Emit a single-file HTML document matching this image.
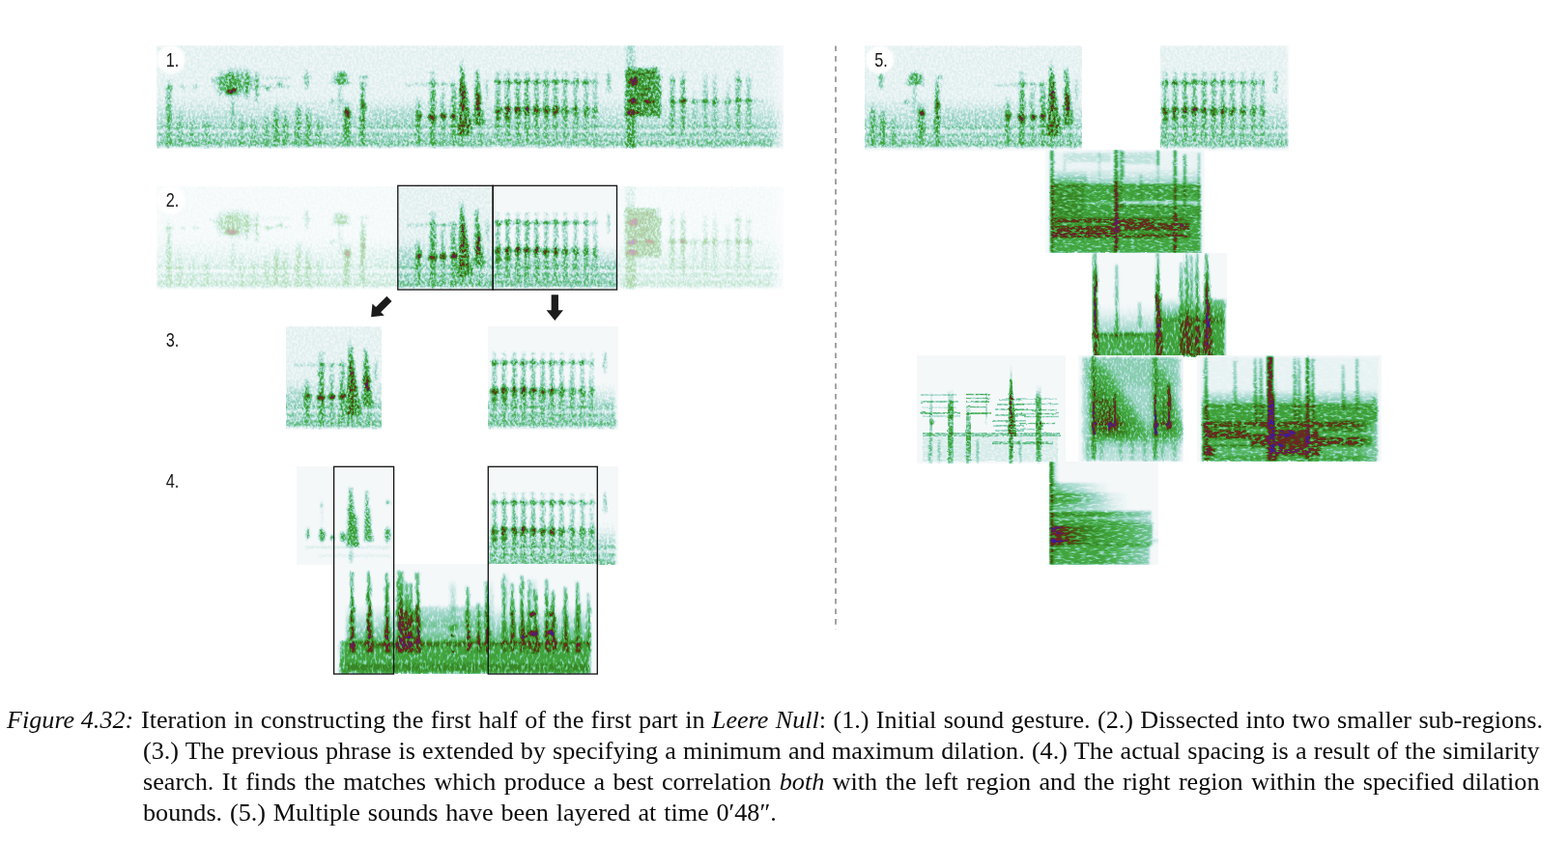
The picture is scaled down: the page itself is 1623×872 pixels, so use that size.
<!DOCTYPE html>
<html lang="en"><head><meta charset="utf-8"><title>Figure 4.32</title>
<style>
html,body{margin:0;padding:0;background:#fff}
body{width:1623px;height:872px;position:relative;overflow:hidden;font-family:"Liberation Serif",serif;color:#0a0a0a}
svg{position:absolute;left:0;top:0}
.x{mix-blend-mode:screen}
.c{position:absolute;font-size:25.3px;line-height:32px;height:32px;white-space:nowrap;transform:scaleX(1.034);transform-origin:0 0}
.j{left:148px;width:1398px;text-align:justify;text-align-last:justify;white-space:normal}
</style></head><body>
<svg width="1623" height="872" viewBox="0 0 1623 872">
<defs><filter id="soft" x="-20%" y="-20%" width="140%" height="140%"><feGaussianBlur stdDeviation="0.9"/></filter>
<linearGradient id="gv" x1="0" y1="0" x2="0" y2="1"><stop offset="0" stop-color="#ff0" stop-opacity="0"/><stop offset="0.25" stop-color="#ff0" stop-opacity="0.8"/><stop offset="0.6" stop-color="#ff0" stop-opacity="1"/><stop offset="1" stop-color="#ff0" stop-opacity="0.5"/></linearGradient>
<linearGradient id="gt" x1="0" y1="0" x2="0" y2="1"><stop offset="0" stop-color="#ff0" stop-opacity="0.7"/><stop offset="0.3" stop-color="#ff0" stop-opacity="0.9"/><stop offset="0.75" stop-color="#ff0" stop-opacity="1"/><stop offset="1" stop-color="#ff0" stop-opacity="0.9"/></linearGradient>
<linearGradient id="gd" x1="0" y1="0" x2="0" y2="1"><stop offset="0" stop-color="#ff0" stop-opacity="0"/><stop offset="1" stop-color="#ff0" stop-opacity="1"/></linearGradient>
<linearGradient id="gu" x1="0" y1="0" x2="0" y2="1"><stop offset="0" stop-color="#ff0" stop-opacity="1"/><stop offset="1" stop-color="#ff0" stop-opacity="0"/></linearGradient>
<linearGradient id="gl" x1="0" y1="0" x2="1" y2="0"><stop offset="0" stop-color="#ff0" stop-opacity="1"/><stop offset="1" stop-color="#ff0" stop-opacity="0"/></linearGradient>
<linearGradient id="gri" x1="0" y1="0" x2="1" y2="0"><stop offset="0" stop-color="#ff0" stop-opacity="0"/><stop offset="1" stop-color="#ff0" stop-opacity="1"/></linearGradient>
<linearGradient id="kd" x1="0" y1="0" x2="0" y2="1"><stop offset="0" stop-color="#000" stop-opacity="0"/><stop offset="1" stop-color="#000" stop-opacity="1"/></linearGradient>
<linearGradient id="ku" x1="0" y1="0" x2="0" y2="1"><stop offset="0" stop-color="#000" stop-opacity="1"/><stop offset="1" stop-color="#000" stop-opacity="0"/></linearGradient>
<linearGradient id="kl" x1="0" y1="0" x2="1" y2="0"><stop offset="0" stop-color="#000" stop-opacity="1"/><stop offset="1" stop-color="#000" stop-opacity="0"/></linearGradient>
<linearGradient id="kri" x1="0" y1="0" x2="1" y2="0"><stop offset="0" stop-color="#000" stop-opacity="0"/><stop offset="1" stop-color="#000" stop-opacity="1"/></linearGradient>
<filter id="sb" x="-30%" y="-30%" width="160%" height="160%"><feGaussianBlur stdDeviation="5"/></filter>
<filter id="sb3" x="-30%" y="-30%" width="160%" height="160%"><feGaussianBlur stdDeviation="2.5"/></filter>
<radialGradient id="hr"><stop offset="0" stop-color="#00f" stop-opacity="1"/><stop offset="0.6" stop-color="#00f" stop-opacity="0.95"/><stop offset="1" stop-color="#00f" stop-opacity="0"/></radialGradient>
<linearGradient id="hv" x1="0" y1="0" x2="0" y2="1"><stop offset="0" stop-color="#00f" stop-opacity="0"/><stop offset="0.2" stop-color="#00f" stop-opacity="0.9"/><stop offset="0.8" stop-color="#00f" stop-opacity="1"/><stop offset="1" stop-color="#00f" stop-opacity="0.3"/></linearGradient>
<linearGradient id="hl" x1="0" y1="0" x2="1" y2="0"><stop offset="0" stop-color="#00f" stop-opacity="1"/><stop offset="1" stop-color="#00f" stop-opacity="0"/></linearGradient>
<radialGradient id="gr"><stop offset="0" stop-color="#ff0" stop-opacity="1"/><stop offset="0.55" stop-color="#ff0" stop-opacity="0.92"/><stop offset="1" stop-color="#ff0" stop-opacity="0"/></radialGradient>
<filter id="f1" filterUnits="userSpaceOnUse" x="162.5" y="47.8" width="648.1" height="106.2" color-interpolation-filters="sRGB"><feGaussianBlur in="SourceGraphic" stdDeviation="0.85" result="b"/><feTurbulence type="fractalNoise" baseFrequency="0.2 0.12" numOctaves="2" seed="20" result="tc"/><feDisplacementMap in="b" in2="tc" scale="3.5" xChannelSelector="R" yChannelSelector="G" result="b"/><feColorMatrix in="b" type="matrix" values="1 0 0 0 0 1 0 0 0 0 1 0 0 0 0 0 0 0 0 1" result="e"/><feColorMatrix in="b" type="matrix" values="0 0 1.12 0 0 0 0 1.12 0 0 0 0 1.12 0 0 0 0 0 0 1" result="h"/><feTurbulence type="fractalNoise" baseFrequency="0.42 0.34" numOctaves="2" seed="3" result="t"/><feColorMatrix in="t" type="matrix" values="3.2 0 0 0 -1 3.2 0 0 0 -1 3.2 0 0 0 -1 0 0 0 0 1" result="n"/><feComposite in="e" in2="n" operator="arithmetic" k1="0.6" k2="0.42" k3="0" k4="-0.04" result="i"/><feComposite in="h" in2="n" operator="arithmetic" k1="0.2" k2="0.8" k3="0" k4="0" result="hh"/><feBlend in="i" in2="hh" mode="lighten" result="ii"/><feComponentTransfer in="ii" result="c"><feFuncR type="table" tableValues="0.961 0.939 0.917 0.895 0.862 0.827 0.791 0.756 0.720 0.684 0.648 0.612 0.576 0.540 0.503 0.466 0.429 0.395 0.371 0.346 0.322 0.297 0.279 0.270 0.261 0.252 0.243 0.237 0.235 0.232 0.229 0.248 0.283 0.318 0.353 0.380 0.407 0.434 0.418 0.392 0.235"/><feFuncG type="table" tableValues="0.973 0.964 0.955 0.947 0.934 0.920 0.907 0.893 0.879 0.865 0.851 0.837 0.824 0.809 0.794 0.779 0.765 0.750 0.734 0.719 0.703 0.688 0.673 0.659 0.645 0.631 0.617 0.594 0.565 0.535 0.506 0.451 0.379 0.307 0.235 0.201 0.167 0.132 0.119 0.110 0.110"/><feFuncB type="table" tableValues="0.980 0.968 0.956 0.944 0.927 0.909 0.892 0.874 0.850 0.825 0.800 0.774 0.749 0.698 0.646 0.595 0.543 0.493 0.447 0.401 0.356 0.310 0.276 0.262 0.247 0.232 0.218 0.200 0.180 0.161 0.141 0.125 0.112 0.099 0.086 0.111 0.135 0.160 0.252 0.361 0.596"/></feComponentTransfer><feGaussianBlur in="c" stdDeviation="0.55"/></filter>
<filter id="f2" filterUnits="userSpaceOnUse" x="162.5" y="193" width="648" height="107" color-interpolation-filters="sRGB"><feGaussianBlur in="SourceGraphic" stdDeviation="0.85" result="b"/><feTurbulence type="fractalNoise" baseFrequency="0.2 0.12" numOctaves="2" seed="20" result="tc"/><feDisplacementMap in="b" in2="tc" scale="3.5" xChannelSelector="R" yChannelSelector="G" result="b"/><feColorMatrix in="b" type="matrix" values="1 0 0 0 0 1 0 0 0 0 1 0 0 0 0 0 0 0 0 1" result="e"/><feColorMatrix in="b" type="matrix" values="0 0 1.12 0 0 0 0 1.12 0 0 0 0 1.12 0 0 0 0 0 0 1" result="h"/><feTurbulence type="fractalNoise" baseFrequency="0.42 0.34" numOctaves="2" seed="3" result="t"/><feColorMatrix in="t" type="matrix" values="3.2 0 0 0 -1 3.2 0 0 0 -1 3.2 0 0 0 -1 0 0 0 0 1" result="n"/><feComposite in="e" in2="n" operator="arithmetic" k1="0.6" k2="0.42" k3="0" k4="-0.04" result="i"/><feComposite in="h" in2="n" operator="arithmetic" k1="0.2" k2="0.8" k3="0" k4="0" result="hh"/><feBlend in="i" in2="hh" mode="lighten" result="ii"/><feComponentTransfer in="ii" result="c"><feFuncR type="table" tableValues="0.961 0.939 0.917 0.895 0.862 0.827 0.791 0.756 0.720 0.684 0.648 0.612 0.576 0.540 0.503 0.466 0.429 0.395 0.371 0.346 0.322 0.297 0.279 0.270 0.261 0.252 0.243 0.237 0.235 0.232 0.229 0.248 0.283 0.318 0.353 0.380 0.407 0.434 0.418 0.392 0.235"/><feFuncG type="table" tableValues="0.973 0.964 0.955 0.947 0.934 0.920 0.907 0.893 0.879 0.865 0.851 0.837 0.824 0.809 0.794 0.779 0.765 0.750 0.734 0.719 0.703 0.688 0.673 0.659 0.645 0.631 0.617 0.594 0.565 0.535 0.506 0.451 0.379 0.307 0.235 0.201 0.167 0.132 0.119 0.110 0.110"/><feFuncB type="table" tableValues="0.980 0.968 0.956 0.944 0.927 0.909 0.892 0.874 0.850 0.825 0.800 0.774 0.749 0.698 0.646 0.595 0.543 0.493 0.447 0.401 0.356 0.310 0.276 0.262 0.247 0.232 0.218 0.200 0.180 0.161 0.141 0.125 0.112 0.099 0.086 0.111 0.135 0.160 0.252 0.361 0.596"/></feComponentTransfer><feGaussianBlur in="c" stdDeviation="0.55"/></filter>
<filter id="f3a" filterUnits="userSpaceOnUse" x="296.5" y="338" width="98.5" height="107" color-interpolation-filters="sRGB"><feGaussianBlur in="SourceGraphic" stdDeviation="0.85" result="b"/><feTurbulence type="fractalNoise" baseFrequency="0.2 0.12" numOctaves="2" seed="20" result="tc"/><feDisplacementMap in="b" in2="tc" scale="3.5" xChannelSelector="R" yChannelSelector="G" result="b"/><feColorMatrix in="b" type="matrix" values="1 0 0 0 0 1 0 0 0 0 1 0 0 0 0 0 0 0 0 1" result="e"/><feColorMatrix in="b" type="matrix" values="0 0 1.12 0 0 0 0 1.12 0 0 0 0 1.12 0 0 0 0 0 0 1" result="h"/><feTurbulence type="fractalNoise" baseFrequency="0.42 0.34" numOctaves="2" seed="3" result="t"/><feColorMatrix in="t" type="matrix" values="3.2 0 0 0 -1 3.2 0 0 0 -1 3.2 0 0 0 -1 0 0 0 0 1" result="n"/><feComposite in="e" in2="n" operator="arithmetic" k1="0.6" k2="0.42" k3="0" k4="-0.04" result="i"/><feComposite in="h" in2="n" operator="arithmetic" k1="0.2" k2="0.8" k3="0" k4="0" result="hh"/><feBlend in="i" in2="hh" mode="lighten" result="ii"/><feComponentTransfer in="ii" result="c"><feFuncR type="table" tableValues="0.961 0.939 0.917 0.895 0.862 0.827 0.791 0.756 0.720 0.684 0.648 0.612 0.576 0.540 0.503 0.466 0.429 0.395 0.371 0.346 0.322 0.297 0.279 0.270 0.261 0.252 0.243 0.237 0.235 0.232 0.229 0.248 0.283 0.318 0.353 0.380 0.407 0.434 0.418 0.392 0.235"/><feFuncG type="table" tableValues="0.973 0.964 0.955 0.947 0.934 0.920 0.907 0.893 0.879 0.865 0.851 0.837 0.824 0.809 0.794 0.779 0.765 0.750 0.734 0.719 0.703 0.688 0.673 0.659 0.645 0.631 0.617 0.594 0.565 0.535 0.506 0.451 0.379 0.307 0.235 0.201 0.167 0.132 0.119 0.110 0.110"/><feFuncB type="table" tableValues="0.980 0.968 0.956 0.944 0.927 0.909 0.892 0.874 0.850 0.825 0.800 0.774 0.749 0.698 0.646 0.595 0.543 0.493 0.447 0.401 0.356 0.310 0.276 0.262 0.247 0.232 0.218 0.200 0.180 0.161 0.141 0.125 0.112 0.099 0.086 0.111 0.135 0.160 0.252 0.361 0.596"/></feComponentTransfer><feGaussianBlur in="c" stdDeviation="0.55"/></filter>
<filter id="f3b" filterUnits="userSpaceOnUse" x="505.5" y="338" width="134" height="107" color-interpolation-filters="sRGB"><feGaussianBlur in="SourceGraphic" stdDeviation="0.85" result="b"/><feTurbulence type="fractalNoise" baseFrequency="0.2 0.12" numOctaves="2" seed="20" result="tc"/><feDisplacementMap in="b" in2="tc" scale="3.5" xChannelSelector="R" yChannelSelector="G" result="b"/><feColorMatrix in="b" type="matrix" values="1 0 0 0 0 1 0 0 0 0 1 0 0 0 0 0 0 0 0 1" result="e"/><feColorMatrix in="b" type="matrix" values="0 0 1.12 0 0 0 0 1.12 0 0 0 0 1.12 0 0 0 0 0 0 1" result="h"/><feTurbulence type="fractalNoise" baseFrequency="0.42 0.34" numOctaves="2" seed="3" result="t"/><feColorMatrix in="t" type="matrix" values="3.2 0 0 0 -1 3.2 0 0 0 -1 3.2 0 0 0 -1 0 0 0 0 1" result="n"/><feComposite in="e" in2="n" operator="arithmetic" k1="0.6" k2="0.42" k3="0" k4="-0.04" result="i"/><feComposite in="h" in2="n" operator="arithmetic" k1="0.2" k2="0.8" k3="0" k4="0" result="hh"/><feBlend in="i" in2="hh" mode="lighten" result="ii"/><feComponentTransfer in="ii" result="c"><feFuncR type="table" tableValues="0.961 0.939 0.917 0.895 0.862 0.827 0.791 0.756 0.720 0.684 0.648 0.612 0.576 0.540 0.503 0.466 0.429 0.395 0.371 0.346 0.322 0.297 0.279 0.270 0.261 0.252 0.243 0.237 0.235 0.232 0.229 0.248 0.283 0.318 0.353 0.380 0.407 0.434 0.418 0.392 0.235"/><feFuncG type="table" tableValues="0.973 0.964 0.955 0.947 0.934 0.920 0.907 0.893 0.879 0.865 0.851 0.837 0.824 0.809 0.794 0.779 0.765 0.750 0.734 0.719 0.703 0.688 0.673 0.659 0.645 0.631 0.617 0.594 0.565 0.535 0.506 0.451 0.379 0.307 0.235 0.201 0.167 0.132 0.119 0.110 0.110"/><feFuncB type="table" tableValues="0.980 0.968 0.956 0.944 0.927 0.909 0.892 0.874 0.850 0.825 0.800 0.774 0.749 0.698 0.646 0.595 0.543 0.493 0.447 0.401 0.356 0.310 0.276 0.262 0.247 0.232 0.218 0.200 0.180 0.161 0.141 0.125 0.112 0.099 0.086 0.111 0.135 0.160 0.252 0.361 0.596"/></feComponentTransfer><feGaussianBlur in="c" stdDeviation="0.55"/></filter>
<filter id="f4b" filterUnits="userSpaceOnUse" x="505.5" y="483" width="134" height="101.6" color-interpolation-filters="sRGB"><feGaussianBlur in="SourceGraphic" stdDeviation="0.85" result="b"/><feTurbulence type="fractalNoise" baseFrequency="0.2 0.12" numOctaves="2" seed="20" result="tc"/><feDisplacementMap in="b" in2="tc" scale="3.5" xChannelSelector="R" yChannelSelector="G" result="b"/><feColorMatrix in="b" type="matrix" values="1 0 0 0 0 1 0 0 0 0 1 0 0 0 0 0 0 0 0 1" result="e"/><feColorMatrix in="b" type="matrix" values="0 0 1.12 0 0 0 0 1.12 0 0 0 0 1.12 0 0 0 0 0 0 1" result="h"/><feTurbulence type="fractalNoise" baseFrequency="0.42 0.34" numOctaves="2" seed="3" result="t"/><feColorMatrix in="t" type="matrix" values="3.2 0 0 0 -1 3.2 0 0 0 -1 3.2 0 0 0 -1 0 0 0 0 1" result="n"/><feComposite in="e" in2="n" operator="arithmetic" k1="0.6" k2="0.42" k3="0" k4="-0.04" result="i"/><feComposite in="h" in2="n" operator="arithmetic" k1="0.2" k2="0.8" k3="0" k4="0" result="hh"/><feBlend in="i" in2="hh" mode="lighten" result="ii"/><feComponentTransfer in="ii" result="c"><feFuncR type="table" tableValues="0.961 0.939 0.917 0.895 0.862 0.827 0.791 0.756 0.720 0.684 0.648 0.612 0.576 0.540 0.503 0.466 0.429 0.395 0.371 0.346 0.322 0.297 0.279 0.270 0.261 0.252 0.243 0.237 0.235 0.232 0.229 0.248 0.283 0.318 0.353 0.380 0.407 0.434 0.418 0.392 0.235"/><feFuncG type="table" tableValues="0.973 0.964 0.955 0.947 0.934 0.920 0.907 0.893 0.879 0.865 0.851 0.837 0.824 0.809 0.794 0.779 0.765 0.750 0.734 0.719 0.703 0.688 0.673 0.659 0.645 0.631 0.617 0.594 0.565 0.535 0.506 0.451 0.379 0.307 0.235 0.201 0.167 0.132 0.119 0.110 0.110"/><feFuncB type="table" tableValues="0.980 0.968 0.956 0.944 0.927 0.909 0.892 0.874 0.850 0.825 0.800 0.774 0.749 0.698 0.646 0.595 0.543 0.493 0.447 0.401 0.356 0.310 0.276 0.262 0.247 0.232 0.218 0.200 0.180 0.161 0.141 0.125 0.112 0.099 0.086 0.111 0.135 0.160 0.252 0.361 0.596"/></feComponentTransfer><feGaussianBlur in="c" stdDeviation="0.55"/></filter>
<filter id="f5a" filterUnits="userSpaceOnUse" x="895.5" y="47.8" width="120.5" height="108.2" color-interpolation-filters="sRGB"><feGaussianBlur in="SourceGraphic" stdDeviation="0.85" result="b"/><feTurbulence type="fractalNoise" baseFrequency="0.2 0.12" numOctaves="2" seed="20" result="tc"/><feDisplacementMap in="b" in2="tc" scale="3.5" xChannelSelector="R" yChannelSelector="G" result="b"/><feColorMatrix in="b" type="matrix" values="1 0 0 0 0 1 0 0 0 0 1 0 0 0 0 0 0 0 0 1" result="e"/><feColorMatrix in="b" type="matrix" values="0 0 1.12 0 0 0 0 1.12 0 0 0 0 1.12 0 0 0 0 0 0 1" result="h"/><feTurbulence type="fractalNoise" baseFrequency="0.42 0.34" numOctaves="2" seed="3" result="t"/><feColorMatrix in="t" type="matrix" values="3.2 0 0 0 -1 3.2 0 0 0 -1 3.2 0 0 0 -1 0 0 0 0 1" result="n"/><feComposite in="e" in2="n" operator="arithmetic" k1="0.6" k2="0.42" k3="0" k4="-0.04" result="i"/><feComposite in="h" in2="n" operator="arithmetic" k1="0.2" k2="0.8" k3="0" k4="0" result="hh"/><feBlend in="i" in2="hh" mode="lighten" result="ii"/><feComponentTransfer in="ii" result="c"><feFuncR type="table" tableValues="0.961 0.939 0.917 0.895 0.862 0.827 0.791 0.756 0.720 0.684 0.648 0.612 0.576 0.540 0.503 0.466 0.429 0.395 0.371 0.346 0.322 0.297 0.279 0.270 0.261 0.252 0.243 0.237 0.235 0.232 0.229 0.248 0.283 0.318 0.353 0.380 0.407 0.434 0.418 0.392 0.235"/><feFuncG type="table" tableValues="0.973 0.964 0.955 0.947 0.934 0.920 0.907 0.893 0.879 0.865 0.851 0.837 0.824 0.809 0.794 0.779 0.765 0.750 0.734 0.719 0.703 0.688 0.673 0.659 0.645 0.631 0.617 0.594 0.565 0.535 0.506 0.451 0.379 0.307 0.235 0.201 0.167 0.132 0.119 0.110 0.110"/><feFuncB type="table" tableValues="0.980 0.968 0.956 0.944 0.927 0.909 0.892 0.874 0.850 0.825 0.800 0.774 0.749 0.698 0.646 0.595 0.543 0.493 0.447 0.401 0.356 0.310 0.276 0.262 0.247 0.232 0.218 0.200 0.180 0.161 0.141 0.125 0.112 0.099 0.086 0.111 0.135 0.160 0.252 0.361 0.596"/></feComponentTransfer><feGaussianBlur in="c" stdDeviation="0.55"/></filter>
<filter id="f5b" filterUnits="userSpaceOnUse" x="1016" y="47.8" width="104" height="108.2" color-interpolation-filters="sRGB"><feGaussianBlur in="SourceGraphic" stdDeviation="0.85" result="b"/><feTurbulence type="fractalNoise" baseFrequency="0.2 0.12" numOctaves="2" seed="20" result="tc"/><feDisplacementMap in="b" in2="tc" scale="3.5" xChannelSelector="R" yChannelSelector="G" result="b"/><feColorMatrix in="b" type="matrix" values="1 0 0 0 0 1 0 0 0 0 1 0 0 0 0 0 0 0 0 1" result="e"/><feColorMatrix in="b" type="matrix" values="0 0 1.12 0 0 0 0 1.12 0 0 0 0 1.12 0 0 0 0 0 0 1" result="h"/><feTurbulence type="fractalNoise" baseFrequency="0.42 0.34" numOctaves="2" seed="3" result="t"/><feColorMatrix in="t" type="matrix" values="3.2 0 0 0 -1 3.2 0 0 0 -1 3.2 0 0 0 -1 0 0 0 0 1" result="n"/><feComposite in="e" in2="n" operator="arithmetic" k1="0.6" k2="0.42" k3="0" k4="-0.04" result="i"/><feComposite in="h" in2="n" operator="arithmetic" k1="0.2" k2="0.8" k3="0" k4="0" result="hh"/><feBlend in="i" in2="hh" mode="lighten" result="ii"/><feComponentTransfer in="ii" result="c"><feFuncR type="table" tableValues="0.961 0.939 0.917 0.895 0.862 0.827 0.791 0.756 0.720 0.684 0.648 0.612 0.576 0.540 0.503 0.466 0.429 0.395 0.371 0.346 0.322 0.297 0.279 0.270 0.261 0.252 0.243 0.237 0.235 0.232 0.229 0.248 0.283 0.318 0.353 0.380 0.407 0.434 0.418 0.392 0.235"/><feFuncG type="table" tableValues="0.973 0.964 0.955 0.947 0.934 0.920 0.907 0.893 0.879 0.865 0.851 0.837 0.824 0.809 0.794 0.779 0.765 0.750 0.734 0.719 0.703 0.688 0.673 0.659 0.645 0.631 0.617 0.594 0.565 0.535 0.506 0.451 0.379 0.307 0.235 0.201 0.167 0.132 0.119 0.110 0.110"/><feFuncB type="table" tableValues="0.980 0.968 0.956 0.944 0.927 0.909 0.892 0.874 0.850 0.825 0.800 0.774 0.749 0.698 0.646 0.595 0.543 0.493 0.447 0.401 0.356 0.310 0.276 0.262 0.247 0.232 0.218 0.200 0.180 0.161 0.141 0.125 0.112 0.099 0.086 0.111 0.135 0.160 0.252 0.361 0.596"/></feComponentTransfer><feGaussianBlur in="c" stdDeviation="0.55"/></filter>
<filter id="f5c" filterUnits="userSpaceOnUse" x="1201" y="47.8" width="133" height="108.2" color-interpolation-filters="sRGB"><feGaussianBlur in="SourceGraphic" stdDeviation="0.85" result="b"/><feTurbulence type="fractalNoise" baseFrequency="0.2 0.12" numOctaves="2" seed="20" result="tc"/><feDisplacementMap in="b" in2="tc" scale="3.5" xChannelSelector="R" yChannelSelector="G" result="b"/><feColorMatrix in="b" type="matrix" values="1 0 0 0 0 1 0 0 0 0 1 0 0 0 0 0 0 0 0 1" result="e"/><feColorMatrix in="b" type="matrix" values="0 0 1.12 0 0 0 0 1.12 0 0 0 0 1.12 0 0 0 0 0 0 1" result="h"/><feTurbulence type="fractalNoise" baseFrequency="0.42 0.34" numOctaves="2" seed="3" result="t"/><feColorMatrix in="t" type="matrix" values="3.2 0 0 0 -1 3.2 0 0 0 -1 3.2 0 0 0 -1 0 0 0 0 1" result="n"/><feComposite in="e" in2="n" operator="arithmetic" k1="0.6" k2="0.42" k3="0" k4="-0.04" result="i"/><feComposite in="h" in2="n" operator="arithmetic" k1="0.2" k2="0.8" k3="0" k4="0" result="hh"/><feBlend in="i" in2="hh" mode="lighten" result="ii"/><feComponentTransfer in="ii" result="c"><feFuncR type="table" tableValues="0.961 0.939 0.917 0.895 0.862 0.827 0.791 0.756 0.720 0.684 0.648 0.612 0.576 0.540 0.503 0.466 0.429 0.395 0.371 0.346 0.322 0.297 0.279 0.270 0.261 0.252 0.243 0.237 0.235 0.232 0.229 0.248 0.283 0.318 0.353 0.380 0.407 0.434 0.418 0.392 0.235"/><feFuncG type="table" tableValues="0.973 0.964 0.955 0.947 0.934 0.920 0.907 0.893 0.879 0.865 0.851 0.837 0.824 0.809 0.794 0.779 0.765 0.750 0.734 0.719 0.703 0.688 0.673 0.659 0.645 0.631 0.617 0.594 0.565 0.535 0.506 0.451 0.379 0.307 0.235 0.201 0.167 0.132 0.119 0.110 0.110"/><feFuncB type="table" tableValues="0.980 0.968 0.956 0.944 0.927 0.909 0.892 0.874 0.850 0.825 0.800 0.774 0.749 0.698 0.646 0.595 0.543 0.493 0.447 0.401 0.356 0.310 0.276 0.262 0.247 0.232 0.218 0.200 0.180 0.161 0.141 0.125 0.112 0.099 0.086 0.111 0.135 0.160 0.252 0.361 0.596"/></feComponentTransfer><feGaussianBlur in="c" stdDeviation="0.55"/></filter>
<filter id="f4a" filterUnits="userSpaceOnUse" x="307" y="483.3" width="100.6" height="101.7" color-interpolation-filters="sRGB"><feGaussianBlur in="SourceGraphic" stdDeviation="0.85" result="b"/><feTurbulence type="fractalNoise" baseFrequency="0.2 0.12" numOctaves="2" seed="24" result="tc"/><feDisplacementMap in="b" in2="tc" scale="3.5" xChannelSelector="R" yChannelSelector="G" result="b"/><feColorMatrix in="b" type="matrix" values="1 0 0 0 0 1 0 0 0 0 1 0 0 0 0 0 0 0 0 1" result="e"/><feColorMatrix in="b" type="matrix" values="0 0 1.12 0 0 0 0 1.12 0 0 0 0 1.12 0 0 0 0 0 0 1" result="h"/><feTurbulence type="fractalNoise" baseFrequency="0.5 0.45" numOctaves="2" seed="7" result="t"/><feColorMatrix in="t" type="matrix" values="3.2 0 0 0 -0.9 3.2 0 0 0 -0.9 3.2 0 0 0 -0.9 0 0 0 0 1" result="n"/><feComposite in="e" in2="n" operator="arithmetic" k1="0.6" k2="0.4" k3="0" k4="0" result="i"/><feComposite in="h" in2="n" operator="arithmetic" k1="0.2" k2="0.8" k3="0" k4="0" result="hh"/><feBlend in="i" in2="hh" mode="lighten" result="ii"/><feComponentTransfer in="ii" result="c"><feFuncR type="table" tableValues="0.961 0.939 0.917 0.895 0.862 0.827 0.791 0.756 0.720 0.684 0.648 0.612 0.576 0.540 0.503 0.466 0.429 0.395 0.371 0.346 0.322 0.297 0.279 0.270 0.261 0.252 0.243 0.237 0.235 0.232 0.229 0.248 0.283 0.318 0.353 0.380 0.407 0.434 0.418 0.392 0.235"/><feFuncG type="table" tableValues="0.973 0.964 0.955 0.947 0.934 0.920 0.907 0.893 0.879 0.865 0.851 0.837 0.824 0.809 0.794 0.779 0.765 0.750 0.734 0.719 0.703 0.688 0.673 0.659 0.645 0.631 0.617 0.594 0.565 0.535 0.506 0.451 0.379 0.307 0.235 0.201 0.167 0.132 0.119 0.110 0.110"/><feFuncB type="table" tableValues="0.980 0.968 0.956 0.944 0.927 0.909 0.892 0.874 0.850 0.825 0.800 0.774 0.749 0.698 0.646 0.595 0.543 0.493 0.447 0.401 0.356 0.310 0.276 0.262 0.247 0.232 0.218 0.200 0.180 0.161 0.141 0.125 0.112 0.099 0.086 0.111 0.135 0.160 0.252 0.361 0.596"/></feComponentTransfer><feGaussianBlur in="c" stdDeviation="0.55"/></filter>
<filter id="f4c" filterUnits="userSpaceOnUse" x="345.5" y="584.3" width="272.8" height="113.7" color-interpolation-filters="sRGB"><feGaussianBlur in="SourceGraphic" stdDeviation="0.8" result="b"/><feTurbulence type="fractalNoise" baseFrequency="0.25 0.08" numOctaves="2" seed="28" result="tc"/><feDisplacementMap in="b" in2="tc" scale="3.5" xChannelSelector="R" yChannelSelector="G" result="b"/><feColorMatrix in="b" type="matrix" values="1 0 0 0 0 1 0 0 0 0 1 0 0 0 0 0 0 0 0 1" result="e"/><feColorMatrix in="b" type="matrix" values="0 0 1.12 0 0 0 0 1.12 0 0 0 0 1.12 0 0 0 0 0 0 1" result="h"/><feTurbulence type="fractalNoise" baseFrequency="0.4 0.18" numOctaves="2" seed="11" result="t"/><feColorMatrix in="t" type="matrix" values="3.4 0 0 0 -0.8 3.4 0 0 0 -0.8 3.4 0 0 0 -0.8 0 0 0 0 1" result="n"/><feComposite in="e" in2="n" operator="arithmetic" k1="0.55" k2="0.45" k3="0" k4="0" result="i"/><feComposite in="h" in2="n" operator="arithmetic" k1="0.2" k2="0.8" k3="0" k4="0" result="hh"/><feBlend in="i" in2="hh" mode="lighten" result="ii"/><feComponentTransfer in="ii" result="c"><feFuncR type="table" tableValues="0.961 0.939 0.917 0.895 0.862 0.827 0.791 0.756 0.720 0.684 0.648 0.612 0.576 0.540 0.503 0.466 0.429 0.395 0.371 0.346 0.322 0.297 0.279 0.270 0.261 0.252 0.243 0.237 0.235 0.232 0.229 0.248 0.283 0.318 0.353 0.380 0.407 0.434 0.418 0.392 0.235"/><feFuncG type="table" tableValues="0.973 0.964 0.955 0.947 0.934 0.920 0.907 0.893 0.879 0.865 0.851 0.837 0.824 0.809 0.794 0.779 0.765 0.750 0.734 0.719 0.703 0.688 0.673 0.659 0.645 0.631 0.617 0.594 0.565 0.535 0.506 0.451 0.379 0.307 0.235 0.201 0.167 0.132 0.119 0.110 0.110"/><feFuncB type="table" tableValues="0.980 0.968 0.956 0.944 0.927 0.909 0.892 0.874 0.850 0.825 0.800 0.774 0.749 0.698 0.646 0.595 0.543 0.493 0.447 0.401 0.356 0.310 0.276 0.262 0.247 0.232 0.218 0.200 0.180 0.161 0.141 0.125 0.112 0.099 0.086 0.111 0.135 0.160 0.252 0.361 0.596"/></feComponentTransfer><feGaussianBlur in="c" stdDeviation="0.55"/></filter>
<filter id="fD" filterUnits="userSpaceOnUse" x="1082.5" y="155" width="163.8" height="107" color-interpolation-filters="sRGB"><feGaussianBlur in="SourceGraphic" stdDeviation="0.8" result="b"/><feTurbulence type="fractalNoise" baseFrequency="0.1 0.3" numOctaves="2" seed="38" result="tc"/><feDisplacementMap in="b" in2="tc" scale="2" xChannelSelector="R" yChannelSelector="G" result="b"/><feColorMatrix in="b" type="matrix" values="1 0 0 0 0 1 0 0 0 0 1 0 0 0 0 0 0 0 0 1" result="e"/><feColorMatrix in="b" type="matrix" values="0 0 1.12 0 0 0 0 1.12 0 0 0 0 1.12 0 0 0 0 0 0 1" result="h"/><feTurbulence type="fractalNoise" baseFrequency="0.2 0.42" numOctaves="2" seed="21" result="t"/><feColorMatrix in="t" type="matrix" values="3.4 0 0 0 -0.8 3.4 0 0 0 -0.8 3.4 0 0 0 -0.8 0 0 0 0 1" result="n"/><feComposite in="e" in2="n" operator="arithmetic" k1="0.55" k2="0.45" k3="0" k4="0" result="i"/><feComposite in="h" in2="n" operator="arithmetic" k1="0.2" k2="0.8" k3="0" k4="0" result="hh"/><feBlend in="i" in2="hh" mode="lighten" result="ii"/><feComponentTransfer in="ii" result="c"><feFuncR type="table" tableValues="0.961 0.939 0.917 0.895 0.862 0.827 0.791 0.756 0.720 0.684 0.648 0.612 0.576 0.540 0.503 0.466 0.429 0.395 0.371 0.346 0.322 0.297 0.279 0.270 0.261 0.252 0.243 0.237 0.235 0.232 0.229 0.248 0.283 0.318 0.353 0.380 0.407 0.434 0.418 0.392 0.235"/><feFuncG type="table" tableValues="0.973 0.964 0.955 0.947 0.934 0.920 0.907 0.893 0.879 0.865 0.851 0.837 0.824 0.809 0.794 0.779 0.765 0.750 0.734 0.719 0.703 0.688 0.673 0.659 0.645 0.631 0.617 0.594 0.565 0.535 0.506 0.451 0.379 0.307 0.235 0.201 0.167 0.132 0.119 0.110 0.110"/><feFuncB type="table" tableValues="0.980 0.968 0.956 0.944 0.927 0.909 0.892 0.874 0.850 0.825 0.800 0.774 0.749 0.698 0.646 0.595 0.543 0.493 0.447 0.401 0.356 0.310 0.276 0.262 0.247 0.232 0.218 0.200 0.180 0.161 0.141 0.125 0.112 0.099 0.086 0.111 0.135 0.160 0.252 0.361 0.596"/></feComponentTransfer><feGaussianBlur in="c" stdDeviation="0.55"/></filter>
<filter id="fE" filterUnits="userSpaceOnUse" x="1130" y="262" width="140" height="107.7" color-interpolation-filters="sRGB"><feGaussianBlur in="SourceGraphic" stdDeviation="0.8" result="b"/><feTurbulence type="fractalNoise" baseFrequency="0.25 0.08" numOctaves="2" seed="48" result="tc"/><feDisplacementMap in="b" in2="tc" scale="3.5" xChannelSelector="R" yChannelSelector="G" result="b"/><feColorMatrix in="b" type="matrix" values="1 0 0 0 0 1 0 0 0 0 1 0 0 0 0 0 0 0 0 1" result="e"/><feColorMatrix in="b" type="matrix" values="0 0 1.12 0 0 0 0 1.12 0 0 0 0 1.12 0 0 0 0 0 0 1" result="h"/><feTurbulence type="fractalNoise" baseFrequency="0.45 0.18" numOctaves="2" seed="31" result="t"/><feColorMatrix in="t" type="matrix" values="3.4 0 0 0 -0.8 3.4 0 0 0 -0.8 3.4 0 0 0 -0.8 0 0 0 0 1" result="n"/><feComposite in="e" in2="n" operator="arithmetic" k1="0.55" k2="0.45" k3="0" k4="0" result="i"/><feComposite in="h" in2="n" operator="arithmetic" k1="0.2" k2="0.8" k3="0" k4="0" result="hh"/><feBlend in="i" in2="hh" mode="lighten" result="ii"/><feComponentTransfer in="ii" result="c"><feFuncR type="table" tableValues="0.961 0.939 0.917 0.895 0.862 0.827 0.791 0.756 0.720 0.684 0.648 0.612 0.576 0.540 0.503 0.466 0.429 0.395 0.371 0.346 0.322 0.297 0.279 0.270 0.261 0.252 0.243 0.237 0.235 0.232 0.229 0.248 0.283 0.318 0.353 0.380 0.407 0.434 0.418 0.392 0.235"/><feFuncG type="table" tableValues="0.973 0.964 0.955 0.947 0.934 0.920 0.907 0.893 0.879 0.865 0.851 0.837 0.824 0.809 0.794 0.779 0.765 0.750 0.734 0.719 0.703 0.688 0.673 0.659 0.645 0.631 0.617 0.594 0.565 0.535 0.506 0.451 0.379 0.307 0.235 0.201 0.167 0.132 0.119 0.110 0.110"/><feFuncB type="table" tableValues="0.980 0.968 0.956 0.944 0.927 0.909 0.892 0.874 0.850 0.825 0.800 0.774 0.749 0.698 0.646 0.595 0.543 0.493 0.447 0.401 0.356 0.310 0.276 0.262 0.247 0.232 0.218 0.200 0.180 0.161 0.141 0.125 0.112 0.099 0.086 0.111 0.135 0.160 0.252 0.361 0.596"/></feComponentTransfer><feGaussianBlur in="c" stdDeviation="0.55"/></filter>
<filter id="fF" filterUnits="userSpaceOnUse" x="949.3" y="368.3" width="153.2" height="111.7" color-interpolation-filters="sRGB"><feGaussianBlur in="SourceGraphic" stdDeviation="0.6" result="b"/><feTurbulence type="fractalNoise" baseFrequency="0.15 0.2" numOctaves="2" seed="58" result="tc"/><feDisplacementMap in="b" in2="tc" scale="2.5" xChannelSelector="R" yChannelSelector="G" result="b"/><feColorMatrix in="b" type="matrix" values="1 0 0 0 0 1 0 0 0 0 1 0 0 0 0 0 0 0 0 1" result="e"/><feColorMatrix in="b" type="matrix" values="0 0 1.12 0 0 0 0 1.12 0 0 0 0 1.12 0 0 0 0 0 0 1" result="h"/><feTurbulence type="fractalNoise" baseFrequency="0.3 0.5" numOctaves="2" seed="41" result="t"/><feColorMatrix in="t" type="matrix" values="3.2 0 0 0 -0.9 3.2 0 0 0 -0.9 3.2 0 0 0 -0.9 0 0 0 0 1" result="n"/><feComposite in="e" in2="n" operator="arithmetic" k1="0.6" k2="0.4" k3="0" k4="0" result="i"/><feComposite in="h" in2="n" operator="arithmetic" k1="0.2" k2="0.8" k3="0" k4="0" result="hh"/><feBlend in="i" in2="hh" mode="lighten" result="ii"/><feComponentTransfer in="ii" result="c"><feFuncR type="table" tableValues="0.961 0.939 0.917 0.895 0.862 0.827 0.791 0.756 0.720 0.684 0.648 0.612 0.576 0.540 0.503 0.466 0.429 0.395 0.371 0.346 0.322 0.297 0.279 0.270 0.261 0.252 0.243 0.237 0.235 0.232 0.229 0.248 0.283 0.318 0.353 0.380 0.407 0.434 0.418 0.392 0.235"/><feFuncG type="table" tableValues="0.973 0.964 0.955 0.947 0.934 0.920 0.907 0.893 0.879 0.865 0.851 0.837 0.824 0.809 0.794 0.779 0.765 0.750 0.734 0.719 0.703 0.688 0.673 0.659 0.645 0.631 0.617 0.594 0.565 0.535 0.506 0.451 0.379 0.307 0.235 0.201 0.167 0.132 0.119 0.110 0.110"/><feFuncB type="table" tableValues="0.980 0.968 0.956 0.944 0.927 0.909 0.892 0.874 0.850 0.825 0.800 0.774 0.749 0.698 0.646 0.595 0.543 0.493 0.447 0.401 0.356 0.310 0.276 0.262 0.247 0.232 0.218 0.200 0.180 0.161 0.141 0.125 0.112 0.099 0.086 0.111 0.135 0.160 0.252 0.361 0.596"/></feComponentTransfer><feGaussianBlur in="c" stdDeviation="0.45"/></filter>
<filter id="fG" filterUnits="userSpaceOnUse" x="1116" y="368.3" width="109" height="109.7" color-interpolation-filters="sRGB"><feGaussianBlur in="SourceGraphic" stdDeviation="0.8" result="b"/><feTurbulence type="fractalNoise" baseFrequency="0.2 0.1" numOctaves="2" seed="68" result="tc"/><feDisplacementMap in="b" in2="tc" scale="3.5" xChannelSelector="R" yChannelSelector="G" result="b"/><feColorMatrix in="b" type="matrix" values="1 0 0 0 0 1 0 0 0 0 1 0 0 0 0 0 0 0 0 1" result="e"/><feColorMatrix in="b" type="matrix" values="0 0 1.12 0 0 0 0 1.12 0 0 0 0 1.12 0 0 0 0 0 0 1" result="h"/><feTurbulence type="fractalNoise" baseFrequency="0.5 0.3" numOctaves="2" seed="51" result="t"/><feColorMatrix in="t" type="matrix" values="3.4 0 0 0 -0.8 3.4 0 0 0 -0.8 3.4 0 0 0 -0.8 0 0 0 0 1" result="n"/><feComposite in="e" in2="n" operator="arithmetic" k1="0.55" k2="0.45" k3="0" k4="0" result="i"/><feComposite in="h" in2="n" operator="arithmetic" k1="0.2" k2="0.8" k3="0" k4="0" result="hh"/><feBlend in="i" in2="hh" mode="lighten" result="ii"/><feComponentTransfer in="ii" result="c"><feFuncR type="table" tableValues="0.961 0.939 0.917 0.895 0.862 0.827 0.791 0.756 0.720 0.684 0.648 0.612 0.576 0.540 0.503 0.466 0.429 0.395 0.371 0.346 0.322 0.297 0.279 0.270 0.261 0.252 0.243 0.237 0.235 0.232 0.229 0.248 0.283 0.318 0.353 0.380 0.407 0.434 0.418 0.392 0.235"/><feFuncG type="table" tableValues="0.973 0.964 0.955 0.947 0.934 0.920 0.907 0.893 0.879 0.865 0.851 0.837 0.824 0.809 0.794 0.779 0.765 0.750 0.734 0.719 0.703 0.688 0.673 0.659 0.645 0.631 0.617 0.594 0.565 0.535 0.506 0.451 0.379 0.307 0.235 0.201 0.167 0.132 0.119 0.110 0.110"/><feFuncB type="table" tableValues="0.980 0.968 0.956 0.944 0.927 0.909 0.892 0.874 0.850 0.825 0.800 0.774 0.749 0.698 0.646 0.595 0.543 0.493 0.447 0.401 0.356 0.310 0.276 0.262 0.247 0.232 0.218 0.200 0.180 0.161 0.141 0.125 0.112 0.099 0.086 0.111 0.135 0.160 0.252 0.361 0.596"/></feComponentTransfer><feGaussianBlur in="c" stdDeviation="0.55"/></filter>
<filter id="fH" filterUnits="userSpaceOnUse" x="1239" y="368.3" width="190.5" height="109.2" color-interpolation-filters="sRGB"><feGaussianBlur in="SourceGraphic" stdDeviation="0.8" result="b"/><feTurbulence type="fractalNoise" baseFrequency="0.1 0.25" numOctaves="2" seed="78" result="tc"/><feDisplacementMap in="b" in2="tc" scale="2.5" xChannelSelector="R" yChannelSelector="G" result="b"/><feColorMatrix in="b" type="matrix" values="1 0 0 0 0 1 0 0 0 0 1 0 0 0 0 0 0 0 0 1" result="e"/><feColorMatrix in="b" type="matrix" values="0 0 1.12 0 0 0 0 1.12 0 0 0 0 1.12 0 0 0 0 0 0 1" result="h"/><feTurbulence type="fractalNoise" baseFrequency="0.2 0.4" numOctaves="2" seed="61" result="t"/><feColorMatrix in="t" type="matrix" values="3.4 0 0 0 -0.8 3.4 0 0 0 -0.8 3.4 0 0 0 -0.8 0 0 0 0 1" result="n"/><feComposite in="e" in2="n" operator="arithmetic" k1="0.55" k2="0.45" k3="0" k4="0" result="i"/><feComposite in="h" in2="n" operator="arithmetic" k1="0.2" k2="0.8" k3="0" k4="0" result="hh"/><feBlend in="i" in2="hh" mode="lighten" result="ii"/><feComponentTransfer in="ii" result="c"><feFuncR type="table" tableValues="0.961 0.939 0.917 0.895 0.862 0.827 0.791 0.756 0.720 0.684 0.648 0.612 0.576 0.540 0.503 0.466 0.429 0.395 0.371 0.346 0.322 0.297 0.279 0.270 0.261 0.252 0.243 0.237 0.235 0.232 0.229 0.248 0.283 0.318 0.353 0.380 0.407 0.434 0.418 0.392 0.235"/><feFuncG type="table" tableValues="0.973 0.964 0.955 0.947 0.934 0.920 0.907 0.893 0.879 0.865 0.851 0.837 0.824 0.809 0.794 0.779 0.765 0.750 0.734 0.719 0.703 0.688 0.673 0.659 0.645 0.631 0.617 0.594 0.565 0.535 0.506 0.451 0.379 0.307 0.235 0.201 0.167 0.132 0.119 0.110 0.110"/><feFuncB type="table" tableValues="0.980 0.968 0.956 0.944 0.927 0.909 0.892 0.874 0.850 0.825 0.800 0.774 0.749 0.698 0.646 0.595 0.543 0.493 0.447 0.401 0.356 0.310 0.276 0.262 0.247 0.232 0.218 0.200 0.180 0.161 0.141 0.125 0.112 0.099 0.086 0.111 0.135 0.160 0.252 0.361 0.596"/></feComponentTransfer><feGaussianBlur in="c" stdDeviation="0.55"/></filter>
<filter id="fI" filterUnits="userSpaceOnUse" x="1086" y="478" width="113" height="106.6" color-interpolation-filters="sRGB"><feGaussianBlur in="SourceGraphic" stdDeviation="0.8" result="b"/><feTurbulence type="fractalNoise" baseFrequency="0.08 0.3" numOctaves="2" seed="88" result="tc"/><feDisplacementMap in="b" in2="tc" scale="2" xChannelSelector="R" yChannelSelector="G" result="b"/><feColorMatrix in="b" type="matrix" values="1 0 0 0 0 1 0 0 0 0 1 0 0 0 0 0 0 0 0 1" result="e"/><feColorMatrix in="b" type="matrix" values="0 0 1.12 0 0 0 0 1.12 0 0 0 0 1.12 0 0 0 0 0 0 1" result="h"/><feTurbulence type="fractalNoise" baseFrequency="0.16 0.45" numOctaves="2" seed="71" result="t"/><feColorMatrix in="t" type="matrix" values="3.4 0 0 0 -0.8 3.4 0 0 0 -0.8 3.4 0 0 0 -0.8 0 0 0 0 1" result="n"/><feComposite in="e" in2="n" operator="arithmetic" k1="0.55" k2="0.45" k3="0" k4="0" result="i"/><feComposite in="h" in2="n" operator="arithmetic" k1="0.2" k2="0.8" k3="0" k4="0" result="hh"/><feBlend in="i" in2="hh" mode="lighten" result="ii"/><feComponentTransfer in="ii" result="c"><feFuncR type="table" tableValues="0.961 0.939 0.917 0.895 0.862 0.827 0.791 0.756 0.720 0.684 0.648 0.612 0.576 0.540 0.503 0.466 0.429 0.395 0.371 0.346 0.322 0.297 0.279 0.270 0.261 0.252 0.243 0.237 0.235 0.232 0.229 0.248 0.283 0.318 0.353 0.380 0.407 0.434 0.418 0.392 0.235"/><feFuncG type="table" tableValues="0.973 0.964 0.955 0.947 0.934 0.920 0.907 0.893 0.879 0.865 0.851 0.837 0.824 0.809 0.794 0.779 0.765 0.750 0.734 0.719 0.703 0.688 0.673 0.659 0.645 0.631 0.617 0.594 0.565 0.535 0.506 0.451 0.379 0.307 0.235 0.201 0.167 0.132 0.119 0.110 0.110"/><feFuncB type="table" tableValues="0.980 0.968 0.956 0.944 0.927 0.909 0.892 0.874 0.850 0.825 0.800 0.774 0.749 0.698 0.646 0.595 0.543 0.493 0.447 0.401 0.356 0.310 0.276 0.262 0.247 0.232 0.218 0.200 0.180 0.161 0.141 0.125 0.112 0.099 0.086 0.111 0.135 0.160 0.252 0.361 0.596"/></feComponentTransfer><feGaussianBlur in="c" stdDeviation="0.55"/></filter></defs>
<g filter="url(#f1)"><rect x="159.5" y="44.8" width="654.1" height="112.2" fill="#000"/><rect x="162" y="47" width="649" height="107" fill="#ff0" opacity="0.13"/><rect x="162" y="100" width="649" height="28" fill="url(#gd)" opacity="0.2"/><rect x="162" y="128" width="649" height="25" fill="#ff0" opacity="0.21"/><rect x="162" y="130.6" width="643" height="1.8" fill="#ff0" opacity="0.27"/><rect x="162" y="138.2" width="643" height="2.6" fill="#ff0" opacity="0.21"/><rect x="162" y="144.75" width="638" height="6.5" fill="#ff0" opacity="0.22"/><rect x="162" y="134" width="649" height="2.5" fill="#000" opacity="0.5"/><rect x="162" y="152.3" width="649" height="1.7" fill="#000" opacity="0.6"/><rect x="797" y="47" width="14" height="107" fill="url(#kri)" opacity="0.6"/><rect x="172.7" y="80" width="4.6" height="72" fill="url(#gv)" opacity="0.56"/><ellipse cx="175" cy="91" rx="4.5" ry="3.5" fill="url(#gr)" opacity="0.45"/><ellipse cx="189" cy="91" rx="3.5" ry="2.5" fill="url(#gr)" opacity="0.3"/><ellipse cx="202.5" cy="90" rx="3" ry="3.5" fill="url(#gr)" opacity="0.27"/><rect x="183.2" y="110" width="5.6" height="42" fill="url(#gv)" opacity="0.26"/><rect x="196.7" y="118" width="4.6" height="34" fill="url(#gv)" opacity="0.22"/><ellipse cx="244" cy="86" rx="24.5" ry="17.5" fill="url(#gr)" opacity="0.39"/><ellipse cx="240" cy="87" rx="12.5" ry="13.5" fill="url(#gr)" opacity="0.45"/><ellipse cx="240" cy="94.5" rx="8" ry="3.5" fill="url(#gr)" opacity="0.98"/><ellipse cx="238" cy="80" rx="3.5" ry="3.5" fill="url(#gr)" opacity="0.38"/><rect x="218" y="82.25" width="8" height="1.5" fill="#ff0" opacity="0.56"/><rect x="226.45" y="72" width="3.1" height="28" fill="url(#gv)" opacity="0.46"/><rect x="254.45" y="70" width="3.1" height="33" fill="url(#gv)" opacity="0.65"/><rect x="264.2" y="72" width="3.6" height="33" fill="url(#gv)" opacity="0.56"/><rect x="238.7" y="98" width="4.6" height="37" fill="url(#gv)" opacity="0.28"/><rect x="270" y="80.25" width="30" height="1.5" fill="#ff0" opacity="0.24"/><rect x="270" y="88.5" width="30" height="2" fill="#ff0" opacity="0.32"/><ellipse cx="277" cy="91" rx="3.5" ry="3" fill="url(#gr)" opacity="0.45"/><ellipse cx="290" cy="87" rx="3.5" ry="3.5" fill="url(#gr)" opacity="0.45"/><rect x="315.95" y="71" width="3.1" height="21" fill="url(#gv)" opacity="0.56"/><rect x="313" y="79.25" width="10" height="1.5" fill="#ff0" opacity="0.4"/><rect x="273.45" y="118" width="5.1" height="34" fill="url(#gv)" opacity="0.37"/><rect x="283.45" y="108" width="5.1" height="44" fill="url(#gv)" opacity="0.56"/><rect x="292.45" y="112" width="5.1" height="40" fill="url(#gv)" opacity="0.41"/><rect x="306.45" y="104" width="5.1" height="48" fill="url(#gv)" opacity="0.52"/><rect x="316.45" y="110" width="5.1" height="42" fill="url(#gv)" opacity="0.52"/><rect x="327.45" y="118" width="5.1" height="34" fill="url(#gv)" opacity="0.28"/><rect x="247.45" y="116" width="5.1" height="36" fill="url(#gv)" opacity="0.26"/><rect x="260.45" y="120" width="5.1" height="32" fill="url(#gv)" opacity="0.26"/><rect x="211.45" y="118" width="5.1" height="34" fill="url(#gv)" opacity="0.26"/><ellipse cx="353" cy="81" rx="9.5" ry="8.5" fill="url(#gr)" opacity="0.6"/><rect x="343" y="85" width="20" height="2" fill="#ff0" opacity="0.4"/><ellipse cx="344" cy="105" rx="3" ry="2.5" fill="url(#gr)" opacity="0.6"/><rect x="355.7" y="104" width="6.6" height="46" fill="url(#gv)" opacity="0.65"/><ellipse cx="359.5" cy="117" rx="4" ry="5" fill="url(#gr)" opacity="0.98"/><rect x="350.2" y="84" width="3.6" height="34" fill="url(#gv)" opacity="0.28"/><rect x="373.45" y="77" width="4.1" height="73" fill="url(#gv)" opacity="0.83"/><ellipse cx="376" cy="108" rx="3" ry="6.5" fill="url(#gr)" opacity="0.68"/><rect x="374" y="78.75" width="7" height="1.5" fill="#ff0" opacity="0.64"/><rect x="374" y="87.9" width="7" height="1.2" fill="#ff0" opacity="0.4"/><rect x="383" y="112" width="49" height="20" fill="#ff0" opacity="0.08"/><rect x="420" y="86.7" width="54" height="1.6" fill="#ff0" opacity="0.32"/><rect x="430.7" y="100" width="4.6" height="48" fill="url(#gv)" opacity="0.61"/><ellipse cx="433.5" cy="120" rx="3.5" ry="4.5" fill="url(#gr)" opacity="0.9"/><rect x="445.45" y="74" width="5.1" height="78" fill="url(#gv)" opacity="0.74"/><ellipse cx="448" cy="86" rx="4" ry="3.5" fill="url(#gr)" opacity="0.52"/><ellipse cx="447.5" cy="121.5" rx="5" ry="4.5" fill="url(#gr)" opacity="0.98"/><rect x="444" y="74.9" width="8" height="1.2" fill="#ff0" opacity="0.4"/><ellipse cx="458.6" cy="120.5" rx="4" ry="4" fill="url(#gr)" opacity="0.98"/><rect x="456.45" y="84" width="4.1" height="66" fill="url(#gv)" opacity="0.41"/><ellipse cx="459" cy="87" rx="3" ry="2.5" fill="url(#gr)" opacity="0.38"/><rect x="466.95" y="80" width="5.1" height="70" fill="url(#gv)" opacity="0.61"/><ellipse cx="469.5" cy="120" rx="4" ry="4" fill="url(#gr)" opacity="0.98"/><ellipse cx="469" cy="87" rx="3" ry="2.5" fill="url(#gr)" opacity="0.38"/><rect x="476.2" y="58" width="2.6" height="82" fill="url(#gv)" opacity="0.56"/><path d="M476.9 68 L479.3 68 L489.2 140 L473.2 140 Z" fill="url(#gt)" opacity="0.8"/><rect x="477.4" y="82" width="4.2" height="34" fill="url(#gv)" opacity="0.98"/><ellipse cx="479.5" cy="98" rx="3.1" ry="14.5" fill="url(#gr)" opacity="0.6"/><rect x="475.7" y="128" width="4.6" height="24" fill="url(#gv)" opacity="0.46"/><path d="M492.4 71 L494.8 71 L501.2 130 L490.2 130 Z" fill="url(#gt)" opacity="0.77"/><rect x="492.7" y="92" width="3.6" height="26" fill="url(#gv)" opacity="0.83"/><rect x="502.7" y="80" width="2.6" height="24" fill="url(#gv)" opacity="0.37"/><rect x="485.2" y="120" width="3.6" height="32" fill="url(#gv)" opacity="0.26"/><rect x="495.2" y="126" width="3.6" height="26" fill="url(#gv)" opacity="0.26"/><rect x="513.1" y="71" width="4.8" height="75" fill="url(#gv)" opacity="0.49"/><ellipse cx="515.5" cy="85" rx="4.3" ry="3.5" fill="url(#gr)" opacity="0.62"/><ellipse cx="515.5" cy="115" rx="4.5" ry="6.5" fill="url(#gr)" opacity="0.74"/><rect x="513" y="75.4" width="5" height="1.2" fill="#ff0" opacity="0.4"/><rect x="523.1" y="71" width="4.8" height="75" fill="url(#gv)" opacity="0.53"/><ellipse cx="525.5" cy="85" rx="4.3" ry="3.5" fill="url(#gr)" opacity="0.67"/><ellipse cx="525.5" cy="115" rx="4.5" ry="6.5" fill="url(#gr)" opacity="0.81"/><rect x="523" y="75.4" width="5" height="1.2" fill="#ff0" opacity="0.43"/><rect x="533.6" y="71" width="4.8" height="75" fill="url(#gv)" opacity="0.58"/><ellipse cx="536" cy="85" rx="4.3" ry="3.5" fill="url(#gr)" opacity="0.73"/><ellipse cx="536" cy="115" rx="4.5" ry="6.5" fill="url(#gr)" opacity="0.88"/><rect x="533.5" y="75.4" width="5" height="1.2" fill="#ff0" opacity="0.47"/><rect x="543.1" y="71" width="4.8" height="75" fill="url(#gv)" opacity="0.58"/><ellipse cx="545.5" cy="85" rx="4.3" ry="3.5" fill="url(#gr)" opacity="0.73"/><ellipse cx="545.5" cy="115" rx="4.5" ry="6.5" fill="url(#gr)" opacity="0.88"/><rect x="543" y="75.4" width="5" height="1.2" fill="#ff0" opacity="0.47"/><rect x="553.1" y="71" width="4.8" height="75" fill="url(#gv)" opacity="0.53"/><ellipse cx="555.5" cy="85" rx="4.3" ry="3.5" fill="url(#gr)" opacity="0.67"/><ellipse cx="555.5" cy="115" rx="4.5" ry="6.5" fill="url(#gr)" opacity="0.81"/><rect x="553" y="75.4" width="5" height="1.2" fill="#ff0" opacity="0.43"/><rect x="563.1" y="71" width="4.8" height="75" fill="url(#gv)" opacity="0.49"/><ellipse cx="565.5" cy="85" rx="4.3" ry="3.5" fill="url(#gr)" opacity="0.62"/><ellipse cx="565.5" cy="115" rx="4.5" ry="6.5" fill="url(#gr)" opacity="0.74"/><rect x="563" y="75.4" width="5" height="1.2" fill="#ff0" opacity="0.4"/><rect x="572.6" y="71" width="4.8" height="75" fill="url(#gv)" opacity="0.49"/><ellipse cx="575" cy="85" rx="4.3" ry="3.5" fill="url(#gr)" opacity="0.62"/><ellipse cx="575" cy="115" rx="4.5" ry="6.5" fill="url(#gr)" opacity="0.74"/><rect x="572.5" y="75.4" width="5" height="1.2" fill="#ff0" opacity="0.4"/><rect x="582.6" y="71" width="4.8" height="75" fill="url(#gv)" opacity="0.44"/><ellipse cx="585" cy="85" rx="4.3" ry="3.5" fill="url(#gr)" opacity="0.56"/><ellipse cx="585" cy="115" rx="4.5" ry="6.5" fill="url(#gr)" opacity="0.68"/><rect x="582.5" y="75.4" width="5" height="1.2" fill="#ff0" opacity="0.36"/><rect x="593.6" y="71" width="4.8" height="75" fill="url(#gv)" opacity="0.4"/><ellipse cx="596" cy="85" rx="4.3" ry="3.5" fill="url(#gr)" opacity="0.51"/><ellipse cx="596" cy="115" rx="4.5" ry="6.5" fill="url(#gr)" opacity="0.61"/><rect x="593.5" y="75.4" width="5" height="1.2" fill="#ff0" opacity="0.32"/><rect x="604.2" y="71" width="4.8" height="75" fill="url(#gv)" opacity="0.4"/><ellipse cx="606.6" cy="85" rx="4.3" ry="3.5" fill="url(#gr)" opacity="0.51"/><ellipse cx="606.6" cy="115" rx="4.5" ry="6.5" fill="url(#gr)" opacity="0.61"/><rect x="604.1" y="75.4" width="5" height="1.2" fill="#ff0" opacity="0.32"/><rect x="613.6" y="71" width="4.8" height="75" fill="url(#gv)" opacity="0.31"/><ellipse cx="616" cy="85" rx="4.3" ry="3.5" fill="url(#gr)" opacity="0.39"/><ellipse cx="616" cy="115" rx="4.5" ry="6.5" fill="url(#gr)" opacity="0.47"/><rect x="613.5" y="75.4" width="5" height="1.2" fill="#ff0" opacity="0.25"/><rect x="512" y="83.25" width="100" height="3.5" fill="#ff0" opacity="0.32"/><rect x="512" y="111.5" width="88" height="5" fill="#ff0" opacity="0.22"/><ellipse cx="525.5" cy="112.5" rx="3.3" ry="3.1" fill="url(#gr)" opacity="0.98"/><ellipse cx="536" cy="112.5" rx="3.3" ry="3.1" fill="url(#gr)" opacity="0.98"/><ellipse cx="545.5" cy="112.5" rx="3.3" ry="3.1" fill="url(#gr)" opacity="0.98"/><ellipse cx="555.5" cy="112.5" rx="3.3" ry="3.1" fill="url(#gr)" opacity="0.98"/><ellipse cx="575" cy="112.5" rx="3.3" ry="3.1" fill="url(#gr)" opacity="0.98"/><ellipse cx="515.5" cy="123" rx="3.5" ry="3.5" fill="url(#gr)" opacity="0.52"/><ellipse cx="525.5" cy="122" rx="3.5" ry="3.5" fill="url(#gr)" opacity="0.6"/><rect x="628.45" y="71" width="3.1" height="26" fill="url(#gv)" opacity="0.46"/><rect x="648" y="47" width="9" height="25" fill="#ff0" opacity="0.24"/><rect x="647" y="70" width="37" height="51" fill="#ff0" opacity="0.68"/><rect x="649" y="72" width="29" height="46" fill="#ff0" opacity="0.18"/><rect x="679" y="70" width="7" height="8" fill="#000" opacity="0.5"/><ellipse cx="656" cy="85.5" rx="6.5" ry="4.5" fill="url(#gr)" opacity="0.98"/><rect x="650" y="75" width="30" height="2" fill="#ff0" opacity="0.4"/><rect x="650" y="80.25" width="32" height="1.5" fill="#ff0" opacity="0.32"/><ellipse cx="655" cy="105" rx="5.5" ry="4" fill="url(#gr)" opacity="0.98"/><ellipse cx="672" cy="105" rx="7.5" ry="2.9" fill="url(#gr)" opacity="0.83"/><ellipse cx="654" cy="116.5" rx="7.5" ry="3.1" fill="url(#gr)" opacity="0.98"/><rect x="648.2" y="118" width="9.6" height="36" fill="#ff0" opacity="0.56"/><rect x="693.7" y="71" width="4.6" height="69" fill="url(#gv)" opacity="0.48"/><ellipse cx="696" cy="105" rx="4.1" ry="3.9" fill="url(#gr)" opacity="0.6"/><rect x="704.7" y="70" width="4.6" height="70" fill="url(#gv)" opacity="0.56"/><ellipse cx="707" cy="104.5" rx="4.1" ry="3.9" fill="url(#gr)" opacity="0.98"/><rect x="716.7" y="90" width="4.6" height="50" fill="url(#gv)" opacity="0.19"/><ellipse cx="719" cy="105" rx="4.1" ry="3.9" fill="url(#gr)" opacity="0.33"/><rect x="727.7" y="72" width="4.6" height="68" fill="url(#gv)" opacity="0.33"/><ellipse cx="730" cy="105" rx="4.1" ry="3.9" fill="url(#gr)" opacity="0.63"/><rect x="737.7" y="72" width="4.6" height="68" fill="url(#gv)" opacity="0.33"/><ellipse cx="740" cy="105" rx="4.1" ry="3.9" fill="url(#gr)" opacity="0.63"/><rect x="751.2" y="80" width="4.6" height="60" fill="url(#gv)" opacity="0.22"/><ellipse cx="753.5" cy="105" rx="4.1" ry="3.9" fill="url(#gr)" opacity="0.45"/><rect x="761.7" y="68" width="4.6" height="72" fill="url(#gv)" opacity="0.44"/><ellipse cx="764" cy="104" rx="4.1" ry="3.9" fill="url(#gr)" opacity="0.68"/><rect x="772.7" y="72" width="4.6" height="68" fill="url(#gv)" opacity="0.33"/><ellipse cx="775" cy="104.5" rx="4.1" ry="3.9" fill="url(#gr)" opacity="0.54"/><ellipse cx="764" cy="83" rx="4" ry="2" fill="url(#gr)" opacity="0.6"/><ellipse cx="775" cy="83" rx="3.5" ry="2" fill="url(#gr)" opacity="0.38"/><ellipse cx="696" cy="84" rx="3" ry="3.5" fill="url(#gr)" opacity="0.38"/><ellipse cx="707" cy="84" rx="3" ry="3" fill="url(#gr)" opacity="0.38"/><rect x="690" y="103" width="100" height="4" fill="#ff0" opacity="0.16"/><ellipse class="x" cx="240" cy="94.8" rx="9" ry="4.5" fill="url(#hr)" opacity="0.93"/><ellipse class="x" cx="359.5" cy="117" rx="5" ry="5.5" fill="url(#hr)" opacity="0.9"/><ellipse class="x" cx="376" cy="109" rx="3.8" ry="6.5" fill="url(#hr)" opacity="0.8"/><ellipse class="x" cx="433.5" cy="120" rx="4.4" ry="4.9" fill="url(#hr)" opacity="0.88"/><ellipse class="x" cx="447.5" cy="121.5" rx="6" ry="4.5" fill="url(#hr)" opacity="0.92"/><ellipse class="x" cx="458.6" cy="120.5" rx="5" ry="4.5" fill="url(#hr)" opacity="0.9"/><ellipse class="x" cx="469.5" cy="120" rx="5" ry="4.5" fill="url(#hr)" opacity="0.9"/><rect class="x" x="477.2" y="83.4" width="5" height="33.2" fill="url(#hv)" opacity="0.85"/><ellipse class="x" cx="479.5" cy="128" rx="4" ry="6.5" fill="url(#hr)" opacity="0.8"/><rect class="x" x="493.2" y="93.4" width="4.4" height="25.2" fill="url(#hv)" opacity="1"/><ellipse class="x" cx="515.5" cy="115.5" rx="4.7" ry="4.2" fill="url(#hr)" opacity="0.88"/><ellipse class="x" cx="525.5" cy="112.5" rx="4.7" ry="4.2" fill="url(#hr)" opacity="0.88"/><ellipse class="x" cx="536" cy="113" rx="4.7" ry="4.2" fill="url(#hr)" opacity="0.88"/><ellipse class="x" cx="545.5" cy="113" rx="4.7" ry="4.2" fill="url(#hr)" opacity="0.88"/><ellipse class="x" cx="555.5" cy="113.5" rx="4.7" ry="4.2" fill="url(#hr)" opacity="0.88"/><ellipse class="x" cx="565.5" cy="115" rx="4.7" ry="4.2" fill="url(#hr)" opacity="0.88"/><ellipse class="x" cx="575" cy="116" rx="4.7" ry="4.2" fill="url(#hr)" opacity="0.88"/><ellipse class="x" cx="525.5" cy="122" rx="4.5" ry="4" fill="url(#hr)" opacity="0.8"/><ellipse class="x" cx="515.5" cy="123" rx="4.5" ry="4" fill="url(#hr)" opacity="0.75"/><ellipse class="x" cx="656" cy="85.5" rx="8.5" ry="5.3" fill="url(#hr)" opacity="0.97"/><ellipse class="x" cx="655" cy="105" rx="7.6" ry="5.1" fill="url(#hr)" opacity="0.97"/><ellipse class="x" cx="672" cy="105" rx="10" ry="4.1" fill="url(#hr)" opacity="0.9"/><ellipse class="x" cx="654.5" cy="116.5" rx="10" ry="4.4" fill="url(#hr)" opacity="0.96"/><rect class="x" x="649.4" y="74.8" width="27.2" height="3.2" fill="#00f" opacity="0.86"/><rect class="x" x="649.4" y="79.4" width="21.2" height="2.7" fill="#00f" opacity="0.78"/><ellipse class="x" cx="668" cy="92" rx="9" ry="3.5" fill="url(#hr)" opacity="0.8"/><ellipse class="x" cx="664" cy="98" rx="8" ry="3.3" fill="url(#hr)" opacity="0.78"/><ellipse class="x" cx="707" cy="104.5" rx="5.5" ry="4" fill="url(#hr)" opacity="0.88"/><ellipse class="x" cx="696" cy="105" rx="4.5" ry="3.5" fill="url(#hr)" opacity="0.75"/><ellipse class="x" cx="730" cy="105" rx="4.5" ry="3.5" fill="url(#hr)" opacity="0.7"/></g>
<g filter="url(#f2)"><rect x="159.5" y="190" width="654" height="113" fill="#000"/><g transform="translate(0 145.5)"><rect x="162" y="47" width="649" height="107" fill="#ff0" opacity="0.13"/><rect x="162" y="100" width="649" height="28" fill="url(#gd)" opacity="0.2"/><rect x="162" y="128" width="649" height="25" fill="#ff0" opacity="0.21"/><rect x="162" y="130.6" width="643" height="1.8" fill="#ff0" opacity="0.27"/><rect x="162" y="138.2" width="643" height="2.6" fill="#ff0" opacity="0.21"/><rect x="162" y="144.75" width="638" height="6.5" fill="#ff0" opacity="0.22"/><rect x="162" y="134" width="649" height="2.5" fill="#000" opacity="0.5"/><rect x="162" y="152.3" width="649" height="1.7" fill="#000" opacity="0.6"/><rect x="797" y="47" width="14" height="107" fill="url(#kri)" opacity="0.6"/><rect x="510" y="47" width="130" height="53" fill="#000" opacity="0.85"/><rect x="510" y="100" width="130" height="26" fill="url(#ku)" opacity="0.85"/><rect x="172.7" y="80" width="4.6" height="72" fill="url(#gv)" opacity="0.56"/><ellipse cx="175" cy="91" rx="4.5" ry="3.5" fill="url(#gr)" opacity="0.45"/><ellipse cx="189" cy="91" rx="3.5" ry="2.5" fill="url(#gr)" opacity="0.3"/><ellipse cx="202.5" cy="90" rx="3" ry="3.5" fill="url(#gr)" opacity="0.27"/><rect x="183.2" y="110" width="5.6" height="42" fill="url(#gv)" opacity="0.26"/><rect x="196.7" y="118" width="4.6" height="34" fill="url(#gv)" opacity="0.22"/><ellipse cx="244" cy="86" rx="24.5" ry="17.5" fill="url(#gr)" opacity="0.39"/><ellipse cx="240" cy="87" rx="12.5" ry="13.5" fill="url(#gr)" opacity="0.45"/><ellipse cx="240" cy="94.5" rx="8" ry="3.5" fill="url(#gr)" opacity="0.98"/><ellipse cx="238" cy="80" rx="3.5" ry="3.5" fill="url(#gr)" opacity="0.38"/><rect x="218" y="82.25" width="8" height="1.5" fill="#ff0" opacity="0.56"/><rect x="226.45" y="72" width="3.1" height="28" fill="url(#gv)" opacity="0.46"/><rect x="254.45" y="70" width="3.1" height="33" fill="url(#gv)" opacity="0.65"/><rect x="264.2" y="72" width="3.6" height="33" fill="url(#gv)" opacity="0.56"/><rect x="238.7" y="98" width="4.6" height="37" fill="url(#gv)" opacity="0.28"/><rect x="270" y="80.25" width="30" height="1.5" fill="#ff0" opacity="0.24"/><rect x="270" y="88.5" width="30" height="2" fill="#ff0" opacity="0.32"/><ellipse cx="277" cy="91" rx="3.5" ry="3" fill="url(#gr)" opacity="0.45"/><ellipse cx="290" cy="87" rx="3.5" ry="3.5" fill="url(#gr)" opacity="0.45"/><rect x="315.95" y="71" width="3.1" height="21" fill="url(#gv)" opacity="0.56"/><rect x="313" y="79.25" width="10" height="1.5" fill="#ff0" opacity="0.4"/><rect x="273.45" y="118" width="5.1" height="34" fill="url(#gv)" opacity="0.37"/><rect x="283.45" y="108" width="5.1" height="44" fill="url(#gv)" opacity="0.56"/><rect x="292.45" y="112" width="5.1" height="40" fill="url(#gv)" opacity="0.41"/><rect x="306.45" y="104" width="5.1" height="48" fill="url(#gv)" opacity="0.52"/><rect x="316.45" y="110" width="5.1" height="42" fill="url(#gv)" opacity="0.52"/><rect x="327.45" y="118" width="5.1" height="34" fill="url(#gv)" opacity="0.28"/><rect x="247.45" y="116" width="5.1" height="36" fill="url(#gv)" opacity="0.26"/><rect x="260.45" y="120" width="5.1" height="32" fill="url(#gv)" opacity="0.26"/><rect x="211.45" y="118" width="5.1" height="34" fill="url(#gv)" opacity="0.26"/><ellipse cx="353" cy="81" rx="9.5" ry="8.5" fill="url(#gr)" opacity="0.6"/><rect x="343" y="85" width="20" height="2" fill="#ff0" opacity="0.4"/><ellipse cx="344" cy="105" rx="3" ry="2.5" fill="url(#gr)" opacity="0.6"/><rect x="355.7" y="104" width="6.6" height="46" fill="url(#gv)" opacity="0.65"/><ellipse cx="359.5" cy="117" rx="4" ry="5" fill="url(#gr)" opacity="0.98"/><rect x="350.2" y="84" width="3.6" height="34" fill="url(#gv)" opacity="0.28"/><rect x="373.45" y="77" width="4.1" height="73" fill="url(#gv)" opacity="0.83"/><ellipse cx="376" cy="108" rx="3" ry="6.5" fill="url(#gr)" opacity="0.68"/><rect x="374" y="78.75" width="7" height="1.5" fill="#ff0" opacity="0.64"/><rect x="374" y="87.9" width="7" height="1.2" fill="#ff0" opacity="0.4"/><rect x="383" y="112" width="49" height="20" fill="#ff0" opacity="0.08"/><rect x="420" y="86.7" width="54" height="1.6" fill="#ff0" opacity="0.32"/><rect x="430.7" y="100" width="4.6" height="48" fill="url(#gv)" opacity="0.61"/><ellipse cx="433.5" cy="120" rx="3.5" ry="4.5" fill="url(#gr)" opacity="0.9"/><rect x="445.45" y="74" width="5.1" height="78" fill="url(#gv)" opacity="0.74"/><ellipse cx="448" cy="86" rx="4" ry="3.5" fill="url(#gr)" opacity="0.52"/><ellipse cx="447.5" cy="121.5" rx="5" ry="4.5" fill="url(#gr)" opacity="0.98"/><rect x="444" y="74.9" width="8" height="1.2" fill="#ff0" opacity="0.4"/><ellipse cx="458.6" cy="120.5" rx="4" ry="4" fill="url(#gr)" opacity="0.98"/><rect x="456.45" y="84" width="4.1" height="66" fill="url(#gv)" opacity="0.41"/><ellipse cx="459" cy="87" rx="3" ry="2.5" fill="url(#gr)" opacity="0.38"/><rect x="466.95" y="80" width="5.1" height="70" fill="url(#gv)" opacity="0.61"/><ellipse cx="469.5" cy="120" rx="4" ry="4" fill="url(#gr)" opacity="0.98"/><ellipse cx="469" cy="87" rx="3" ry="2.5" fill="url(#gr)" opacity="0.38"/><rect x="476.2" y="58" width="2.6" height="82" fill="url(#gv)" opacity="0.56"/><path d="M476.9 68 L479.3 68 L489.2 140 L473.2 140 Z" fill="url(#gt)" opacity="0.8"/><rect x="477.4" y="82" width="4.2" height="34" fill="url(#gv)" opacity="0.98"/><ellipse cx="479.5" cy="98" rx="3.1" ry="14.5" fill="url(#gr)" opacity="0.6"/><rect x="475.7" y="128" width="4.6" height="24" fill="url(#gv)" opacity="0.46"/><path d="M492.4 71 L494.8 71 L501.2 130 L490.2 130 Z" fill="url(#gt)" opacity="0.77"/><rect x="492.7" y="92" width="3.6" height="26" fill="url(#gv)" opacity="0.83"/><rect x="502.7" y="80" width="2.6" height="24" fill="url(#gv)" opacity="0.37"/><rect x="485.2" y="120" width="3.6" height="32" fill="url(#gv)" opacity="0.26"/><rect x="495.2" y="126" width="3.6" height="26" fill="url(#gv)" opacity="0.26"/><rect x="513.1" y="71" width="4.8" height="75" fill="url(#gv)" opacity="0.49"/><ellipse cx="515.5" cy="85" rx="4.3" ry="3.5" fill="url(#gr)" opacity="0.62"/><ellipse cx="515.5" cy="115" rx="4.5" ry="6.5" fill="url(#gr)" opacity="0.74"/><rect x="513" y="75.4" width="5" height="1.2" fill="#ff0" opacity="0.4"/><rect x="523.1" y="71" width="4.8" height="75" fill="url(#gv)" opacity="0.53"/><ellipse cx="525.5" cy="85" rx="4.3" ry="3.5" fill="url(#gr)" opacity="0.67"/><ellipse cx="525.5" cy="115" rx="4.5" ry="6.5" fill="url(#gr)" opacity="0.81"/><rect x="523" y="75.4" width="5" height="1.2" fill="#ff0" opacity="0.43"/><rect x="533.6" y="71" width="4.8" height="75" fill="url(#gv)" opacity="0.58"/><ellipse cx="536" cy="85" rx="4.3" ry="3.5" fill="url(#gr)" opacity="0.73"/><ellipse cx="536" cy="115" rx="4.5" ry="6.5" fill="url(#gr)" opacity="0.88"/><rect x="533.5" y="75.4" width="5" height="1.2" fill="#ff0" opacity="0.47"/><rect x="543.1" y="71" width="4.8" height="75" fill="url(#gv)" opacity="0.58"/><ellipse cx="545.5" cy="85" rx="4.3" ry="3.5" fill="url(#gr)" opacity="0.73"/><ellipse cx="545.5" cy="115" rx="4.5" ry="6.5" fill="url(#gr)" opacity="0.88"/><rect x="543" y="75.4" width="5" height="1.2" fill="#ff0" opacity="0.47"/><rect x="553.1" y="71" width="4.8" height="75" fill="url(#gv)" opacity="0.53"/><ellipse cx="555.5" cy="85" rx="4.3" ry="3.5" fill="url(#gr)" opacity="0.67"/><ellipse cx="555.5" cy="115" rx="4.5" ry="6.5" fill="url(#gr)" opacity="0.81"/><rect x="553" y="75.4" width="5" height="1.2" fill="#ff0" opacity="0.43"/><rect x="563.1" y="71" width="4.8" height="75" fill="url(#gv)" opacity="0.49"/><ellipse cx="565.5" cy="85" rx="4.3" ry="3.5" fill="url(#gr)" opacity="0.62"/><ellipse cx="565.5" cy="115" rx="4.5" ry="6.5" fill="url(#gr)" opacity="0.74"/><rect x="563" y="75.4" width="5" height="1.2" fill="#ff0" opacity="0.4"/><rect x="572.6" y="71" width="4.8" height="75" fill="url(#gv)" opacity="0.49"/><ellipse cx="575" cy="85" rx="4.3" ry="3.5" fill="url(#gr)" opacity="0.62"/><ellipse cx="575" cy="115" rx="4.5" ry="6.5" fill="url(#gr)" opacity="0.74"/><rect x="572.5" y="75.4" width="5" height="1.2" fill="#ff0" opacity="0.4"/><rect x="582.6" y="71" width="4.8" height="75" fill="url(#gv)" opacity="0.44"/><ellipse cx="585" cy="85" rx="4.3" ry="3.5" fill="url(#gr)" opacity="0.56"/><ellipse cx="585" cy="115" rx="4.5" ry="6.5" fill="url(#gr)" opacity="0.68"/><rect x="582.5" y="75.4" width="5" height="1.2" fill="#ff0" opacity="0.36"/><rect x="593.6" y="71" width="4.8" height="75" fill="url(#gv)" opacity="0.4"/><ellipse cx="596" cy="85" rx="4.3" ry="3.5" fill="url(#gr)" opacity="0.51"/><ellipse cx="596" cy="115" rx="4.5" ry="6.5" fill="url(#gr)" opacity="0.61"/><rect x="593.5" y="75.4" width="5" height="1.2" fill="#ff0" opacity="0.32"/><rect x="604.2" y="71" width="4.8" height="75" fill="url(#gv)" opacity="0.4"/><ellipse cx="606.6" cy="85" rx="4.3" ry="3.5" fill="url(#gr)" opacity="0.51"/><ellipse cx="606.6" cy="115" rx="4.5" ry="6.5" fill="url(#gr)" opacity="0.61"/><rect x="604.1" y="75.4" width="5" height="1.2" fill="#ff0" opacity="0.32"/><rect x="613.6" y="71" width="4.8" height="75" fill="url(#gv)" opacity="0.31"/><ellipse cx="616" cy="85" rx="4.3" ry="3.5" fill="url(#gr)" opacity="0.39"/><ellipse cx="616" cy="115" rx="4.5" ry="6.5" fill="url(#gr)" opacity="0.47"/><rect x="613.5" y="75.4" width="5" height="1.2" fill="#ff0" opacity="0.25"/><rect x="512" y="83.25" width="100" height="3.5" fill="#ff0" opacity="0.32"/><rect x="512" y="111.5" width="88" height="5" fill="#ff0" opacity="0.22"/><ellipse cx="525.5" cy="112.5" rx="3.3" ry="3.1" fill="url(#gr)" opacity="0.98"/><ellipse cx="536" cy="112.5" rx="3.3" ry="3.1" fill="url(#gr)" opacity="0.98"/><ellipse cx="545.5" cy="112.5" rx="3.3" ry="3.1" fill="url(#gr)" opacity="0.98"/><ellipse cx="555.5" cy="112.5" rx="3.3" ry="3.1" fill="url(#gr)" opacity="0.98"/><ellipse cx="575" cy="112.5" rx="3.3" ry="3.1" fill="url(#gr)" opacity="0.98"/><ellipse cx="515.5" cy="123" rx="3.5" ry="3.5" fill="url(#gr)" opacity="0.52"/><ellipse cx="525.5" cy="122" rx="3.5" ry="3.5" fill="url(#gr)" opacity="0.6"/><rect x="628.45" y="71" width="3.1" height="26" fill="url(#gv)" opacity="0.46"/><rect x="648" y="47" width="9" height="25" fill="#ff0" opacity="0.24"/><rect x="647" y="70" width="37" height="51" fill="#ff0" opacity="0.68"/><rect x="649" y="72" width="29" height="46" fill="#ff0" opacity="0.18"/><rect x="679" y="70" width="7" height="8" fill="#000" opacity="0.5"/><ellipse cx="656" cy="85.5" rx="6.5" ry="4.5" fill="url(#gr)" opacity="0.98"/><rect x="650" y="75" width="30" height="2" fill="#ff0" opacity="0.4"/><rect x="650" y="80.25" width="32" height="1.5" fill="#ff0" opacity="0.32"/><ellipse cx="655" cy="105" rx="5.5" ry="4" fill="url(#gr)" opacity="0.98"/><ellipse cx="672" cy="105" rx="7.5" ry="2.9" fill="url(#gr)" opacity="0.83"/><ellipse cx="654" cy="116.5" rx="7.5" ry="3.1" fill="url(#gr)" opacity="0.98"/><rect x="648.2" y="118" width="9.6" height="36" fill="#ff0" opacity="0.56"/><rect x="693.7" y="71" width="4.6" height="69" fill="url(#gv)" opacity="0.48"/><ellipse cx="696" cy="105" rx="4.1" ry="3.9" fill="url(#gr)" opacity="0.6"/><rect x="704.7" y="70" width="4.6" height="70" fill="url(#gv)" opacity="0.56"/><ellipse cx="707" cy="104.5" rx="4.1" ry="3.9" fill="url(#gr)" opacity="0.98"/><rect x="716.7" y="90" width="4.6" height="50" fill="url(#gv)" opacity="0.19"/><ellipse cx="719" cy="105" rx="4.1" ry="3.9" fill="url(#gr)" opacity="0.33"/><rect x="727.7" y="72" width="4.6" height="68" fill="url(#gv)" opacity="0.33"/><ellipse cx="730" cy="105" rx="4.1" ry="3.9" fill="url(#gr)" opacity="0.63"/><rect x="737.7" y="72" width="4.6" height="68" fill="url(#gv)" opacity="0.33"/><ellipse cx="740" cy="105" rx="4.1" ry="3.9" fill="url(#gr)" opacity="0.63"/><rect x="751.2" y="80" width="4.6" height="60" fill="url(#gv)" opacity="0.22"/><ellipse cx="753.5" cy="105" rx="4.1" ry="3.9" fill="url(#gr)" opacity="0.45"/><rect x="761.7" y="68" width="4.6" height="72" fill="url(#gv)" opacity="0.44"/><ellipse cx="764" cy="104" rx="4.1" ry="3.9" fill="url(#gr)" opacity="0.68"/><rect x="772.7" y="72" width="4.6" height="68" fill="url(#gv)" opacity="0.33"/><ellipse cx="775" cy="104.5" rx="4.1" ry="3.9" fill="url(#gr)" opacity="0.54"/><ellipse cx="764" cy="83" rx="4" ry="2" fill="url(#gr)" opacity="0.6"/><ellipse cx="775" cy="83" rx="3.5" ry="2" fill="url(#gr)" opacity="0.38"/><ellipse cx="696" cy="84" rx="3" ry="3.5" fill="url(#gr)" opacity="0.38"/><ellipse cx="707" cy="84" rx="3" ry="3" fill="url(#gr)" opacity="0.38"/><rect x="690" y="103" width="100" height="4" fill="#ff0" opacity="0.16"/><ellipse class="x" cx="240" cy="94.8" rx="9" ry="4.5" fill="url(#hr)" opacity="0.93"/><ellipse class="x" cx="359.5" cy="117" rx="5" ry="5.5" fill="url(#hr)" opacity="0.9"/><ellipse class="x" cx="376" cy="109" rx="3.8" ry="6.5" fill="url(#hr)" opacity="0.8"/><ellipse class="x" cx="433.5" cy="120" rx="4.4" ry="4.9" fill="url(#hr)" opacity="0.88"/><ellipse class="x" cx="447.5" cy="121.5" rx="6" ry="4.5" fill="url(#hr)" opacity="0.92"/><ellipse class="x" cx="458.6" cy="120.5" rx="5" ry="4.5" fill="url(#hr)" opacity="0.9"/><ellipse class="x" cx="469.5" cy="120" rx="5" ry="4.5" fill="url(#hr)" opacity="0.9"/><rect class="x" x="477.2" y="83.4" width="5" height="33.2" fill="url(#hv)" opacity="0.85"/><ellipse class="x" cx="479.5" cy="128" rx="4" ry="6.5" fill="url(#hr)" opacity="0.8"/><rect class="x" x="493.2" y="93.4" width="4.4" height="25.2" fill="url(#hv)" opacity="1"/><ellipse class="x" cx="515.5" cy="115.5" rx="4.7" ry="4.2" fill="url(#hr)" opacity="0.88"/><ellipse class="x" cx="525.5" cy="112.5" rx="4.7" ry="4.2" fill="url(#hr)" opacity="0.88"/><ellipse class="x" cx="536" cy="113" rx="4.7" ry="4.2" fill="url(#hr)" opacity="0.88"/><ellipse class="x" cx="545.5" cy="113" rx="4.7" ry="4.2" fill="url(#hr)" opacity="0.88"/><ellipse class="x" cx="555.5" cy="113.5" rx="4.7" ry="4.2" fill="url(#hr)" opacity="0.88"/><ellipse class="x" cx="565.5" cy="115" rx="4.7" ry="4.2" fill="url(#hr)" opacity="0.88"/><ellipse class="x" cx="575" cy="116" rx="4.7" ry="4.2" fill="url(#hr)" opacity="0.88"/><ellipse class="x" cx="525.5" cy="122" rx="4.5" ry="4" fill="url(#hr)" opacity="0.8"/><ellipse class="x" cx="515.5" cy="123" rx="4.5" ry="4" fill="url(#hr)" opacity="0.75"/><ellipse class="x" cx="656" cy="85.5" rx="8.5" ry="5.3" fill="url(#hr)" opacity="0.97"/><ellipse class="x" cx="655" cy="105" rx="7.6" ry="5.1" fill="url(#hr)" opacity="0.97"/><ellipse class="x" cx="672" cy="105" rx="10" ry="4.1" fill="url(#hr)" opacity="0.9"/><ellipse class="x" cx="654.5" cy="116.5" rx="10" ry="4.4" fill="url(#hr)" opacity="0.96"/><rect class="x" x="649.4" y="74.8" width="27.2" height="3.2" fill="#00f" opacity="0.86"/><rect class="x" x="649.4" y="79.4" width="21.2" height="2.7" fill="#00f" opacity="0.78"/><ellipse class="x" cx="668" cy="92" rx="9" ry="3.5" fill="url(#hr)" opacity="0.8"/><ellipse class="x" cx="664" cy="98" rx="8" ry="3.3" fill="url(#hr)" opacity="0.78"/><ellipse class="x" cx="707" cy="104.5" rx="5.5" ry="4" fill="url(#hr)" opacity="0.88"/><ellipse class="x" cx="696" cy="105" rx="4.5" ry="3.5" fill="url(#hr)" opacity="0.75"/><ellipse class="x" cx="730" cy="105" rx="4.5" ry="3.5" fill="url(#hr)" opacity="0.7"/></g></g>
<g filter="url(#f3a)"><rect x="293.5" y="335" width="104.5" height="113" fill="#000"/><g transform="translate(-115.3 290.5)"><rect x="162" y="47" width="649" height="107" fill="#ff0" opacity="0.13"/><rect x="162" y="100" width="649" height="28" fill="url(#gd)" opacity="0.2"/><rect x="162" y="128" width="649" height="25" fill="#ff0" opacity="0.21"/><rect x="162" y="130.6" width="643" height="1.8" fill="#ff0" opacity="0.27"/><rect x="162" y="138.2" width="643" height="2.6" fill="#ff0" opacity="0.21"/><rect x="162" y="144.75" width="638" height="6.5" fill="#ff0" opacity="0.22"/><rect x="162" y="134" width="649" height="2.5" fill="#000" opacity="0.5"/><rect x="162" y="152.3" width="649" height="1.7" fill="#000" opacity="0.6"/><rect x="797" y="47" width="14" height="107" fill="url(#kri)" opacity="0.6"/><rect x="172.7" y="80" width="4.6" height="72" fill="url(#gv)" opacity="0.56"/><ellipse cx="175" cy="91" rx="4.5" ry="3.5" fill="url(#gr)" opacity="0.45"/><ellipse cx="189" cy="91" rx="3.5" ry="2.5" fill="url(#gr)" opacity="0.3"/><ellipse cx="202.5" cy="90" rx="3" ry="3.5" fill="url(#gr)" opacity="0.27"/><rect x="183.2" y="110" width="5.6" height="42" fill="url(#gv)" opacity="0.26"/><rect x="196.7" y="118" width="4.6" height="34" fill="url(#gv)" opacity="0.22"/><ellipse cx="244" cy="86" rx="24.5" ry="17.5" fill="url(#gr)" opacity="0.39"/><ellipse cx="240" cy="87" rx="12.5" ry="13.5" fill="url(#gr)" opacity="0.45"/><ellipse cx="240" cy="94.5" rx="8" ry="3.5" fill="url(#gr)" opacity="0.98"/><ellipse cx="238" cy="80" rx="3.5" ry="3.5" fill="url(#gr)" opacity="0.38"/><rect x="218" y="82.25" width="8" height="1.5" fill="#ff0" opacity="0.56"/><rect x="226.45" y="72" width="3.1" height="28" fill="url(#gv)" opacity="0.46"/><rect x="254.45" y="70" width="3.1" height="33" fill="url(#gv)" opacity="0.65"/><rect x="264.2" y="72" width="3.6" height="33" fill="url(#gv)" opacity="0.56"/><rect x="238.7" y="98" width="4.6" height="37" fill="url(#gv)" opacity="0.28"/><rect x="270" y="80.25" width="30" height="1.5" fill="#ff0" opacity="0.24"/><rect x="270" y="88.5" width="30" height="2" fill="#ff0" opacity="0.32"/><ellipse cx="277" cy="91" rx="3.5" ry="3" fill="url(#gr)" opacity="0.45"/><ellipse cx="290" cy="87" rx="3.5" ry="3.5" fill="url(#gr)" opacity="0.45"/><rect x="315.95" y="71" width="3.1" height="21" fill="url(#gv)" opacity="0.56"/><rect x="313" y="79.25" width="10" height="1.5" fill="#ff0" opacity="0.4"/><rect x="273.45" y="118" width="5.1" height="34" fill="url(#gv)" opacity="0.37"/><rect x="283.45" y="108" width="5.1" height="44" fill="url(#gv)" opacity="0.56"/><rect x="292.45" y="112" width="5.1" height="40" fill="url(#gv)" opacity="0.41"/><rect x="306.45" y="104" width="5.1" height="48" fill="url(#gv)" opacity="0.52"/><rect x="316.45" y="110" width="5.1" height="42" fill="url(#gv)" opacity="0.52"/><rect x="327.45" y="118" width="5.1" height="34" fill="url(#gv)" opacity="0.28"/><rect x="247.45" y="116" width="5.1" height="36" fill="url(#gv)" opacity="0.26"/><rect x="260.45" y="120" width="5.1" height="32" fill="url(#gv)" opacity="0.26"/><rect x="211.45" y="118" width="5.1" height="34" fill="url(#gv)" opacity="0.26"/><ellipse cx="353" cy="81" rx="9.5" ry="8.5" fill="url(#gr)" opacity="0.6"/><rect x="343" y="85" width="20" height="2" fill="#ff0" opacity="0.4"/><ellipse cx="344" cy="105" rx="3" ry="2.5" fill="url(#gr)" opacity="0.6"/><rect x="355.7" y="104" width="6.6" height="46" fill="url(#gv)" opacity="0.65"/><ellipse cx="359.5" cy="117" rx="4" ry="5" fill="url(#gr)" opacity="0.98"/><rect x="350.2" y="84" width="3.6" height="34" fill="url(#gv)" opacity="0.28"/><rect x="373.45" y="77" width="4.1" height="73" fill="url(#gv)" opacity="0.83"/><ellipse cx="376" cy="108" rx="3" ry="6.5" fill="url(#gr)" opacity="0.68"/><rect x="374" y="78.75" width="7" height="1.5" fill="#ff0" opacity="0.64"/><rect x="374" y="87.9" width="7" height="1.2" fill="#ff0" opacity="0.4"/><rect x="383" y="112" width="49" height="20" fill="#ff0" opacity="0.08"/><rect x="420" y="86.7" width="54" height="1.6" fill="#ff0" opacity="0.32"/><rect x="430.7" y="100" width="4.6" height="48" fill="url(#gv)" opacity="0.61"/><ellipse cx="433.5" cy="120" rx="3.5" ry="4.5" fill="url(#gr)" opacity="0.9"/><rect x="445.45" y="74" width="5.1" height="78" fill="url(#gv)" opacity="0.74"/><ellipse cx="448" cy="86" rx="4" ry="3.5" fill="url(#gr)" opacity="0.52"/><ellipse cx="447.5" cy="121.5" rx="5" ry="4.5" fill="url(#gr)" opacity="0.98"/><rect x="444" y="74.9" width="8" height="1.2" fill="#ff0" opacity="0.4"/><ellipse cx="458.6" cy="120.5" rx="4" ry="4" fill="url(#gr)" opacity="0.98"/><rect x="456.45" y="84" width="4.1" height="66" fill="url(#gv)" opacity="0.41"/><ellipse cx="459" cy="87" rx="3" ry="2.5" fill="url(#gr)" opacity="0.38"/><rect x="466.95" y="80" width="5.1" height="70" fill="url(#gv)" opacity="0.61"/><ellipse cx="469.5" cy="120" rx="4" ry="4" fill="url(#gr)" opacity="0.98"/><ellipse cx="469" cy="87" rx="3" ry="2.5" fill="url(#gr)" opacity="0.38"/><rect x="476.2" y="58" width="2.6" height="82" fill="url(#gv)" opacity="0.56"/><path d="M476.9 68 L479.3 68 L489.2 140 L473.2 140 Z" fill="url(#gt)" opacity="0.8"/><rect x="477.4" y="82" width="4.2" height="34" fill="url(#gv)" opacity="0.98"/><ellipse cx="479.5" cy="98" rx="3.1" ry="14.5" fill="url(#gr)" opacity="0.6"/><rect x="475.7" y="128" width="4.6" height="24" fill="url(#gv)" opacity="0.46"/><path d="M492.4 71 L494.8 71 L501.2 130 L490.2 130 Z" fill="url(#gt)" opacity="0.77"/><rect x="492.7" y="92" width="3.6" height="26" fill="url(#gv)" opacity="0.83"/><rect x="502.7" y="80" width="2.6" height="24" fill="url(#gv)" opacity="0.37"/><rect x="485.2" y="120" width="3.6" height="32" fill="url(#gv)" opacity="0.26"/><rect x="495.2" y="126" width="3.6" height="26" fill="url(#gv)" opacity="0.26"/><rect x="513.1" y="71" width="4.8" height="75" fill="url(#gv)" opacity="0.49"/><ellipse cx="515.5" cy="85" rx="4.3" ry="3.5" fill="url(#gr)" opacity="0.62"/><ellipse cx="515.5" cy="115" rx="4.5" ry="6.5" fill="url(#gr)" opacity="0.74"/><rect x="513" y="75.4" width="5" height="1.2" fill="#ff0" opacity="0.4"/><rect x="523.1" y="71" width="4.8" height="75" fill="url(#gv)" opacity="0.53"/><ellipse cx="525.5" cy="85" rx="4.3" ry="3.5" fill="url(#gr)" opacity="0.67"/><ellipse cx="525.5" cy="115" rx="4.5" ry="6.5" fill="url(#gr)" opacity="0.81"/><rect x="523" y="75.4" width="5" height="1.2" fill="#ff0" opacity="0.43"/><rect x="533.6" y="71" width="4.8" height="75" fill="url(#gv)" opacity="0.58"/><ellipse cx="536" cy="85" rx="4.3" ry="3.5" fill="url(#gr)" opacity="0.73"/><ellipse cx="536" cy="115" rx="4.5" ry="6.5" fill="url(#gr)" opacity="0.88"/><rect x="533.5" y="75.4" width="5" height="1.2" fill="#ff0" opacity="0.47"/><rect x="543.1" y="71" width="4.8" height="75" fill="url(#gv)" opacity="0.58"/><ellipse cx="545.5" cy="85" rx="4.3" ry="3.5" fill="url(#gr)" opacity="0.73"/><ellipse cx="545.5" cy="115" rx="4.5" ry="6.5" fill="url(#gr)" opacity="0.88"/><rect x="543" y="75.4" width="5" height="1.2" fill="#ff0" opacity="0.47"/><rect x="553.1" y="71" width="4.8" height="75" fill="url(#gv)" opacity="0.53"/><ellipse cx="555.5" cy="85" rx="4.3" ry="3.5" fill="url(#gr)" opacity="0.67"/><ellipse cx="555.5" cy="115" rx="4.5" ry="6.5" fill="url(#gr)" opacity="0.81"/><rect x="553" y="75.4" width="5" height="1.2" fill="#ff0" opacity="0.43"/><rect x="563.1" y="71" width="4.8" height="75" fill="url(#gv)" opacity="0.49"/><ellipse cx="565.5" cy="85" rx="4.3" ry="3.5" fill="url(#gr)" opacity="0.62"/><ellipse cx="565.5" cy="115" rx="4.5" ry="6.5" fill="url(#gr)" opacity="0.74"/><rect x="563" y="75.4" width="5" height="1.2" fill="#ff0" opacity="0.4"/><rect x="572.6" y="71" width="4.8" height="75" fill="url(#gv)" opacity="0.49"/><ellipse cx="575" cy="85" rx="4.3" ry="3.5" fill="url(#gr)" opacity="0.62"/><ellipse cx="575" cy="115" rx="4.5" ry="6.5" fill="url(#gr)" opacity="0.74"/><rect x="572.5" y="75.4" width="5" height="1.2" fill="#ff0" opacity="0.4"/><rect x="582.6" y="71" width="4.8" height="75" fill="url(#gv)" opacity="0.44"/><ellipse cx="585" cy="85" rx="4.3" ry="3.5" fill="url(#gr)" opacity="0.56"/><ellipse cx="585" cy="115" rx="4.5" ry="6.5" fill="url(#gr)" opacity="0.68"/><rect x="582.5" y="75.4" width="5" height="1.2" fill="#ff0" opacity="0.36"/><rect x="593.6" y="71" width="4.8" height="75" fill="url(#gv)" opacity="0.4"/><ellipse cx="596" cy="85" rx="4.3" ry="3.5" fill="url(#gr)" opacity="0.51"/><ellipse cx="596" cy="115" rx="4.5" ry="6.5" fill="url(#gr)" opacity="0.61"/><rect x="593.5" y="75.4" width="5" height="1.2" fill="#ff0" opacity="0.32"/><rect x="604.2" y="71" width="4.8" height="75" fill="url(#gv)" opacity="0.4"/><ellipse cx="606.6" cy="85" rx="4.3" ry="3.5" fill="url(#gr)" opacity="0.51"/><ellipse cx="606.6" cy="115" rx="4.5" ry="6.5" fill="url(#gr)" opacity="0.61"/><rect x="604.1" y="75.4" width="5" height="1.2" fill="#ff0" opacity="0.32"/><rect x="613.6" y="71" width="4.8" height="75" fill="url(#gv)" opacity="0.31"/><ellipse cx="616" cy="85" rx="4.3" ry="3.5" fill="url(#gr)" opacity="0.39"/><ellipse cx="616" cy="115" rx="4.5" ry="6.5" fill="url(#gr)" opacity="0.47"/><rect x="613.5" y="75.4" width="5" height="1.2" fill="#ff0" opacity="0.25"/><rect x="512" y="83.25" width="100" height="3.5" fill="#ff0" opacity="0.32"/><rect x="512" y="111.5" width="88" height="5" fill="#ff0" opacity="0.22"/><ellipse cx="525.5" cy="112.5" rx="3.3" ry="3.1" fill="url(#gr)" opacity="0.98"/><ellipse cx="536" cy="112.5" rx="3.3" ry="3.1" fill="url(#gr)" opacity="0.98"/><ellipse cx="545.5" cy="112.5" rx="3.3" ry="3.1" fill="url(#gr)" opacity="0.98"/><ellipse cx="555.5" cy="112.5" rx="3.3" ry="3.1" fill="url(#gr)" opacity="0.98"/><ellipse cx="575" cy="112.5" rx="3.3" ry="3.1" fill="url(#gr)" opacity="0.98"/><ellipse cx="515.5" cy="123" rx="3.5" ry="3.5" fill="url(#gr)" opacity="0.52"/><ellipse cx="525.5" cy="122" rx="3.5" ry="3.5" fill="url(#gr)" opacity="0.6"/><rect x="628.45" y="71" width="3.1" height="26" fill="url(#gv)" opacity="0.46"/><rect x="648" y="47" width="9" height="25" fill="#ff0" opacity="0.24"/><rect x="647" y="70" width="37" height="51" fill="#ff0" opacity="0.68"/><rect x="649" y="72" width="29" height="46" fill="#ff0" opacity="0.18"/><rect x="679" y="70" width="7" height="8" fill="#000" opacity="0.5"/><ellipse cx="656" cy="85.5" rx="6.5" ry="4.5" fill="url(#gr)" opacity="0.98"/><rect x="650" y="75" width="30" height="2" fill="#ff0" opacity="0.4"/><rect x="650" y="80.25" width="32" height="1.5" fill="#ff0" opacity="0.32"/><ellipse cx="655" cy="105" rx="5.5" ry="4" fill="url(#gr)" opacity="0.98"/><ellipse cx="672" cy="105" rx="7.5" ry="2.9" fill="url(#gr)" opacity="0.83"/><ellipse cx="654" cy="116.5" rx="7.5" ry="3.1" fill="url(#gr)" opacity="0.98"/><rect x="648.2" y="118" width="9.6" height="36" fill="#ff0" opacity="0.56"/><rect x="693.7" y="71" width="4.6" height="69" fill="url(#gv)" opacity="0.48"/><ellipse cx="696" cy="105" rx="4.1" ry="3.9" fill="url(#gr)" opacity="0.6"/><rect x="704.7" y="70" width="4.6" height="70" fill="url(#gv)" opacity="0.56"/><ellipse cx="707" cy="104.5" rx="4.1" ry="3.9" fill="url(#gr)" opacity="0.98"/><rect x="716.7" y="90" width="4.6" height="50" fill="url(#gv)" opacity="0.19"/><ellipse cx="719" cy="105" rx="4.1" ry="3.9" fill="url(#gr)" opacity="0.33"/><rect x="727.7" y="72" width="4.6" height="68" fill="url(#gv)" opacity="0.33"/><ellipse cx="730" cy="105" rx="4.1" ry="3.9" fill="url(#gr)" opacity="0.63"/><rect x="737.7" y="72" width="4.6" height="68" fill="url(#gv)" opacity="0.33"/><ellipse cx="740" cy="105" rx="4.1" ry="3.9" fill="url(#gr)" opacity="0.63"/><rect x="751.2" y="80" width="4.6" height="60" fill="url(#gv)" opacity="0.22"/><ellipse cx="753.5" cy="105" rx="4.1" ry="3.9" fill="url(#gr)" opacity="0.45"/><rect x="761.7" y="68" width="4.6" height="72" fill="url(#gv)" opacity="0.44"/><ellipse cx="764" cy="104" rx="4.1" ry="3.9" fill="url(#gr)" opacity="0.68"/><rect x="772.7" y="72" width="4.6" height="68" fill="url(#gv)" opacity="0.33"/><ellipse cx="775" cy="104.5" rx="4.1" ry="3.9" fill="url(#gr)" opacity="0.54"/><ellipse cx="764" cy="83" rx="4" ry="2" fill="url(#gr)" opacity="0.6"/><ellipse cx="775" cy="83" rx="3.5" ry="2" fill="url(#gr)" opacity="0.38"/><ellipse cx="696" cy="84" rx="3" ry="3.5" fill="url(#gr)" opacity="0.38"/><ellipse cx="707" cy="84" rx="3" ry="3" fill="url(#gr)" opacity="0.38"/><rect x="690" y="103" width="100" height="4" fill="#ff0" opacity="0.16"/><ellipse class="x" cx="240" cy="94.8" rx="9" ry="4.5" fill="url(#hr)" opacity="0.93"/><ellipse class="x" cx="359.5" cy="117" rx="5" ry="5.5" fill="url(#hr)" opacity="0.9"/><ellipse class="x" cx="376" cy="109" rx="3.8" ry="6.5" fill="url(#hr)" opacity="0.8"/><ellipse class="x" cx="433.5" cy="120" rx="4.4" ry="4.9" fill="url(#hr)" opacity="0.88"/><ellipse class="x" cx="447.5" cy="121.5" rx="6" ry="4.5" fill="url(#hr)" opacity="0.92"/><ellipse class="x" cx="458.6" cy="120.5" rx="5" ry="4.5" fill="url(#hr)" opacity="0.9"/><ellipse class="x" cx="469.5" cy="120" rx="5" ry="4.5" fill="url(#hr)" opacity="0.9"/><rect class="x" x="477.2" y="83.4" width="5" height="33.2" fill="url(#hv)" opacity="0.85"/><ellipse class="x" cx="479.5" cy="128" rx="4" ry="6.5" fill="url(#hr)" opacity="0.8"/><rect class="x" x="493.2" y="93.4" width="4.4" height="25.2" fill="url(#hv)" opacity="1"/><ellipse class="x" cx="515.5" cy="115.5" rx="4.7" ry="4.2" fill="url(#hr)" opacity="0.88"/><ellipse class="x" cx="525.5" cy="112.5" rx="4.7" ry="4.2" fill="url(#hr)" opacity="0.88"/><ellipse class="x" cx="536" cy="113" rx="4.7" ry="4.2" fill="url(#hr)" opacity="0.88"/><ellipse class="x" cx="545.5" cy="113" rx="4.7" ry="4.2" fill="url(#hr)" opacity="0.88"/><ellipse class="x" cx="555.5" cy="113.5" rx="4.7" ry="4.2" fill="url(#hr)" opacity="0.88"/><ellipse class="x" cx="565.5" cy="115" rx="4.7" ry="4.2" fill="url(#hr)" opacity="0.88"/><ellipse class="x" cx="575" cy="116" rx="4.7" ry="4.2" fill="url(#hr)" opacity="0.88"/><ellipse class="x" cx="525.5" cy="122" rx="4.5" ry="4" fill="url(#hr)" opacity="0.8"/><ellipse class="x" cx="515.5" cy="123" rx="4.5" ry="4" fill="url(#hr)" opacity="0.75"/><ellipse class="x" cx="656" cy="85.5" rx="8.5" ry="5.3" fill="url(#hr)" opacity="0.97"/><ellipse class="x" cx="655" cy="105" rx="7.6" ry="5.1" fill="url(#hr)" opacity="0.97"/><ellipse class="x" cx="672" cy="105" rx="10" ry="4.1" fill="url(#hr)" opacity="0.9"/><ellipse class="x" cx="654.5" cy="116.5" rx="10" ry="4.4" fill="url(#hr)" opacity="0.96"/><rect class="x" x="649.4" y="74.8" width="27.2" height="3.2" fill="#00f" opacity="0.86"/><rect class="x" x="649.4" y="79.4" width="21.2" height="2.7" fill="#00f" opacity="0.78"/><ellipse class="x" cx="668" cy="92" rx="9" ry="3.5" fill="url(#hr)" opacity="0.8"/><ellipse class="x" cx="664" cy="98" rx="8" ry="3.3" fill="url(#hr)" opacity="0.78"/><ellipse class="x" cx="707" cy="104.5" rx="5.5" ry="4" fill="url(#hr)" opacity="0.88"/><ellipse class="x" cx="696" cy="105" rx="4.5" ry="3.5" fill="url(#hr)" opacity="0.75"/><ellipse class="x" cx="730" cy="105" rx="4.5" ry="3.5" fill="url(#hr)" opacity="0.7"/></g></g>
<g filter="url(#f3b)"><rect x="502.5" y="335" width="140" height="113" fill="#000"/><g transform="translate(-3.7 290.5)"><rect x="162" y="47" width="649" height="107" fill="#ff0" opacity="0.13"/><rect x="162" y="100" width="649" height="28" fill="url(#gd)" opacity="0.2"/><rect x="162" y="128" width="649" height="25" fill="#ff0" opacity="0.21"/><rect x="162" y="130.6" width="643" height="1.8" fill="#ff0" opacity="0.27"/><rect x="162" y="138.2" width="643" height="2.6" fill="#ff0" opacity="0.21"/><rect x="162" y="144.75" width="638" height="6.5" fill="#ff0" opacity="0.22"/><rect x="162" y="134" width="649" height="2.5" fill="#000" opacity="0.5"/><rect x="162" y="152.3" width="649" height="1.7" fill="#000" opacity="0.6"/><rect x="797" y="47" width="14" height="107" fill="url(#kri)" opacity="0.6"/><rect x="505" y="47" width="140" height="53" fill="#000" opacity="0.85"/><rect x="505" y="100" width="140" height="26" fill="url(#ku)" opacity="0.85"/><rect x="172.7" y="80" width="4.6" height="72" fill="url(#gv)" opacity="0.56"/><ellipse cx="175" cy="91" rx="4.5" ry="3.5" fill="url(#gr)" opacity="0.45"/><ellipse cx="189" cy="91" rx="3.5" ry="2.5" fill="url(#gr)" opacity="0.3"/><ellipse cx="202.5" cy="90" rx="3" ry="3.5" fill="url(#gr)" opacity="0.27"/><rect x="183.2" y="110" width="5.6" height="42" fill="url(#gv)" opacity="0.26"/><rect x="196.7" y="118" width="4.6" height="34" fill="url(#gv)" opacity="0.22"/><ellipse cx="244" cy="86" rx="24.5" ry="17.5" fill="url(#gr)" opacity="0.39"/><ellipse cx="240" cy="87" rx="12.5" ry="13.5" fill="url(#gr)" opacity="0.45"/><ellipse cx="240" cy="94.5" rx="8" ry="3.5" fill="url(#gr)" opacity="0.98"/><ellipse cx="238" cy="80" rx="3.5" ry="3.5" fill="url(#gr)" opacity="0.38"/><rect x="218" y="82.25" width="8" height="1.5" fill="#ff0" opacity="0.56"/><rect x="226.45" y="72" width="3.1" height="28" fill="url(#gv)" opacity="0.46"/><rect x="254.45" y="70" width="3.1" height="33" fill="url(#gv)" opacity="0.65"/><rect x="264.2" y="72" width="3.6" height="33" fill="url(#gv)" opacity="0.56"/><rect x="238.7" y="98" width="4.6" height="37" fill="url(#gv)" opacity="0.28"/><rect x="270" y="80.25" width="30" height="1.5" fill="#ff0" opacity="0.24"/><rect x="270" y="88.5" width="30" height="2" fill="#ff0" opacity="0.32"/><ellipse cx="277" cy="91" rx="3.5" ry="3" fill="url(#gr)" opacity="0.45"/><ellipse cx="290" cy="87" rx="3.5" ry="3.5" fill="url(#gr)" opacity="0.45"/><rect x="315.95" y="71" width="3.1" height="21" fill="url(#gv)" opacity="0.56"/><rect x="313" y="79.25" width="10" height="1.5" fill="#ff0" opacity="0.4"/><rect x="273.45" y="118" width="5.1" height="34" fill="url(#gv)" opacity="0.37"/><rect x="283.45" y="108" width="5.1" height="44" fill="url(#gv)" opacity="0.56"/><rect x="292.45" y="112" width="5.1" height="40" fill="url(#gv)" opacity="0.41"/><rect x="306.45" y="104" width="5.1" height="48" fill="url(#gv)" opacity="0.52"/><rect x="316.45" y="110" width="5.1" height="42" fill="url(#gv)" opacity="0.52"/><rect x="327.45" y="118" width="5.1" height="34" fill="url(#gv)" opacity="0.28"/><rect x="247.45" y="116" width="5.1" height="36" fill="url(#gv)" opacity="0.26"/><rect x="260.45" y="120" width="5.1" height="32" fill="url(#gv)" opacity="0.26"/><rect x="211.45" y="118" width="5.1" height="34" fill="url(#gv)" opacity="0.26"/><ellipse cx="353" cy="81" rx="9.5" ry="8.5" fill="url(#gr)" opacity="0.6"/><rect x="343" y="85" width="20" height="2" fill="#ff0" opacity="0.4"/><ellipse cx="344" cy="105" rx="3" ry="2.5" fill="url(#gr)" opacity="0.6"/><rect x="355.7" y="104" width="6.6" height="46" fill="url(#gv)" opacity="0.65"/><ellipse cx="359.5" cy="117" rx="4" ry="5" fill="url(#gr)" opacity="0.98"/><rect x="350.2" y="84" width="3.6" height="34" fill="url(#gv)" opacity="0.28"/><rect x="373.45" y="77" width="4.1" height="73" fill="url(#gv)" opacity="0.83"/><ellipse cx="376" cy="108" rx="3" ry="6.5" fill="url(#gr)" opacity="0.68"/><rect x="374" y="78.75" width="7" height="1.5" fill="#ff0" opacity="0.64"/><rect x="374" y="87.9" width="7" height="1.2" fill="#ff0" opacity="0.4"/><rect x="383" y="112" width="49" height="20" fill="#ff0" opacity="0.08"/><rect x="420" y="86.7" width="54" height="1.6" fill="#ff0" opacity="0.32"/><rect x="430.7" y="100" width="4.6" height="48" fill="url(#gv)" opacity="0.61"/><ellipse cx="433.5" cy="120" rx="3.5" ry="4.5" fill="url(#gr)" opacity="0.9"/><rect x="445.45" y="74" width="5.1" height="78" fill="url(#gv)" opacity="0.74"/><ellipse cx="448" cy="86" rx="4" ry="3.5" fill="url(#gr)" opacity="0.52"/><ellipse cx="447.5" cy="121.5" rx="5" ry="4.5" fill="url(#gr)" opacity="0.98"/><rect x="444" y="74.9" width="8" height="1.2" fill="#ff0" opacity="0.4"/><ellipse cx="458.6" cy="120.5" rx="4" ry="4" fill="url(#gr)" opacity="0.98"/><rect x="456.45" y="84" width="4.1" height="66" fill="url(#gv)" opacity="0.41"/><ellipse cx="459" cy="87" rx="3" ry="2.5" fill="url(#gr)" opacity="0.38"/><rect x="466.95" y="80" width="5.1" height="70" fill="url(#gv)" opacity="0.61"/><ellipse cx="469.5" cy="120" rx="4" ry="4" fill="url(#gr)" opacity="0.98"/><ellipse cx="469" cy="87" rx="3" ry="2.5" fill="url(#gr)" opacity="0.38"/><rect x="476.2" y="58" width="2.6" height="82" fill="url(#gv)" opacity="0.56"/><path d="M476.9 68 L479.3 68 L489.2 140 L473.2 140 Z" fill="url(#gt)" opacity="0.8"/><rect x="477.4" y="82" width="4.2" height="34" fill="url(#gv)" opacity="0.98"/><ellipse cx="479.5" cy="98" rx="3.1" ry="14.5" fill="url(#gr)" opacity="0.6"/><rect x="475.7" y="128" width="4.6" height="24" fill="url(#gv)" opacity="0.46"/><path d="M492.4 71 L494.8 71 L501.2 130 L490.2 130 Z" fill="url(#gt)" opacity="0.77"/><rect x="492.7" y="92" width="3.6" height="26" fill="url(#gv)" opacity="0.83"/><rect x="502.7" y="80" width="2.6" height="24" fill="url(#gv)" opacity="0.37"/><rect x="485.2" y="120" width="3.6" height="32" fill="url(#gv)" opacity="0.26"/><rect x="495.2" y="126" width="3.6" height="26" fill="url(#gv)" opacity="0.26"/><rect x="513.1" y="71" width="4.8" height="75" fill="url(#gv)" opacity="0.49"/><ellipse cx="515.5" cy="85" rx="4.3" ry="3.5" fill="url(#gr)" opacity="0.62"/><ellipse cx="515.5" cy="115" rx="4.5" ry="6.5" fill="url(#gr)" opacity="0.74"/><rect x="513" y="75.4" width="5" height="1.2" fill="#ff0" opacity="0.4"/><rect x="523.1" y="71" width="4.8" height="75" fill="url(#gv)" opacity="0.53"/><ellipse cx="525.5" cy="85" rx="4.3" ry="3.5" fill="url(#gr)" opacity="0.67"/><ellipse cx="525.5" cy="115" rx="4.5" ry="6.5" fill="url(#gr)" opacity="0.81"/><rect x="523" y="75.4" width="5" height="1.2" fill="#ff0" opacity="0.43"/><rect x="533.6" y="71" width="4.8" height="75" fill="url(#gv)" opacity="0.58"/><ellipse cx="536" cy="85" rx="4.3" ry="3.5" fill="url(#gr)" opacity="0.73"/><ellipse cx="536" cy="115" rx="4.5" ry="6.5" fill="url(#gr)" opacity="0.88"/><rect x="533.5" y="75.4" width="5" height="1.2" fill="#ff0" opacity="0.47"/><rect x="543.1" y="71" width="4.8" height="75" fill="url(#gv)" opacity="0.58"/><ellipse cx="545.5" cy="85" rx="4.3" ry="3.5" fill="url(#gr)" opacity="0.73"/><ellipse cx="545.5" cy="115" rx="4.5" ry="6.5" fill="url(#gr)" opacity="0.88"/><rect x="543" y="75.4" width="5" height="1.2" fill="#ff0" opacity="0.47"/><rect x="553.1" y="71" width="4.8" height="75" fill="url(#gv)" opacity="0.53"/><ellipse cx="555.5" cy="85" rx="4.3" ry="3.5" fill="url(#gr)" opacity="0.67"/><ellipse cx="555.5" cy="115" rx="4.5" ry="6.5" fill="url(#gr)" opacity="0.81"/><rect x="553" y="75.4" width="5" height="1.2" fill="#ff0" opacity="0.43"/><rect x="563.1" y="71" width="4.8" height="75" fill="url(#gv)" opacity="0.49"/><ellipse cx="565.5" cy="85" rx="4.3" ry="3.5" fill="url(#gr)" opacity="0.62"/><ellipse cx="565.5" cy="115" rx="4.5" ry="6.5" fill="url(#gr)" opacity="0.74"/><rect x="563" y="75.4" width="5" height="1.2" fill="#ff0" opacity="0.4"/><rect x="572.6" y="71" width="4.8" height="75" fill="url(#gv)" opacity="0.49"/><ellipse cx="575" cy="85" rx="4.3" ry="3.5" fill="url(#gr)" opacity="0.62"/><ellipse cx="575" cy="115" rx="4.5" ry="6.5" fill="url(#gr)" opacity="0.74"/><rect x="572.5" y="75.4" width="5" height="1.2" fill="#ff0" opacity="0.4"/><rect x="582.6" y="71" width="4.8" height="75" fill="url(#gv)" opacity="0.44"/><ellipse cx="585" cy="85" rx="4.3" ry="3.5" fill="url(#gr)" opacity="0.56"/><ellipse cx="585" cy="115" rx="4.5" ry="6.5" fill="url(#gr)" opacity="0.68"/><rect x="582.5" y="75.4" width="5" height="1.2" fill="#ff0" opacity="0.36"/><rect x="593.6" y="71" width="4.8" height="75" fill="url(#gv)" opacity="0.4"/><ellipse cx="596" cy="85" rx="4.3" ry="3.5" fill="url(#gr)" opacity="0.51"/><ellipse cx="596" cy="115" rx="4.5" ry="6.5" fill="url(#gr)" opacity="0.61"/><rect x="593.5" y="75.4" width="5" height="1.2" fill="#ff0" opacity="0.32"/><rect x="604.2" y="71" width="4.8" height="75" fill="url(#gv)" opacity="0.4"/><ellipse cx="606.6" cy="85" rx="4.3" ry="3.5" fill="url(#gr)" opacity="0.51"/><ellipse cx="606.6" cy="115" rx="4.5" ry="6.5" fill="url(#gr)" opacity="0.61"/><rect x="604.1" y="75.4" width="5" height="1.2" fill="#ff0" opacity="0.32"/><rect x="613.6" y="71" width="4.8" height="75" fill="url(#gv)" opacity="0.31"/><ellipse cx="616" cy="85" rx="4.3" ry="3.5" fill="url(#gr)" opacity="0.39"/><ellipse cx="616" cy="115" rx="4.5" ry="6.5" fill="url(#gr)" opacity="0.47"/><rect x="613.5" y="75.4" width="5" height="1.2" fill="#ff0" opacity="0.25"/><rect x="512" y="83.25" width="100" height="3.5" fill="#ff0" opacity="0.32"/><rect x="512" y="111.5" width="88" height="5" fill="#ff0" opacity="0.22"/><ellipse cx="525.5" cy="112.5" rx="3.3" ry="3.1" fill="url(#gr)" opacity="0.98"/><ellipse cx="536" cy="112.5" rx="3.3" ry="3.1" fill="url(#gr)" opacity="0.98"/><ellipse cx="545.5" cy="112.5" rx="3.3" ry="3.1" fill="url(#gr)" opacity="0.98"/><ellipse cx="555.5" cy="112.5" rx="3.3" ry="3.1" fill="url(#gr)" opacity="0.98"/><ellipse cx="575" cy="112.5" rx="3.3" ry="3.1" fill="url(#gr)" opacity="0.98"/><ellipse cx="515.5" cy="123" rx="3.5" ry="3.5" fill="url(#gr)" opacity="0.52"/><ellipse cx="525.5" cy="122" rx="3.5" ry="3.5" fill="url(#gr)" opacity="0.6"/><rect x="628.45" y="71" width="3.1" height="26" fill="url(#gv)" opacity="0.46"/><rect x="648" y="47" width="9" height="25" fill="#ff0" opacity="0.24"/><rect x="647" y="70" width="37" height="51" fill="#ff0" opacity="0.68"/><rect x="649" y="72" width="29" height="46" fill="#ff0" opacity="0.18"/><rect x="679" y="70" width="7" height="8" fill="#000" opacity="0.5"/><ellipse cx="656" cy="85.5" rx="6.5" ry="4.5" fill="url(#gr)" opacity="0.98"/><rect x="650" y="75" width="30" height="2" fill="#ff0" opacity="0.4"/><rect x="650" y="80.25" width="32" height="1.5" fill="#ff0" opacity="0.32"/><ellipse cx="655" cy="105" rx="5.5" ry="4" fill="url(#gr)" opacity="0.98"/><ellipse cx="672" cy="105" rx="7.5" ry="2.9" fill="url(#gr)" opacity="0.83"/><ellipse cx="654" cy="116.5" rx="7.5" ry="3.1" fill="url(#gr)" opacity="0.98"/><rect x="648.2" y="118" width="9.6" height="36" fill="#ff0" opacity="0.56"/><rect x="693.7" y="71" width="4.6" height="69" fill="url(#gv)" opacity="0.48"/><ellipse cx="696" cy="105" rx="4.1" ry="3.9" fill="url(#gr)" opacity="0.6"/><rect x="704.7" y="70" width="4.6" height="70" fill="url(#gv)" opacity="0.56"/><ellipse cx="707" cy="104.5" rx="4.1" ry="3.9" fill="url(#gr)" opacity="0.98"/><rect x="716.7" y="90" width="4.6" height="50" fill="url(#gv)" opacity="0.19"/><ellipse cx="719" cy="105" rx="4.1" ry="3.9" fill="url(#gr)" opacity="0.33"/><rect x="727.7" y="72" width="4.6" height="68" fill="url(#gv)" opacity="0.33"/><ellipse cx="730" cy="105" rx="4.1" ry="3.9" fill="url(#gr)" opacity="0.63"/><rect x="737.7" y="72" width="4.6" height="68" fill="url(#gv)" opacity="0.33"/><ellipse cx="740" cy="105" rx="4.1" ry="3.9" fill="url(#gr)" opacity="0.63"/><rect x="751.2" y="80" width="4.6" height="60" fill="url(#gv)" opacity="0.22"/><ellipse cx="753.5" cy="105" rx="4.1" ry="3.9" fill="url(#gr)" opacity="0.45"/><rect x="761.7" y="68" width="4.6" height="72" fill="url(#gv)" opacity="0.44"/><ellipse cx="764" cy="104" rx="4.1" ry="3.9" fill="url(#gr)" opacity="0.68"/><rect x="772.7" y="72" width="4.6" height="68" fill="url(#gv)" opacity="0.33"/><ellipse cx="775" cy="104.5" rx="4.1" ry="3.9" fill="url(#gr)" opacity="0.54"/><ellipse cx="764" cy="83" rx="4" ry="2" fill="url(#gr)" opacity="0.6"/><ellipse cx="775" cy="83" rx="3.5" ry="2" fill="url(#gr)" opacity="0.38"/><ellipse cx="696" cy="84" rx="3" ry="3.5" fill="url(#gr)" opacity="0.38"/><ellipse cx="707" cy="84" rx="3" ry="3" fill="url(#gr)" opacity="0.38"/><rect x="690" y="103" width="100" height="4" fill="#ff0" opacity="0.16"/><ellipse class="x" cx="240" cy="94.8" rx="9" ry="4.5" fill="url(#hr)" opacity="0.93"/><ellipse class="x" cx="359.5" cy="117" rx="5" ry="5.5" fill="url(#hr)" opacity="0.9"/><ellipse class="x" cx="376" cy="109" rx="3.8" ry="6.5" fill="url(#hr)" opacity="0.8"/><ellipse class="x" cx="433.5" cy="120" rx="4.4" ry="4.9" fill="url(#hr)" opacity="0.88"/><ellipse class="x" cx="447.5" cy="121.5" rx="6" ry="4.5" fill="url(#hr)" opacity="0.92"/><ellipse class="x" cx="458.6" cy="120.5" rx="5" ry="4.5" fill="url(#hr)" opacity="0.9"/><ellipse class="x" cx="469.5" cy="120" rx="5" ry="4.5" fill="url(#hr)" opacity="0.9"/><rect class="x" x="477.2" y="83.4" width="5" height="33.2" fill="url(#hv)" opacity="0.85"/><ellipse class="x" cx="479.5" cy="128" rx="4" ry="6.5" fill="url(#hr)" opacity="0.8"/><rect class="x" x="493.2" y="93.4" width="4.4" height="25.2" fill="url(#hv)" opacity="1"/><ellipse class="x" cx="515.5" cy="115.5" rx="4.7" ry="4.2" fill="url(#hr)" opacity="0.88"/><ellipse class="x" cx="525.5" cy="112.5" rx="4.7" ry="4.2" fill="url(#hr)" opacity="0.88"/><ellipse class="x" cx="536" cy="113" rx="4.7" ry="4.2" fill="url(#hr)" opacity="0.88"/><ellipse class="x" cx="545.5" cy="113" rx="4.7" ry="4.2" fill="url(#hr)" opacity="0.88"/><ellipse class="x" cx="555.5" cy="113.5" rx="4.7" ry="4.2" fill="url(#hr)" opacity="0.88"/><ellipse class="x" cx="565.5" cy="115" rx="4.7" ry="4.2" fill="url(#hr)" opacity="0.88"/><ellipse class="x" cx="575" cy="116" rx="4.7" ry="4.2" fill="url(#hr)" opacity="0.88"/><ellipse class="x" cx="525.5" cy="122" rx="4.5" ry="4" fill="url(#hr)" opacity="0.8"/><ellipse class="x" cx="515.5" cy="123" rx="4.5" ry="4" fill="url(#hr)" opacity="0.75"/><ellipse class="x" cx="656" cy="85.5" rx="8.5" ry="5.3" fill="url(#hr)" opacity="0.97"/><ellipse class="x" cx="655" cy="105" rx="7.6" ry="5.1" fill="url(#hr)" opacity="0.97"/><ellipse class="x" cx="672" cy="105" rx="10" ry="4.1" fill="url(#hr)" opacity="0.9"/><ellipse class="x" cx="654.5" cy="116.5" rx="10" ry="4.4" fill="url(#hr)" opacity="0.96"/><rect class="x" x="649.4" y="74.8" width="27.2" height="3.2" fill="#00f" opacity="0.86"/><rect class="x" x="649.4" y="79.4" width="21.2" height="2.7" fill="#00f" opacity="0.78"/><ellipse class="x" cx="668" cy="92" rx="9" ry="3.5" fill="url(#hr)" opacity="0.8"/><ellipse class="x" cx="664" cy="98" rx="8" ry="3.3" fill="url(#hr)" opacity="0.78"/><ellipse class="x" cx="707" cy="104.5" rx="5.5" ry="4" fill="url(#hr)" opacity="0.88"/><ellipse class="x" cx="696" cy="105" rx="4.5" ry="3.5" fill="url(#hr)" opacity="0.75"/><ellipse class="x" cx="730" cy="105" rx="4.5" ry="3.5" fill="url(#hr)" opacity="0.7"/><rect x="641" y="47" width="9" height="107" fill="#000" opacity="0.9"/></g></g>
<g filter="url(#f4b)"><rect x="502.5" y="480" width="140" height="107.6" fill="#000"/><g transform="translate(-3.7 435.5)"><rect x="162" y="47" width="649" height="107" fill="#ff0" opacity="0.13"/><rect x="162" y="100" width="649" height="28" fill="url(#gd)" opacity="0.2"/><rect x="162" y="128" width="649" height="25" fill="#ff0" opacity="0.21"/><rect x="162" y="130.6" width="643" height="1.8" fill="#ff0" opacity="0.27"/><rect x="162" y="138.2" width="643" height="2.6" fill="#ff0" opacity="0.21"/><rect x="162" y="144.75" width="638" height="6.5" fill="#ff0" opacity="0.22"/><rect x="162" y="134" width="649" height="2.5" fill="#000" opacity="0.5"/><rect x="162" y="152.3" width="649" height="1.7" fill="#000" opacity="0.6"/><rect x="797" y="47" width="14" height="107" fill="url(#kri)" opacity="0.6"/><rect x="505" y="47" width="140" height="53" fill="#000" opacity="0.85"/><rect x="505" y="100" width="140" height="26" fill="url(#ku)" opacity="0.85"/><rect x="172.7" y="80" width="4.6" height="72" fill="url(#gv)" opacity="0.56"/><ellipse cx="175" cy="91" rx="4.5" ry="3.5" fill="url(#gr)" opacity="0.45"/><ellipse cx="189" cy="91" rx="3.5" ry="2.5" fill="url(#gr)" opacity="0.3"/><ellipse cx="202.5" cy="90" rx="3" ry="3.5" fill="url(#gr)" opacity="0.27"/><rect x="183.2" y="110" width="5.6" height="42" fill="url(#gv)" opacity="0.26"/><rect x="196.7" y="118" width="4.6" height="34" fill="url(#gv)" opacity="0.22"/><ellipse cx="244" cy="86" rx="24.5" ry="17.5" fill="url(#gr)" opacity="0.39"/><ellipse cx="240" cy="87" rx="12.5" ry="13.5" fill="url(#gr)" opacity="0.45"/><ellipse cx="240" cy="94.5" rx="8" ry="3.5" fill="url(#gr)" opacity="0.98"/><ellipse cx="238" cy="80" rx="3.5" ry="3.5" fill="url(#gr)" opacity="0.38"/><rect x="218" y="82.25" width="8" height="1.5" fill="#ff0" opacity="0.56"/><rect x="226.45" y="72" width="3.1" height="28" fill="url(#gv)" opacity="0.46"/><rect x="254.45" y="70" width="3.1" height="33" fill="url(#gv)" opacity="0.65"/><rect x="264.2" y="72" width="3.6" height="33" fill="url(#gv)" opacity="0.56"/><rect x="238.7" y="98" width="4.6" height="37" fill="url(#gv)" opacity="0.28"/><rect x="270" y="80.25" width="30" height="1.5" fill="#ff0" opacity="0.24"/><rect x="270" y="88.5" width="30" height="2" fill="#ff0" opacity="0.32"/><ellipse cx="277" cy="91" rx="3.5" ry="3" fill="url(#gr)" opacity="0.45"/><ellipse cx="290" cy="87" rx="3.5" ry="3.5" fill="url(#gr)" opacity="0.45"/><rect x="315.95" y="71" width="3.1" height="21" fill="url(#gv)" opacity="0.56"/><rect x="313" y="79.25" width="10" height="1.5" fill="#ff0" opacity="0.4"/><rect x="273.45" y="118" width="5.1" height="34" fill="url(#gv)" opacity="0.37"/><rect x="283.45" y="108" width="5.1" height="44" fill="url(#gv)" opacity="0.56"/><rect x="292.45" y="112" width="5.1" height="40" fill="url(#gv)" opacity="0.41"/><rect x="306.45" y="104" width="5.1" height="48" fill="url(#gv)" opacity="0.52"/><rect x="316.45" y="110" width="5.1" height="42" fill="url(#gv)" opacity="0.52"/><rect x="327.45" y="118" width="5.1" height="34" fill="url(#gv)" opacity="0.28"/><rect x="247.45" y="116" width="5.1" height="36" fill="url(#gv)" opacity="0.26"/><rect x="260.45" y="120" width="5.1" height="32" fill="url(#gv)" opacity="0.26"/><rect x="211.45" y="118" width="5.1" height="34" fill="url(#gv)" opacity="0.26"/><ellipse cx="353" cy="81" rx="9.5" ry="8.5" fill="url(#gr)" opacity="0.6"/><rect x="343" y="85" width="20" height="2" fill="#ff0" opacity="0.4"/><ellipse cx="344" cy="105" rx="3" ry="2.5" fill="url(#gr)" opacity="0.6"/><rect x="355.7" y="104" width="6.6" height="46" fill="url(#gv)" opacity="0.65"/><ellipse cx="359.5" cy="117" rx="4" ry="5" fill="url(#gr)" opacity="0.98"/><rect x="350.2" y="84" width="3.6" height="34" fill="url(#gv)" opacity="0.28"/><rect x="373.45" y="77" width="4.1" height="73" fill="url(#gv)" opacity="0.83"/><ellipse cx="376" cy="108" rx="3" ry="6.5" fill="url(#gr)" opacity="0.68"/><rect x="374" y="78.75" width="7" height="1.5" fill="#ff0" opacity="0.64"/><rect x="374" y="87.9" width="7" height="1.2" fill="#ff0" opacity="0.4"/><rect x="383" y="112" width="49" height="20" fill="#ff0" opacity="0.08"/><rect x="420" y="86.7" width="54" height="1.6" fill="#ff0" opacity="0.32"/><rect x="430.7" y="100" width="4.6" height="48" fill="url(#gv)" opacity="0.61"/><ellipse cx="433.5" cy="120" rx="3.5" ry="4.5" fill="url(#gr)" opacity="0.9"/><rect x="445.45" y="74" width="5.1" height="78" fill="url(#gv)" opacity="0.74"/><ellipse cx="448" cy="86" rx="4" ry="3.5" fill="url(#gr)" opacity="0.52"/><ellipse cx="447.5" cy="121.5" rx="5" ry="4.5" fill="url(#gr)" opacity="0.98"/><rect x="444" y="74.9" width="8" height="1.2" fill="#ff0" opacity="0.4"/><ellipse cx="458.6" cy="120.5" rx="4" ry="4" fill="url(#gr)" opacity="0.98"/><rect x="456.45" y="84" width="4.1" height="66" fill="url(#gv)" opacity="0.41"/><ellipse cx="459" cy="87" rx="3" ry="2.5" fill="url(#gr)" opacity="0.38"/><rect x="466.95" y="80" width="5.1" height="70" fill="url(#gv)" opacity="0.61"/><ellipse cx="469.5" cy="120" rx="4" ry="4" fill="url(#gr)" opacity="0.98"/><ellipse cx="469" cy="87" rx="3" ry="2.5" fill="url(#gr)" opacity="0.38"/><rect x="476.2" y="58" width="2.6" height="82" fill="url(#gv)" opacity="0.56"/><path d="M476.9 68 L479.3 68 L489.2 140 L473.2 140 Z" fill="url(#gt)" opacity="0.8"/><rect x="477.4" y="82" width="4.2" height="34" fill="url(#gv)" opacity="0.98"/><ellipse cx="479.5" cy="98" rx="3.1" ry="14.5" fill="url(#gr)" opacity="0.6"/><rect x="475.7" y="128" width="4.6" height="24" fill="url(#gv)" opacity="0.46"/><path d="M492.4 71 L494.8 71 L501.2 130 L490.2 130 Z" fill="url(#gt)" opacity="0.77"/><rect x="492.7" y="92" width="3.6" height="26" fill="url(#gv)" opacity="0.83"/><rect x="502.7" y="80" width="2.6" height="24" fill="url(#gv)" opacity="0.37"/><rect x="485.2" y="120" width="3.6" height="32" fill="url(#gv)" opacity="0.26"/><rect x="495.2" y="126" width="3.6" height="26" fill="url(#gv)" opacity="0.26"/><rect x="513.1" y="71" width="4.8" height="75" fill="url(#gv)" opacity="0.49"/><ellipse cx="515.5" cy="85" rx="4.3" ry="3.5" fill="url(#gr)" opacity="0.62"/><ellipse cx="515.5" cy="115" rx="4.5" ry="6.5" fill="url(#gr)" opacity="0.74"/><rect x="513" y="75.4" width="5" height="1.2" fill="#ff0" opacity="0.4"/><rect x="523.1" y="71" width="4.8" height="75" fill="url(#gv)" opacity="0.53"/><ellipse cx="525.5" cy="85" rx="4.3" ry="3.5" fill="url(#gr)" opacity="0.67"/><ellipse cx="525.5" cy="115" rx="4.5" ry="6.5" fill="url(#gr)" opacity="0.81"/><rect x="523" y="75.4" width="5" height="1.2" fill="#ff0" opacity="0.43"/><rect x="533.6" y="71" width="4.8" height="75" fill="url(#gv)" opacity="0.58"/><ellipse cx="536" cy="85" rx="4.3" ry="3.5" fill="url(#gr)" opacity="0.73"/><ellipse cx="536" cy="115" rx="4.5" ry="6.5" fill="url(#gr)" opacity="0.88"/><rect x="533.5" y="75.4" width="5" height="1.2" fill="#ff0" opacity="0.47"/><rect x="543.1" y="71" width="4.8" height="75" fill="url(#gv)" opacity="0.58"/><ellipse cx="545.5" cy="85" rx="4.3" ry="3.5" fill="url(#gr)" opacity="0.73"/><ellipse cx="545.5" cy="115" rx="4.5" ry="6.5" fill="url(#gr)" opacity="0.88"/><rect x="543" y="75.4" width="5" height="1.2" fill="#ff0" opacity="0.47"/><rect x="553.1" y="71" width="4.8" height="75" fill="url(#gv)" opacity="0.53"/><ellipse cx="555.5" cy="85" rx="4.3" ry="3.5" fill="url(#gr)" opacity="0.67"/><ellipse cx="555.5" cy="115" rx="4.5" ry="6.5" fill="url(#gr)" opacity="0.81"/><rect x="553" y="75.4" width="5" height="1.2" fill="#ff0" opacity="0.43"/><rect x="563.1" y="71" width="4.8" height="75" fill="url(#gv)" opacity="0.49"/><ellipse cx="565.5" cy="85" rx="4.3" ry="3.5" fill="url(#gr)" opacity="0.62"/><ellipse cx="565.5" cy="115" rx="4.5" ry="6.5" fill="url(#gr)" opacity="0.74"/><rect x="563" y="75.4" width="5" height="1.2" fill="#ff0" opacity="0.4"/><rect x="572.6" y="71" width="4.8" height="75" fill="url(#gv)" opacity="0.49"/><ellipse cx="575" cy="85" rx="4.3" ry="3.5" fill="url(#gr)" opacity="0.62"/><ellipse cx="575" cy="115" rx="4.5" ry="6.5" fill="url(#gr)" opacity="0.74"/><rect x="572.5" y="75.4" width="5" height="1.2" fill="#ff0" opacity="0.4"/><rect x="582.6" y="71" width="4.8" height="75" fill="url(#gv)" opacity="0.44"/><ellipse cx="585" cy="85" rx="4.3" ry="3.5" fill="url(#gr)" opacity="0.56"/><ellipse cx="585" cy="115" rx="4.5" ry="6.5" fill="url(#gr)" opacity="0.68"/><rect x="582.5" y="75.4" width="5" height="1.2" fill="#ff0" opacity="0.36"/><rect x="593.6" y="71" width="4.8" height="75" fill="url(#gv)" opacity="0.4"/><ellipse cx="596" cy="85" rx="4.3" ry="3.5" fill="url(#gr)" opacity="0.51"/><ellipse cx="596" cy="115" rx="4.5" ry="6.5" fill="url(#gr)" opacity="0.61"/><rect x="593.5" y="75.4" width="5" height="1.2" fill="#ff0" opacity="0.32"/><rect x="604.2" y="71" width="4.8" height="75" fill="url(#gv)" opacity="0.4"/><ellipse cx="606.6" cy="85" rx="4.3" ry="3.5" fill="url(#gr)" opacity="0.51"/><ellipse cx="606.6" cy="115" rx="4.5" ry="6.5" fill="url(#gr)" opacity="0.61"/><rect x="604.1" y="75.4" width="5" height="1.2" fill="#ff0" opacity="0.32"/><rect x="613.6" y="71" width="4.8" height="75" fill="url(#gv)" opacity="0.31"/><ellipse cx="616" cy="85" rx="4.3" ry="3.5" fill="url(#gr)" opacity="0.39"/><ellipse cx="616" cy="115" rx="4.5" ry="6.5" fill="url(#gr)" opacity="0.47"/><rect x="613.5" y="75.4" width="5" height="1.2" fill="#ff0" opacity="0.25"/><rect x="512" y="83.25" width="100" height="3.5" fill="#ff0" opacity="0.32"/><rect x="512" y="111.5" width="88" height="5" fill="#ff0" opacity="0.22"/><ellipse cx="525.5" cy="112.5" rx="3.3" ry="3.1" fill="url(#gr)" opacity="0.98"/><ellipse cx="536" cy="112.5" rx="3.3" ry="3.1" fill="url(#gr)" opacity="0.98"/><ellipse cx="545.5" cy="112.5" rx="3.3" ry="3.1" fill="url(#gr)" opacity="0.98"/><ellipse cx="555.5" cy="112.5" rx="3.3" ry="3.1" fill="url(#gr)" opacity="0.98"/><ellipse cx="575" cy="112.5" rx="3.3" ry="3.1" fill="url(#gr)" opacity="0.98"/><ellipse cx="515.5" cy="123" rx="3.5" ry="3.5" fill="url(#gr)" opacity="0.52"/><ellipse cx="525.5" cy="122" rx="3.5" ry="3.5" fill="url(#gr)" opacity="0.6"/><rect x="628.45" y="71" width="3.1" height="26" fill="url(#gv)" opacity="0.46"/><rect x="648" y="47" width="9" height="25" fill="#ff0" opacity="0.24"/><rect x="647" y="70" width="37" height="51" fill="#ff0" opacity="0.68"/><rect x="649" y="72" width="29" height="46" fill="#ff0" opacity="0.18"/><rect x="679" y="70" width="7" height="8" fill="#000" opacity="0.5"/><ellipse cx="656" cy="85.5" rx="6.5" ry="4.5" fill="url(#gr)" opacity="0.98"/><rect x="650" y="75" width="30" height="2" fill="#ff0" opacity="0.4"/><rect x="650" y="80.25" width="32" height="1.5" fill="#ff0" opacity="0.32"/><ellipse cx="655" cy="105" rx="5.5" ry="4" fill="url(#gr)" opacity="0.98"/><ellipse cx="672" cy="105" rx="7.5" ry="2.9" fill="url(#gr)" opacity="0.83"/><ellipse cx="654" cy="116.5" rx="7.5" ry="3.1" fill="url(#gr)" opacity="0.98"/><rect x="648.2" y="118" width="9.6" height="36" fill="#ff0" opacity="0.56"/><rect x="693.7" y="71" width="4.6" height="69" fill="url(#gv)" opacity="0.48"/><ellipse cx="696" cy="105" rx="4.1" ry="3.9" fill="url(#gr)" opacity="0.6"/><rect x="704.7" y="70" width="4.6" height="70" fill="url(#gv)" opacity="0.56"/><ellipse cx="707" cy="104.5" rx="4.1" ry="3.9" fill="url(#gr)" opacity="0.98"/><rect x="716.7" y="90" width="4.6" height="50" fill="url(#gv)" opacity="0.19"/><ellipse cx="719" cy="105" rx="4.1" ry="3.9" fill="url(#gr)" opacity="0.33"/><rect x="727.7" y="72" width="4.6" height="68" fill="url(#gv)" opacity="0.33"/><ellipse cx="730" cy="105" rx="4.1" ry="3.9" fill="url(#gr)" opacity="0.63"/><rect x="737.7" y="72" width="4.6" height="68" fill="url(#gv)" opacity="0.33"/><ellipse cx="740" cy="105" rx="4.1" ry="3.9" fill="url(#gr)" opacity="0.63"/><rect x="751.2" y="80" width="4.6" height="60" fill="url(#gv)" opacity="0.22"/><ellipse cx="753.5" cy="105" rx="4.1" ry="3.9" fill="url(#gr)" opacity="0.45"/><rect x="761.7" y="68" width="4.6" height="72" fill="url(#gv)" opacity="0.44"/><ellipse cx="764" cy="104" rx="4.1" ry="3.9" fill="url(#gr)" opacity="0.68"/><rect x="772.7" y="72" width="4.6" height="68" fill="url(#gv)" opacity="0.33"/><ellipse cx="775" cy="104.5" rx="4.1" ry="3.9" fill="url(#gr)" opacity="0.54"/><ellipse cx="764" cy="83" rx="4" ry="2" fill="url(#gr)" opacity="0.6"/><ellipse cx="775" cy="83" rx="3.5" ry="2" fill="url(#gr)" opacity="0.38"/><ellipse cx="696" cy="84" rx="3" ry="3.5" fill="url(#gr)" opacity="0.38"/><ellipse cx="707" cy="84" rx="3" ry="3" fill="url(#gr)" opacity="0.38"/><rect x="690" y="103" width="100" height="4" fill="#ff0" opacity="0.16"/><ellipse class="x" cx="240" cy="94.8" rx="9" ry="4.5" fill="url(#hr)" opacity="0.93"/><ellipse class="x" cx="359.5" cy="117" rx="5" ry="5.5" fill="url(#hr)" opacity="0.9"/><ellipse class="x" cx="376" cy="109" rx="3.8" ry="6.5" fill="url(#hr)" opacity="0.8"/><ellipse class="x" cx="433.5" cy="120" rx="4.4" ry="4.9" fill="url(#hr)" opacity="0.88"/><ellipse class="x" cx="447.5" cy="121.5" rx="6" ry="4.5" fill="url(#hr)" opacity="0.92"/><ellipse class="x" cx="458.6" cy="120.5" rx="5" ry="4.5" fill="url(#hr)" opacity="0.9"/><ellipse class="x" cx="469.5" cy="120" rx="5" ry="4.5" fill="url(#hr)" opacity="0.9"/><rect class="x" x="477.2" y="83.4" width="5" height="33.2" fill="url(#hv)" opacity="0.85"/><ellipse class="x" cx="479.5" cy="128" rx="4" ry="6.5" fill="url(#hr)" opacity="0.8"/><rect class="x" x="493.2" y="93.4" width="4.4" height="25.2" fill="url(#hv)" opacity="1"/><ellipse class="x" cx="515.5" cy="115.5" rx="4.7" ry="4.2" fill="url(#hr)" opacity="0.88"/><ellipse class="x" cx="525.5" cy="112.5" rx="4.7" ry="4.2" fill="url(#hr)" opacity="0.88"/><ellipse class="x" cx="536" cy="113" rx="4.7" ry="4.2" fill="url(#hr)" opacity="0.88"/><ellipse class="x" cx="545.5" cy="113" rx="4.7" ry="4.2" fill="url(#hr)" opacity="0.88"/><ellipse class="x" cx="555.5" cy="113.5" rx="4.7" ry="4.2" fill="url(#hr)" opacity="0.88"/><ellipse class="x" cx="565.5" cy="115" rx="4.7" ry="4.2" fill="url(#hr)" opacity="0.88"/><ellipse class="x" cx="575" cy="116" rx="4.7" ry="4.2" fill="url(#hr)" opacity="0.88"/><ellipse class="x" cx="525.5" cy="122" rx="4.5" ry="4" fill="url(#hr)" opacity="0.8"/><ellipse class="x" cx="515.5" cy="123" rx="4.5" ry="4" fill="url(#hr)" opacity="0.75"/><ellipse class="x" cx="656" cy="85.5" rx="8.5" ry="5.3" fill="url(#hr)" opacity="0.97"/><ellipse class="x" cx="655" cy="105" rx="7.6" ry="5.1" fill="url(#hr)" opacity="0.97"/><ellipse class="x" cx="672" cy="105" rx="10" ry="4.1" fill="url(#hr)" opacity="0.9"/><ellipse class="x" cx="654.5" cy="116.5" rx="10" ry="4.4" fill="url(#hr)" opacity="0.96"/><rect class="x" x="649.4" y="74.8" width="27.2" height="3.2" fill="#00f" opacity="0.86"/><rect class="x" x="649.4" y="79.4" width="21.2" height="2.7" fill="#00f" opacity="0.78"/><ellipse class="x" cx="668" cy="92" rx="9" ry="3.5" fill="url(#hr)" opacity="0.8"/><ellipse class="x" cx="664" cy="98" rx="8" ry="3.3" fill="url(#hr)" opacity="0.78"/><ellipse class="x" cx="707" cy="104.5" rx="5.5" ry="4" fill="url(#hr)" opacity="0.88"/><ellipse class="x" cx="696" cy="105" rx="4.5" ry="3.5" fill="url(#hr)" opacity="0.75"/><ellipse class="x" cx="730" cy="105" rx="4.5" ry="3.5" fill="url(#hr)" opacity="0.7"/><rect x="641" y="47" width="9" height="107" fill="#000" opacity="0.9"/></g></g>
<g filter="url(#f5a)"><rect x="892.5" y="44.8" width="126.5" height="114.2" fill="#000"/><g transform="translate(594.5 0.5)"><rect x="162" y="47" width="649" height="107" fill="#ff0" opacity="0.13"/><rect x="162" y="100" width="649" height="28" fill="url(#gd)" opacity="0.2"/><rect x="162" y="128" width="649" height="25" fill="#ff0" opacity="0.21"/><rect x="162" y="130.6" width="643" height="1.8" fill="#ff0" opacity="0.27"/><rect x="162" y="138.2" width="643" height="2.6" fill="#ff0" opacity="0.21"/><rect x="162" y="144.75" width="638" height="6.5" fill="#ff0" opacity="0.22"/><rect x="162" y="134" width="649" height="2.5" fill="#000" opacity="0.5"/><rect x="162" y="152.3" width="649" height="1.7" fill="#000" opacity="0.6"/><rect x="797" y="47" width="14" height="107" fill="url(#kri)" opacity="0.6"/><rect x="172.7" y="80" width="4.6" height="72" fill="url(#gv)" opacity="0.56"/><ellipse cx="175" cy="91" rx="4.5" ry="3.5" fill="url(#gr)" opacity="0.45"/><ellipse cx="189" cy="91" rx="3.5" ry="2.5" fill="url(#gr)" opacity="0.3"/><ellipse cx="202.5" cy="90" rx="3" ry="3.5" fill="url(#gr)" opacity="0.27"/><rect x="183.2" y="110" width="5.6" height="42" fill="url(#gv)" opacity="0.26"/><rect x="196.7" y="118" width="4.6" height="34" fill="url(#gv)" opacity="0.22"/><ellipse cx="244" cy="86" rx="24.5" ry="17.5" fill="url(#gr)" opacity="0.39"/><ellipse cx="240" cy="87" rx="12.5" ry="13.5" fill="url(#gr)" opacity="0.45"/><ellipse cx="240" cy="94.5" rx="8" ry="3.5" fill="url(#gr)" opacity="0.98"/><ellipse cx="238" cy="80" rx="3.5" ry="3.5" fill="url(#gr)" opacity="0.38"/><rect x="218" y="82.25" width="8" height="1.5" fill="#ff0" opacity="0.56"/><rect x="226.45" y="72" width="3.1" height="28" fill="url(#gv)" opacity="0.46"/><rect x="254.45" y="70" width="3.1" height="33" fill="url(#gv)" opacity="0.65"/><rect x="264.2" y="72" width="3.6" height="33" fill="url(#gv)" opacity="0.56"/><rect x="238.7" y="98" width="4.6" height="37" fill="url(#gv)" opacity="0.28"/><rect x="270" y="80.25" width="30" height="1.5" fill="#ff0" opacity="0.24"/><rect x="270" y="88.5" width="30" height="2" fill="#ff0" opacity="0.32"/><ellipse cx="277" cy="91" rx="3.5" ry="3" fill="url(#gr)" opacity="0.45"/><ellipse cx="290" cy="87" rx="3.5" ry="3.5" fill="url(#gr)" opacity="0.45"/><rect x="315.95" y="71" width="3.1" height="21" fill="url(#gv)" opacity="0.56"/><rect x="313" y="79.25" width="10" height="1.5" fill="#ff0" opacity="0.4"/><rect x="273.45" y="118" width="5.1" height="34" fill="url(#gv)" opacity="0.37"/><rect x="283.45" y="108" width="5.1" height="44" fill="url(#gv)" opacity="0.56"/><rect x="292.45" y="112" width="5.1" height="40" fill="url(#gv)" opacity="0.41"/><rect x="306.45" y="104" width="5.1" height="48" fill="url(#gv)" opacity="0.52"/><rect x="316.45" y="110" width="5.1" height="42" fill="url(#gv)" opacity="0.52"/><rect x="327.45" y="118" width="5.1" height="34" fill="url(#gv)" opacity="0.28"/><rect x="247.45" y="116" width="5.1" height="36" fill="url(#gv)" opacity="0.26"/><rect x="260.45" y="120" width="5.1" height="32" fill="url(#gv)" opacity="0.26"/><rect x="211.45" y="118" width="5.1" height="34" fill="url(#gv)" opacity="0.26"/><ellipse cx="353" cy="81" rx="9.5" ry="8.5" fill="url(#gr)" opacity="0.6"/><rect x="343" y="85" width="20" height="2" fill="#ff0" opacity="0.4"/><ellipse cx="344" cy="105" rx="3" ry="2.5" fill="url(#gr)" opacity="0.6"/><rect x="355.7" y="104" width="6.6" height="46" fill="url(#gv)" opacity="0.65"/><ellipse cx="359.5" cy="117" rx="4" ry="5" fill="url(#gr)" opacity="0.98"/><rect x="350.2" y="84" width="3.6" height="34" fill="url(#gv)" opacity="0.28"/><rect x="373.45" y="77" width="4.1" height="73" fill="url(#gv)" opacity="0.83"/><ellipse cx="376" cy="108" rx="3" ry="6.5" fill="url(#gr)" opacity="0.68"/><rect x="374" y="78.75" width="7" height="1.5" fill="#ff0" opacity="0.64"/><rect x="374" y="87.9" width="7" height="1.2" fill="#ff0" opacity="0.4"/><rect x="383" y="112" width="49" height="20" fill="#ff0" opacity="0.08"/><rect x="420" y="86.7" width="54" height="1.6" fill="#ff0" opacity="0.32"/><rect x="430.7" y="100" width="4.6" height="48" fill="url(#gv)" opacity="0.61"/><ellipse cx="433.5" cy="120" rx="3.5" ry="4.5" fill="url(#gr)" opacity="0.9"/><rect x="445.45" y="74" width="5.1" height="78" fill="url(#gv)" opacity="0.74"/><ellipse cx="448" cy="86" rx="4" ry="3.5" fill="url(#gr)" opacity="0.52"/><ellipse cx="447.5" cy="121.5" rx="5" ry="4.5" fill="url(#gr)" opacity="0.98"/><rect x="444" y="74.9" width="8" height="1.2" fill="#ff0" opacity="0.4"/><ellipse cx="458.6" cy="120.5" rx="4" ry="4" fill="url(#gr)" opacity="0.98"/><rect x="456.45" y="84" width="4.1" height="66" fill="url(#gv)" opacity="0.41"/><ellipse cx="459" cy="87" rx="3" ry="2.5" fill="url(#gr)" opacity="0.38"/><rect x="466.95" y="80" width="5.1" height="70" fill="url(#gv)" opacity="0.61"/><ellipse cx="469.5" cy="120" rx="4" ry="4" fill="url(#gr)" opacity="0.98"/><ellipse cx="469" cy="87" rx="3" ry="2.5" fill="url(#gr)" opacity="0.38"/><rect x="476.2" y="58" width="2.6" height="82" fill="url(#gv)" opacity="0.56"/><path d="M476.9 68 L479.3 68 L489.2 140 L473.2 140 Z" fill="url(#gt)" opacity="0.8"/><rect x="477.4" y="82" width="4.2" height="34" fill="url(#gv)" opacity="0.98"/><ellipse cx="479.5" cy="98" rx="3.1" ry="14.5" fill="url(#gr)" opacity="0.6"/><rect x="475.7" y="128" width="4.6" height="24" fill="url(#gv)" opacity="0.46"/><path d="M492.4 71 L494.8 71 L501.2 130 L490.2 130 Z" fill="url(#gt)" opacity="0.77"/><rect x="492.7" y="92" width="3.6" height="26" fill="url(#gv)" opacity="0.83"/><rect x="502.7" y="80" width="2.6" height="24" fill="url(#gv)" opacity="0.37"/><rect x="485.2" y="120" width="3.6" height="32" fill="url(#gv)" opacity="0.26"/><rect x="495.2" y="126" width="3.6" height="26" fill="url(#gv)" opacity="0.26"/><rect x="513.1" y="71" width="4.8" height="75" fill="url(#gv)" opacity="0.49"/><ellipse cx="515.5" cy="85" rx="4.3" ry="3.5" fill="url(#gr)" opacity="0.62"/><ellipse cx="515.5" cy="115" rx="4.5" ry="6.5" fill="url(#gr)" opacity="0.74"/><rect x="513" y="75.4" width="5" height="1.2" fill="#ff0" opacity="0.4"/><rect x="523.1" y="71" width="4.8" height="75" fill="url(#gv)" opacity="0.53"/><ellipse cx="525.5" cy="85" rx="4.3" ry="3.5" fill="url(#gr)" opacity="0.67"/><ellipse cx="525.5" cy="115" rx="4.5" ry="6.5" fill="url(#gr)" opacity="0.81"/><rect x="523" y="75.4" width="5" height="1.2" fill="#ff0" opacity="0.43"/><rect x="533.6" y="71" width="4.8" height="75" fill="url(#gv)" opacity="0.58"/><ellipse cx="536" cy="85" rx="4.3" ry="3.5" fill="url(#gr)" opacity="0.73"/><ellipse cx="536" cy="115" rx="4.5" ry="6.5" fill="url(#gr)" opacity="0.88"/><rect x="533.5" y="75.4" width="5" height="1.2" fill="#ff0" opacity="0.47"/><rect x="543.1" y="71" width="4.8" height="75" fill="url(#gv)" opacity="0.58"/><ellipse cx="545.5" cy="85" rx="4.3" ry="3.5" fill="url(#gr)" opacity="0.73"/><ellipse cx="545.5" cy="115" rx="4.5" ry="6.5" fill="url(#gr)" opacity="0.88"/><rect x="543" y="75.4" width="5" height="1.2" fill="#ff0" opacity="0.47"/><rect x="553.1" y="71" width="4.8" height="75" fill="url(#gv)" opacity="0.53"/><ellipse cx="555.5" cy="85" rx="4.3" ry="3.5" fill="url(#gr)" opacity="0.67"/><ellipse cx="555.5" cy="115" rx="4.5" ry="6.5" fill="url(#gr)" opacity="0.81"/><rect x="553" y="75.4" width="5" height="1.2" fill="#ff0" opacity="0.43"/><rect x="563.1" y="71" width="4.8" height="75" fill="url(#gv)" opacity="0.49"/><ellipse cx="565.5" cy="85" rx="4.3" ry="3.5" fill="url(#gr)" opacity="0.62"/><ellipse cx="565.5" cy="115" rx="4.5" ry="6.5" fill="url(#gr)" opacity="0.74"/><rect x="563" y="75.4" width="5" height="1.2" fill="#ff0" opacity="0.4"/><rect x="572.6" y="71" width="4.8" height="75" fill="url(#gv)" opacity="0.49"/><ellipse cx="575" cy="85" rx="4.3" ry="3.5" fill="url(#gr)" opacity="0.62"/><ellipse cx="575" cy="115" rx="4.5" ry="6.5" fill="url(#gr)" opacity="0.74"/><rect x="572.5" y="75.4" width="5" height="1.2" fill="#ff0" opacity="0.4"/><rect x="582.6" y="71" width="4.8" height="75" fill="url(#gv)" opacity="0.44"/><ellipse cx="585" cy="85" rx="4.3" ry="3.5" fill="url(#gr)" opacity="0.56"/><ellipse cx="585" cy="115" rx="4.5" ry="6.5" fill="url(#gr)" opacity="0.68"/><rect x="582.5" y="75.4" width="5" height="1.2" fill="#ff0" opacity="0.36"/><rect x="593.6" y="71" width="4.8" height="75" fill="url(#gv)" opacity="0.4"/><ellipse cx="596" cy="85" rx="4.3" ry="3.5" fill="url(#gr)" opacity="0.51"/><ellipse cx="596" cy="115" rx="4.5" ry="6.5" fill="url(#gr)" opacity="0.61"/><rect x="593.5" y="75.4" width="5" height="1.2" fill="#ff0" opacity="0.32"/><rect x="604.2" y="71" width="4.8" height="75" fill="url(#gv)" opacity="0.4"/><ellipse cx="606.6" cy="85" rx="4.3" ry="3.5" fill="url(#gr)" opacity="0.51"/><ellipse cx="606.6" cy="115" rx="4.5" ry="6.5" fill="url(#gr)" opacity="0.61"/><rect x="604.1" y="75.4" width="5" height="1.2" fill="#ff0" opacity="0.32"/><rect x="613.6" y="71" width="4.8" height="75" fill="url(#gv)" opacity="0.31"/><ellipse cx="616" cy="85" rx="4.3" ry="3.5" fill="url(#gr)" opacity="0.39"/><ellipse cx="616" cy="115" rx="4.5" ry="6.5" fill="url(#gr)" opacity="0.47"/><rect x="613.5" y="75.4" width="5" height="1.2" fill="#ff0" opacity="0.25"/><rect x="512" y="83.25" width="100" height="3.5" fill="#ff0" opacity="0.32"/><rect x="512" y="111.5" width="88" height="5" fill="#ff0" opacity="0.22"/><ellipse cx="525.5" cy="112.5" rx="3.3" ry="3.1" fill="url(#gr)" opacity="0.98"/><ellipse cx="536" cy="112.5" rx="3.3" ry="3.1" fill="url(#gr)" opacity="0.98"/><ellipse cx="545.5" cy="112.5" rx="3.3" ry="3.1" fill="url(#gr)" opacity="0.98"/><ellipse cx="555.5" cy="112.5" rx="3.3" ry="3.1" fill="url(#gr)" opacity="0.98"/><ellipse cx="575" cy="112.5" rx="3.3" ry="3.1" fill="url(#gr)" opacity="0.98"/><ellipse cx="515.5" cy="123" rx="3.5" ry="3.5" fill="url(#gr)" opacity="0.52"/><ellipse cx="525.5" cy="122" rx="3.5" ry="3.5" fill="url(#gr)" opacity="0.6"/><rect x="628.45" y="71" width="3.1" height="26" fill="url(#gv)" opacity="0.46"/><rect x="648" y="47" width="9" height="25" fill="#ff0" opacity="0.24"/><rect x="647" y="70" width="37" height="51" fill="#ff0" opacity="0.68"/><rect x="649" y="72" width="29" height="46" fill="#ff0" opacity="0.18"/><rect x="679" y="70" width="7" height="8" fill="#000" opacity="0.5"/><ellipse cx="656" cy="85.5" rx="6.5" ry="4.5" fill="url(#gr)" opacity="0.98"/><rect x="650" y="75" width="30" height="2" fill="#ff0" opacity="0.4"/><rect x="650" y="80.25" width="32" height="1.5" fill="#ff0" opacity="0.32"/><ellipse cx="655" cy="105" rx="5.5" ry="4" fill="url(#gr)" opacity="0.98"/><ellipse cx="672" cy="105" rx="7.5" ry="2.9" fill="url(#gr)" opacity="0.83"/><ellipse cx="654" cy="116.5" rx="7.5" ry="3.1" fill="url(#gr)" opacity="0.98"/><rect x="648.2" y="118" width="9.6" height="36" fill="#ff0" opacity="0.56"/><rect x="693.7" y="71" width="4.6" height="69" fill="url(#gv)" opacity="0.48"/><ellipse cx="696" cy="105" rx="4.1" ry="3.9" fill="url(#gr)" opacity="0.6"/><rect x="704.7" y="70" width="4.6" height="70" fill="url(#gv)" opacity="0.56"/><ellipse cx="707" cy="104.5" rx="4.1" ry="3.9" fill="url(#gr)" opacity="0.98"/><rect x="716.7" y="90" width="4.6" height="50" fill="url(#gv)" opacity="0.19"/><ellipse cx="719" cy="105" rx="4.1" ry="3.9" fill="url(#gr)" opacity="0.33"/><rect x="727.7" y="72" width="4.6" height="68" fill="url(#gv)" opacity="0.33"/><ellipse cx="730" cy="105" rx="4.1" ry="3.9" fill="url(#gr)" opacity="0.63"/><rect x="737.7" y="72" width="4.6" height="68" fill="url(#gv)" opacity="0.33"/><ellipse cx="740" cy="105" rx="4.1" ry="3.9" fill="url(#gr)" opacity="0.63"/><rect x="751.2" y="80" width="4.6" height="60" fill="url(#gv)" opacity="0.22"/><ellipse cx="753.5" cy="105" rx="4.1" ry="3.9" fill="url(#gr)" opacity="0.45"/><rect x="761.7" y="68" width="4.6" height="72" fill="url(#gv)" opacity="0.44"/><ellipse cx="764" cy="104" rx="4.1" ry="3.9" fill="url(#gr)" opacity="0.68"/><rect x="772.7" y="72" width="4.6" height="68" fill="url(#gv)" opacity="0.33"/><ellipse cx="775" cy="104.5" rx="4.1" ry="3.9" fill="url(#gr)" opacity="0.54"/><ellipse cx="764" cy="83" rx="4" ry="2" fill="url(#gr)" opacity="0.6"/><ellipse cx="775" cy="83" rx="3.5" ry="2" fill="url(#gr)" opacity="0.38"/><ellipse cx="696" cy="84" rx="3" ry="3.5" fill="url(#gr)" opacity="0.38"/><ellipse cx="707" cy="84" rx="3" ry="3" fill="url(#gr)" opacity="0.38"/><rect x="690" y="103" width="100" height="4" fill="#ff0" opacity="0.16"/><ellipse class="x" cx="240" cy="94.8" rx="9" ry="4.5" fill="url(#hr)" opacity="0.93"/><ellipse class="x" cx="359.5" cy="117" rx="5" ry="5.5" fill="url(#hr)" opacity="0.9"/><ellipse class="x" cx="376" cy="109" rx="3.8" ry="6.5" fill="url(#hr)" opacity="0.8"/><ellipse class="x" cx="433.5" cy="120" rx="4.4" ry="4.9" fill="url(#hr)" opacity="0.88"/><ellipse class="x" cx="447.5" cy="121.5" rx="6" ry="4.5" fill="url(#hr)" opacity="0.92"/><ellipse class="x" cx="458.6" cy="120.5" rx="5" ry="4.5" fill="url(#hr)" opacity="0.9"/><ellipse class="x" cx="469.5" cy="120" rx="5" ry="4.5" fill="url(#hr)" opacity="0.9"/><rect class="x" x="477.2" y="83.4" width="5" height="33.2" fill="url(#hv)" opacity="0.85"/><ellipse class="x" cx="479.5" cy="128" rx="4" ry="6.5" fill="url(#hr)" opacity="0.8"/><rect class="x" x="493.2" y="93.4" width="4.4" height="25.2" fill="url(#hv)" opacity="1"/><ellipse class="x" cx="515.5" cy="115.5" rx="4.7" ry="4.2" fill="url(#hr)" opacity="0.88"/><ellipse class="x" cx="525.5" cy="112.5" rx="4.7" ry="4.2" fill="url(#hr)" opacity="0.88"/><ellipse class="x" cx="536" cy="113" rx="4.7" ry="4.2" fill="url(#hr)" opacity="0.88"/><ellipse class="x" cx="545.5" cy="113" rx="4.7" ry="4.2" fill="url(#hr)" opacity="0.88"/><ellipse class="x" cx="555.5" cy="113.5" rx="4.7" ry="4.2" fill="url(#hr)" opacity="0.88"/><ellipse class="x" cx="565.5" cy="115" rx="4.7" ry="4.2" fill="url(#hr)" opacity="0.88"/><ellipse class="x" cx="575" cy="116" rx="4.7" ry="4.2" fill="url(#hr)" opacity="0.88"/><ellipse class="x" cx="525.5" cy="122" rx="4.5" ry="4" fill="url(#hr)" opacity="0.8"/><ellipse class="x" cx="515.5" cy="123" rx="4.5" ry="4" fill="url(#hr)" opacity="0.75"/><ellipse class="x" cx="656" cy="85.5" rx="8.5" ry="5.3" fill="url(#hr)" opacity="0.97"/><ellipse class="x" cx="655" cy="105" rx="7.6" ry="5.1" fill="url(#hr)" opacity="0.97"/><ellipse class="x" cx="672" cy="105" rx="10" ry="4.1" fill="url(#hr)" opacity="0.9"/><ellipse class="x" cx="654.5" cy="116.5" rx="10" ry="4.4" fill="url(#hr)" opacity="0.96"/><rect class="x" x="649.4" y="74.8" width="27.2" height="3.2" fill="#00f" opacity="0.86"/><rect class="x" x="649.4" y="79.4" width="21.2" height="2.7" fill="#00f" opacity="0.78"/><ellipse class="x" cx="668" cy="92" rx="9" ry="3.5" fill="url(#hr)" opacity="0.8"/><ellipse class="x" cx="664" cy="98" rx="8" ry="3.3" fill="url(#hr)" opacity="0.78"/><ellipse class="x" cx="707" cy="104.5" rx="5.5" ry="4" fill="url(#hr)" opacity="0.88"/><ellipse class="x" cx="696" cy="105" rx="4.5" ry="3.5" fill="url(#hr)" opacity="0.75"/><ellipse class="x" cx="730" cy="105" rx="4.5" ry="3.5" fill="url(#hr)" opacity="0.7"/></g></g>
<g filter="url(#f5b)"><rect x="1013" y="44.8" width="110" height="114.2" fill="#000"/><g transform="translate(610 0.5)"><rect x="162" y="47" width="649" height="107" fill="#ff0" opacity="0.13"/><rect x="162" y="100" width="649" height="28" fill="url(#gd)" opacity="0.2"/><rect x="162" y="128" width="649" height="25" fill="#ff0" opacity="0.21"/><rect x="162" y="130.6" width="643" height="1.8" fill="#ff0" opacity="0.27"/><rect x="162" y="138.2" width="643" height="2.6" fill="#ff0" opacity="0.21"/><rect x="162" y="144.75" width="638" height="6.5" fill="#ff0" opacity="0.22"/><rect x="162" y="134" width="649" height="2.5" fill="#000" opacity="0.5"/><rect x="162" y="152.3" width="649" height="1.7" fill="#000" opacity="0.6"/><rect x="797" y="47" width="14" height="107" fill="url(#kri)" opacity="0.6"/><rect x="172.7" y="80" width="4.6" height="72" fill="url(#gv)" opacity="0.56"/><ellipse cx="175" cy="91" rx="4.5" ry="3.5" fill="url(#gr)" opacity="0.45"/><ellipse cx="189" cy="91" rx="3.5" ry="2.5" fill="url(#gr)" opacity="0.3"/><ellipse cx="202.5" cy="90" rx="3" ry="3.5" fill="url(#gr)" opacity="0.27"/><rect x="183.2" y="110" width="5.6" height="42" fill="url(#gv)" opacity="0.26"/><rect x="196.7" y="118" width="4.6" height="34" fill="url(#gv)" opacity="0.22"/><ellipse cx="244" cy="86" rx="24.5" ry="17.5" fill="url(#gr)" opacity="0.39"/><ellipse cx="240" cy="87" rx="12.5" ry="13.5" fill="url(#gr)" opacity="0.45"/><ellipse cx="240" cy="94.5" rx="8" ry="3.5" fill="url(#gr)" opacity="0.98"/><ellipse cx="238" cy="80" rx="3.5" ry="3.5" fill="url(#gr)" opacity="0.38"/><rect x="218" y="82.25" width="8" height="1.5" fill="#ff0" opacity="0.56"/><rect x="226.45" y="72" width="3.1" height="28" fill="url(#gv)" opacity="0.46"/><rect x="254.45" y="70" width="3.1" height="33" fill="url(#gv)" opacity="0.65"/><rect x="264.2" y="72" width="3.6" height="33" fill="url(#gv)" opacity="0.56"/><rect x="238.7" y="98" width="4.6" height="37" fill="url(#gv)" opacity="0.28"/><rect x="270" y="80.25" width="30" height="1.5" fill="#ff0" opacity="0.24"/><rect x="270" y="88.5" width="30" height="2" fill="#ff0" opacity="0.32"/><ellipse cx="277" cy="91" rx="3.5" ry="3" fill="url(#gr)" opacity="0.45"/><ellipse cx="290" cy="87" rx="3.5" ry="3.5" fill="url(#gr)" opacity="0.45"/><rect x="315.95" y="71" width="3.1" height="21" fill="url(#gv)" opacity="0.56"/><rect x="313" y="79.25" width="10" height="1.5" fill="#ff0" opacity="0.4"/><rect x="273.45" y="118" width="5.1" height="34" fill="url(#gv)" opacity="0.37"/><rect x="283.45" y="108" width="5.1" height="44" fill="url(#gv)" opacity="0.56"/><rect x="292.45" y="112" width="5.1" height="40" fill="url(#gv)" opacity="0.41"/><rect x="306.45" y="104" width="5.1" height="48" fill="url(#gv)" opacity="0.52"/><rect x="316.45" y="110" width="5.1" height="42" fill="url(#gv)" opacity="0.52"/><rect x="327.45" y="118" width="5.1" height="34" fill="url(#gv)" opacity="0.28"/><rect x="247.45" y="116" width="5.1" height="36" fill="url(#gv)" opacity="0.26"/><rect x="260.45" y="120" width="5.1" height="32" fill="url(#gv)" opacity="0.26"/><rect x="211.45" y="118" width="5.1" height="34" fill="url(#gv)" opacity="0.26"/><ellipse cx="353" cy="81" rx="9.5" ry="8.5" fill="url(#gr)" opacity="0.6"/><rect x="343" y="85" width="20" height="2" fill="#ff0" opacity="0.4"/><ellipse cx="344" cy="105" rx="3" ry="2.5" fill="url(#gr)" opacity="0.6"/><rect x="355.7" y="104" width="6.6" height="46" fill="url(#gv)" opacity="0.65"/><ellipse cx="359.5" cy="117" rx="4" ry="5" fill="url(#gr)" opacity="0.98"/><rect x="350.2" y="84" width="3.6" height="34" fill="url(#gv)" opacity="0.28"/><rect x="373.45" y="77" width="4.1" height="73" fill="url(#gv)" opacity="0.83"/><ellipse cx="376" cy="108" rx="3" ry="6.5" fill="url(#gr)" opacity="0.68"/><rect x="374" y="78.75" width="7" height="1.5" fill="#ff0" opacity="0.64"/><rect x="374" y="87.9" width="7" height="1.2" fill="#ff0" opacity="0.4"/><rect x="383" y="112" width="49" height="20" fill="#ff0" opacity="0.08"/><rect x="420" y="86.7" width="54" height="1.6" fill="#ff0" opacity="0.32"/><rect x="430.7" y="100" width="4.6" height="48" fill="url(#gv)" opacity="0.61"/><ellipse cx="433.5" cy="120" rx="3.5" ry="4.5" fill="url(#gr)" opacity="0.9"/><rect x="445.45" y="74" width="5.1" height="78" fill="url(#gv)" opacity="0.74"/><ellipse cx="448" cy="86" rx="4" ry="3.5" fill="url(#gr)" opacity="0.52"/><ellipse cx="447.5" cy="121.5" rx="5" ry="4.5" fill="url(#gr)" opacity="0.98"/><rect x="444" y="74.9" width="8" height="1.2" fill="#ff0" opacity="0.4"/><ellipse cx="458.6" cy="120.5" rx="4" ry="4" fill="url(#gr)" opacity="0.98"/><rect x="456.45" y="84" width="4.1" height="66" fill="url(#gv)" opacity="0.41"/><ellipse cx="459" cy="87" rx="3" ry="2.5" fill="url(#gr)" opacity="0.38"/><rect x="466.95" y="80" width="5.1" height="70" fill="url(#gv)" opacity="0.61"/><ellipse cx="469.5" cy="120" rx="4" ry="4" fill="url(#gr)" opacity="0.98"/><ellipse cx="469" cy="87" rx="3" ry="2.5" fill="url(#gr)" opacity="0.38"/><rect x="476.2" y="58" width="2.6" height="82" fill="url(#gv)" opacity="0.56"/><path d="M476.9 68 L479.3 68 L489.2 140 L473.2 140 Z" fill="url(#gt)" opacity="0.8"/><rect x="477.4" y="82" width="4.2" height="34" fill="url(#gv)" opacity="0.98"/><ellipse cx="479.5" cy="98" rx="3.1" ry="14.5" fill="url(#gr)" opacity="0.6"/><rect x="475.7" y="128" width="4.6" height="24" fill="url(#gv)" opacity="0.46"/><path d="M492.4 71 L494.8 71 L501.2 130 L490.2 130 Z" fill="url(#gt)" opacity="0.77"/><rect x="492.7" y="92" width="3.6" height="26" fill="url(#gv)" opacity="0.83"/><rect x="502.7" y="80" width="2.6" height="24" fill="url(#gv)" opacity="0.37"/><rect x="485.2" y="120" width="3.6" height="32" fill="url(#gv)" opacity="0.26"/><rect x="495.2" y="126" width="3.6" height="26" fill="url(#gv)" opacity="0.26"/><rect x="513.1" y="71" width="4.8" height="75" fill="url(#gv)" opacity="0.49"/><ellipse cx="515.5" cy="85" rx="4.3" ry="3.5" fill="url(#gr)" opacity="0.62"/><ellipse cx="515.5" cy="115" rx="4.5" ry="6.5" fill="url(#gr)" opacity="0.74"/><rect x="513" y="75.4" width="5" height="1.2" fill="#ff0" opacity="0.4"/><rect x="523.1" y="71" width="4.8" height="75" fill="url(#gv)" opacity="0.53"/><ellipse cx="525.5" cy="85" rx="4.3" ry="3.5" fill="url(#gr)" opacity="0.67"/><ellipse cx="525.5" cy="115" rx="4.5" ry="6.5" fill="url(#gr)" opacity="0.81"/><rect x="523" y="75.4" width="5" height="1.2" fill="#ff0" opacity="0.43"/><rect x="533.6" y="71" width="4.8" height="75" fill="url(#gv)" opacity="0.58"/><ellipse cx="536" cy="85" rx="4.3" ry="3.5" fill="url(#gr)" opacity="0.73"/><ellipse cx="536" cy="115" rx="4.5" ry="6.5" fill="url(#gr)" opacity="0.88"/><rect x="533.5" y="75.4" width="5" height="1.2" fill="#ff0" opacity="0.47"/><rect x="543.1" y="71" width="4.8" height="75" fill="url(#gv)" opacity="0.58"/><ellipse cx="545.5" cy="85" rx="4.3" ry="3.5" fill="url(#gr)" opacity="0.73"/><ellipse cx="545.5" cy="115" rx="4.5" ry="6.5" fill="url(#gr)" opacity="0.88"/><rect x="543" y="75.4" width="5" height="1.2" fill="#ff0" opacity="0.47"/><rect x="553.1" y="71" width="4.8" height="75" fill="url(#gv)" opacity="0.53"/><ellipse cx="555.5" cy="85" rx="4.3" ry="3.5" fill="url(#gr)" opacity="0.67"/><ellipse cx="555.5" cy="115" rx="4.5" ry="6.5" fill="url(#gr)" opacity="0.81"/><rect x="553" y="75.4" width="5" height="1.2" fill="#ff0" opacity="0.43"/><rect x="563.1" y="71" width="4.8" height="75" fill="url(#gv)" opacity="0.49"/><ellipse cx="565.5" cy="85" rx="4.3" ry="3.5" fill="url(#gr)" opacity="0.62"/><ellipse cx="565.5" cy="115" rx="4.5" ry="6.5" fill="url(#gr)" opacity="0.74"/><rect x="563" y="75.4" width="5" height="1.2" fill="#ff0" opacity="0.4"/><rect x="572.6" y="71" width="4.8" height="75" fill="url(#gv)" opacity="0.49"/><ellipse cx="575" cy="85" rx="4.3" ry="3.5" fill="url(#gr)" opacity="0.62"/><ellipse cx="575" cy="115" rx="4.5" ry="6.5" fill="url(#gr)" opacity="0.74"/><rect x="572.5" y="75.4" width="5" height="1.2" fill="#ff0" opacity="0.4"/><rect x="582.6" y="71" width="4.8" height="75" fill="url(#gv)" opacity="0.44"/><ellipse cx="585" cy="85" rx="4.3" ry="3.5" fill="url(#gr)" opacity="0.56"/><ellipse cx="585" cy="115" rx="4.5" ry="6.5" fill="url(#gr)" opacity="0.68"/><rect x="582.5" y="75.4" width="5" height="1.2" fill="#ff0" opacity="0.36"/><rect x="593.6" y="71" width="4.8" height="75" fill="url(#gv)" opacity="0.4"/><ellipse cx="596" cy="85" rx="4.3" ry="3.5" fill="url(#gr)" opacity="0.51"/><ellipse cx="596" cy="115" rx="4.5" ry="6.5" fill="url(#gr)" opacity="0.61"/><rect x="593.5" y="75.4" width="5" height="1.2" fill="#ff0" opacity="0.32"/><rect x="604.2" y="71" width="4.8" height="75" fill="url(#gv)" opacity="0.4"/><ellipse cx="606.6" cy="85" rx="4.3" ry="3.5" fill="url(#gr)" opacity="0.51"/><ellipse cx="606.6" cy="115" rx="4.5" ry="6.5" fill="url(#gr)" opacity="0.61"/><rect x="604.1" y="75.4" width="5" height="1.2" fill="#ff0" opacity="0.32"/><rect x="613.6" y="71" width="4.8" height="75" fill="url(#gv)" opacity="0.31"/><ellipse cx="616" cy="85" rx="4.3" ry="3.5" fill="url(#gr)" opacity="0.39"/><ellipse cx="616" cy="115" rx="4.5" ry="6.5" fill="url(#gr)" opacity="0.47"/><rect x="613.5" y="75.4" width="5" height="1.2" fill="#ff0" opacity="0.25"/><rect x="512" y="83.25" width="100" height="3.5" fill="#ff0" opacity="0.32"/><rect x="512" y="111.5" width="88" height="5" fill="#ff0" opacity="0.22"/><ellipse cx="525.5" cy="112.5" rx="3.3" ry="3.1" fill="url(#gr)" opacity="0.98"/><ellipse cx="536" cy="112.5" rx="3.3" ry="3.1" fill="url(#gr)" opacity="0.98"/><ellipse cx="545.5" cy="112.5" rx="3.3" ry="3.1" fill="url(#gr)" opacity="0.98"/><ellipse cx="555.5" cy="112.5" rx="3.3" ry="3.1" fill="url(#gr)" opacity="0.98"/><ellipse cx="575" cy="112.5" rx="3.3" ry="3.1" fill="url(#gr)" opacity="0.98"/><ellipse cx="515.5" cy="123" rx="3.5" ry="3.5" fill="url(#gr)" opacity="0.52"/><ellipse cx="525.5" cy="122" rx="3.5" ry="3.5" fill="url(#gr)" opacity="0.6"/><rect x="628.45" y="71" width="3.1" height="26" fill="url(#gv)" opacity="0.46"/><rect x="648" y="47" width="9" height="25" fill="#ff0" opacity="0.24"/><rect x="647" y="70" width="37" height="51" fill="#ff0" opacity="0.68"/><rect x="649" y="72" width="29" height="46" fill="#ff0" opacity="0.18"/><rect x="679" y="70" width="7" height="8" fill="#000" opacity="0.5"/><ellipse cx="656" cy="85.5" rx="6.5" ry="4.5" fill="url(#gr)" opacity="0.98"/><rect x="650" y="75" width="30" height="2" fill="#ff0" opacity="0.4"/><rect x="650" y="80.25" width="32" height="1.5" fill="#ff0" opacity="0.32"/><ellipse cx="655" cy="105" rx="5.5" ry="4" fill="url(#gr)" opacity="0.98"/><ellipse cx="672" cy="105" rx="7.5" ry="2.9" fill="url(#gr)" opacity="0.83"/><ellipse cx="654" cy="116.5" rx="7.5" ry="3.1" fill="url(#gr)" opacity="0.98"/><rect x="648.2" y="118" width="9.6" height="36" fill="#ff0" opacity="0.56"/><rect x="693.7" y="71" width="4.6" height="69" fill="url(#gv)" opacity="0.48"/><ellipse cx="696" cy="105" rx="4.1" ry="3.9" fill="url(#gr)" opacity="0.6"/><rect x="704.7" y="70" width="4.6" height="70" fill="url(#gv)" opacity="0.56"/><ellipse cx="707" cy="104.5" rx="4.1" ry="3.9" fill="url(#gr)" opacity="0.98"/><rect x="716.7" y="90" width="4.6" height="50" fill="url(#gv)" opacity="0.19"/><ellipse cx="719" cy="105" rx="4.1" ry="3.9" fill="url(#gr)" opacity="0.33"/><rect x="727.7" y="72" width="4.6" height="68" fill="url(#gv)" opacity="0.33"/><ellipse cx="730" cy="105" rx="4.1" ry="3.9" fill="url(#gr)" opacity="0.63"/><rect x="737.7" y="72" width="4.6" height="68" fill="url(#gv)" opacity="0.33"/><ellipse cx="740" cy="105" rx="4.1" ry="3.9" fill="url(#gr)" opacity="0.63"/><rect x="751.2" y="80" width="4.6" height="60" fill="url(#gv)" opacity="0.22"/><ellipse cx="753.5" cy="105" rx="4.1" ry="3.9" fill="url(#gr)" opacity="0.45"/><rect x="761.7" y="68" width="4.6" height="72" fill="url(#gv)" opacity="0.44"/><ellipse cx="764" cy="104" rx="4.1" ry="3.9" fill="url(#gr)" opacity="0.68"/><rect x="772.7" y="72" width="4.6" height="68" fill="url(#gv)" opacity="0.33"/><ellipse cx="775" cy="104.5" rx="4.1" ry="3.9" fill="url(#gr)" opacity="0.54"/><ellipse cx="764" cy="83" rx="4" ry="2" fill="url(#gr)" opacity="0.6"/><ellipse cx="775" cy="83" rx="3.5" ry="2" fill="url(#gr)" opacity="0.38"/><ellipse cx="696" cy="84" rx="3" ry="3.5" fill="url(#gr)" opacity="0.38"/><ellipse cx="707" cy="84" rx="3" ry="3" fill="url(#gr)" opacity="0.38"/><rect x="690" y="103" width="100" height="4" fill="#ff0" opacity="0.16"/><ellipse class="x" cx="240" cy="94.8" rx="9" ry="4.5" fill="url(#hr)" opacity="0.93"/><ellipse class="x" cx="359.5" cy="117" rx="5" ry="5.5" fill="url(#hr)" opacity="0.9"/><ellipse class="x" cx="376" cy="109" rx="3.8" ry="6.5" fill="url(#hr)" opacity="0.8"/><ellipse class="x" cx="433.5" cy="120" rx="4.4" ry="4.9" fill="url(#hr)" opacity="0.88"/><ellipse class="x" cx="447.5" cy="121.5" rx="6" ry="4.5" fill="url(#hr)" opacity="0.92"/><ellipse class="x" cx="458.6" cy="120.5" rx="5" ry="4.5" fill="url(#hr)" opacity="0.9"/><ellipse class="x" cx="469.5" cy="120" rx="5" ry="4.5" fill="url(#hr)" opacity="0.9"/><rect class="x" x="477.2" y="83.4" width="5" height="33.2" fill="url(#hv)" opacity="0.85"/><ellipse class="x" cx="479.5" cy="128" rx="4" ry="6.5" fill="url(#hr)" opacity="0.8"/><rect class="x" x="493.2" y="93.4" width="4.4" height="25.2" fill="url(#hv)" opacity="1"/><ellipse class="x" cx="515.5" cy="115.5" rx="4.7" ry="4.2" fill="url(#hr)" opacity="0.88"/><ellipse class="x" cx="525.5" cy="112.5" rx="4.7" ry="4.2" fill="url(#hr)" opacity="0.88"/><ellipse class="x" cx="536" cy="113" rx="4.7" ry="4.2" fill="url(#hr)" opacity="0.88"/><ellipse class="x" cx="545.5" cy="113" rx="4.7" ry="4.2" fill="url(#hr)" opacity="0.88"/><ellipse class="x" cx="555.5" cy="113.5" rx="4.7" ry="4.2" fill="url(#hr)" opacity="0.88"/><ellipse class="x" cx="565.5" cy="115" rx="4.7" ry="4.2" fill="url(#hr)" opacity="0.88"/><ellipse class="x" cx="575" cy="116" rx="4.7" ry="4.2" fill="url(#hr)" opacity="0.88"/><ellipse class="x" cx="525.5" cy="122" rx="4.5" ry="4" fill="url(#hr)" opacity="0.8"/><ellipse class="x" cx="515.5" cy="123" rx="4.5" ry="4" fill="url(#hr)" opacity="0.75"/><ellipse class="x" cx="656" cy="85.5" rx="8.5" ry="5.3" fill="url(#hr)" opacity="0.97"/><ellipse class="x" cx="655" cy="105" rx="7.6" ry="5.1" fill="url(#hr)" opacity="0.97"/><ellipse class="x" cx="672" cy="105" rx="10" ry="4.1" fill="url(#hr)" opacity="0.9"/><ellipse class="x" cx="654.5" cy="116.5" rx="10" ry="4.4" fill="url(#hr)" opacity="0.96"/><rect class="x" x="649.4" y="74.8" width="27.2" height="3.2" fill="#00f" opacity="0.86"/><rect class="x" x="649.4" y="79.4" width="21.2" height="2.7" fill="#00f" opacity="0.78"/><ellipse class="x" cx="668" cy="92" rx="9" ry="3.5" fill="url(#hr)" opacity="0.8"/><ellipse class="x" cx="664" cy="98" rx="8" ry="3.3" fill="url(#hr)" opacity="0.78"/><ellipse class="x" cx="707" cy="104.5" rx="5.5" ry="4" fill="url(#hr)" opacity="0.88"/><ellipse class="x" cx="696" cy="105" rx="4.5" ry="3.5" fill="url(#hr)" opacity="0.75"/><ellipse class="x" cx="730" cy="105" rx="4.5" ry="3.5" fill="url(#hr)" opacity="0.7"/></g></g>
<g filter="url(#f5c)"><rect x="1198" y="44.8" width="139" height="114.2" fill="#000"/><g transform="translate(690.7 0.5)"><rect x="162" y="47" width="649" height="107" fill="#ff0" opacity="0.13"/><rect x="162" y="100" width="649" height="28" fill="url(#gd)" opacity="0.2"/><rect x="162" y="128" width="649" height="25" fill="#ff0" opacity="0.21"/><rect x="162" y="130.6" width="643" height="1.8" fill="#ff0" opacity="0.27"/><rect x="162" y="138.2" width="643" height="2.6" fill="#ff0" opacity="0.21"/><rect x="162" y="144.75" width="638" height="6.5" fill="#ff0" opacity="0.22"/><rect x="162" y="134" width="649" height="2.5" fill="#000" opacity="0.5"/><rect x="162" y="152.3" width="649" height="1.7" fill="#000" opacity="0.6"/><rect x="797" y="47" width="14" height="107" fill="url(#kri)" opacity="0.6"/><rect x="172.7" y="80" width="4.6" height="72" fill="url(#gv)" opacity="0.56"/><ellipse cx="175" cy="91" rx="4.5" ry="3.5" fill="url(#gr)" opacity="0.45"/><ellipse cx="189" cy="91" rx="3.5" ry="2.5" fill="url(#gr)" opacity="0.3"/><ellipse cx="202.5" cy="90" rx="3" ry="3.5" fill="url(#gr)" opacity="0.27"/><rect x="183.2" y="110" width="5.6" height="42" fill="url(#gv)" opacity="0.26"/><rect x="196.7" y="118" width="4.6" height="34" fill="url(#gv)" opacity="0.22"/><ellipse cx="244" cy="86" rx="24.5" ry="17.5" fill="url(#gr)" opacity="0.39"/><ellipse cx="240" cy="87" rx="12.5" ry="13.5" fill="url(#gr)" opacity="0.45"/><ellipse cx="240" cy="94.5" rx="8" ry="3.5" fill="url(#gr)" opacity="0.98"/><ellipse cx="238" cy="80" rx="3.5" ry="3.5" fill="url(#gr)" opacity="0.38"/><rect x="218" y="82.25" width="8" height="1.5" fill="#ff0" opacity="0.56"/><rect x="226.45" y="72" width="3.1" height="28" fill="url(#gv)" opacity="0.46"/><rect x="254.45" y="70" width="3.1" height="33" fill="url(#gv)" opacity="0.65"/><rect x="264.2" y="72" width="3.6" height="33" fill="url(#gv)" opacity="0.56"/><rect x="238.7" y="98" width="4.6" height="37" fill="url(#gv)" opacity="0.28"/><rect x="270" y="80.25" width="30" height="1.5" fill="#ff0" opacity="0.24"/><rect x="270" y="88.5" width="30" height="2" fill="#ff0" opacity="0.32"/><ellipse cx="277" cy="91" rx="3.5" ry="3" fill="url(#gr)" opacity="0.45"/><ellipse cx="290" cy="87" rx="3.5" ry="3.5" fill="url(#gr)" opacity="0.45"/><rect x="315.95" y="71" width="3.1" height="21" fill="url(#gv)" opacity="0.56"/><rect x="313" y="79.25" width="10" height="1.5" fill="#ff0" opacity="0.4"/><rect x="273.45" y="118" width="5.1" height="34" fill="url(#gv)" opacity="0.37"/><rect x="283.45" y="108" width="5.1" height="44" fill="url(#gv)" opacity="0.56"/><rect x="292.45" y="112" width="5.1" height="40" fill="url(#gv)" opacity="0.41"/><rect x="306.45" y="104" width="5.1" height="48" fill="url(#gv)" opacity="0.52"/><rect x="316.45" y="110" width="5.1" height="42" fill="url(#gv)" opacity="0.52"/><rect x="327.45" y="118" width="5.1" height="34" fill="url(#gv)" opacity="0.28"/><rect x="247.45" y="116" width="5.1" height="36" fill="url(#gv)" opacity="0.26"/><rect x="260.45" y="120" width="5.1" height="32" fill="url(#gv)" opacity="0.26"/><rect x="211.45" y="118" width="5.1" height="34" fill="url(#gv)" opacity="0.26"/><ellipse cx="353" cy="81" rx="9.5" ry="8.5" fill="url(#gr)" opacity="0.6"/><rect x="343" y="85" width="20" height="2" fill="#ff0" opacity="0.4"/><ellipse cx="344" cy="105" rx="3" ry="2.5" fill="url(#gr)" opacity="0.6"/><rect x="355.7" y="104" width="6.6" height="46" fill="url(#gv)" opacity="0.65"/><ellipse cx="359.5" cy="117" rx="4" ry="5" fill="url(#gr)" opacity="0.98"/><rect x="350.2" y="84" width="3.6" height="34" fill="url(#gv)" opacity="0.28"/><rect x="373.45" y="77" width="4.1" height="73" fill="url(#gv)" opacity="0.83"/><ellipse cx="376" cy="108" rx="3" ry="6.5" fill="url(#gr)" opacity="0.68"/><rect x="374" y="78.75" width="7" height="1.5" fill="#ff0" opacity="0.64"/><rect x="374" y="87.9" width="7" height="1.2" fill="#ff0" opacity="0.4"/><rect x="383" y="112" width="49" height="20" fill="#ff0" opacity="0.08"/><rect x="420" y="86.7" width="54" height="1.6" fill="#ff0" opacity="0.32"/><rect x="430.7" y="100" width="4.6" height="48" fill="url(#gv)" opacity="0.61"/><ellipse cx="433.5" cy="120" rx="3.5" ry="4.5" fill="url(#gr)" opacity="0.9"/><rect x="445.45" y="74" width="5.1" height="78" fill="url(#gv)" opacity="0.74"/><ellipse cx="448" cy="86" rx="4" ry="3.5" fill="url(#gr)" opacity="0.52"/><ellipse cx="447.5" cy="121.5" rx="5" ry="4.5" fill="url(#gr)" opacity="0.98"/><rect x="444" y="74.9" width="8" height="1.2" fill="#ff0" opacity="0.4"/><ellipse cx="458.6" cy="120.5" rx="4" ry="4" fill="url(#gr)" opacity="0.98"/><rect x="456.45" y="84" width="4.1" height="66" fill="url(#gv)" opacity="0.41"/><ellipse cx="459" cy="87" rx="3" ry="2.5" fill="url(#gr)" opacity="0.38"/><rect x="466.95" y="80" width="5.1" height="70" fill="url(#gv)" opacity="0.61"/><ellipse cx="469.5" cy="120" rx="4" ry="4" fill="url(#gr)" opacity="0.98"/><ellipse cx="469" cy="87" rx="3" ry="2.5" fill="url(#gr)" opacity="0.38"/><rect x="476.2" y="58" width="2.6" height="82" fill="url(#gv)" opacity="0.56"/><path d="M476.9 68 L479.3 68 L489.2 140 L473.2 140 Z" fill="url(#gt)" opacity="0.8"/><rect x="477.4" y="82" width="4.2" height="34" fill="url(#gv)" opacity="0.98"/><ellipse cx="479.5" cy="98" rx="3.1" ry="14.5" fill="url(#gr)" opacity="0.6"/><rect x="475.7" y="128" width="4.6" height="24" fill="url(#gv)" opacity="0.46"/><path d="M492.4 71 L494.8 71 L501.2 130 L490.2 130 Z" fill="url(#gt)" opacity="0.77"/><rect x="492.7" y="92" width="3.6" height="26" fill="url(#gv)" opacity="0.83"/><rect x="502.7" y="80" width="2.6" height="24" fill="url(#gv)" opacity="0.37"/><rect x="485.2" y="120" width="3.6" height="32" fill="url(#gv)" opacity="0.26"/><rect x="495.2" y="126" width="3.6" height="26" fill="url(#gv)" opacity="0.26"/><rect x="513.1" y="71" width="4.8" height="75" fill="url(#gv)" opacity="0.49"/><ellipse cx="515.5" cy="85" rx="4.3" ry="3.5" fill="url(#gr)" opacity="0.62"/><ellipse cx="515.5" cy="115" rx="4.5" ry="6.5" fill="url(#gr)" opacity="0.74"/><rect x="513" y="75.4" width="5" height="1.2" fill="#ff0" opacity="0.4"/><rect x="523.1" y="71" width="4.8" height="75" fill="url(#gv)" opacity="0.53"/><ellipse cx="525.5" cy="85" rx="4.3" ry="3.5" fill="url(#gr)" opacity="0.67"/><ellipse cx="525.5" cy="115" rx="4.5" ry="6.5" fill="url(#gr)" opacity="0.81"/><rect x="523" y="75.4" width="5" height="1.2" fill="#ff0" opacity="0.43"/><rect x="533.6" y="71" width="4.8" height="75" fill="url(#gv)" opacity="0.58"/><ellipse cx="536" cy="85" rx="4.3" ry="3.5" fill="url(#gr)" opacity="0.73"/><ellipse cx="536" cy="115" rx="4.5" ry="6.5" fill="url(#gr)" opacity="0.88"/><rect x="533.5" y="75.4" width="5" height="1.2" fill="#ff0" opacity="0.47"/><rect x="543.1" y="71" width="4.8" height="75" fill="url(#gv)" opacity="0.58"/><ellipse cx="545.5" cy="85" rx="4.3" ry="3.5" fill="url(#gr)" opacity="0.73"/><ellipse cx="545.5" cy="115" rx="4.5" ry="6.5" fill="url(#gr)" opacity="0.88"/><rect x="543" y="75.4" width="5" height="1.2" fill="#ff0" opacity="0.47"/><rect x="553.1" y="71" width="4.8" height="75" fill="url(#gv)" opacity="0.53"/><ellipse cx="555.5" cy="85" rx="4.3" ry="3.5" fill="url(#gr)" opacity="0.67"/><ellipse cx="555.5" cy="115" rx="4.5" ry="6.5" fill="url(#gr)" opacity="0.81"/><rect x="553" y="75.4" width="5" height="1.2" fill="#ff0" opacity="0.43"/><rect x="563.1" y="71" width="4.8" height="75" fill="url(#gv)" opacity="0.49"/><ellipse cx="565.5" cy="85" rx="4.3" ry="3.5" fill="url(#gr)" opacity="0.62"/><ellipse cx="565.5" cy="115" rx="4.5" ry="6.5" fill="url(#gr)" opacity="0.74"/><rect x="563" y="75.4" width="5" height="1.2" fill="#ff0" opacity="0.4"/><rect x="572.6" y="71" width="4.8" height="75" fill="url(#gv)" opacity="0.49"/><ellipse cx="575" cy="85" rx="4.3" ry="3.5" fill="url(#gr)" opacity="0.62"/><ellipse cx="575" cy="115" rx="4.5" ry="6.5" fill="url(#gr)" opacity="0.74"/><rect x="572.5" y="75.4" width="5" height="1.2" fill="#ff0" opacity="0.4"/><rect x="582.6" y="71" width="4.8" height="75" fill="url(#gv)" opacity="0.44"/><ellipse cx="585" cy="85" rx="4.3" ry="3.5" fill="url(#gr)" opacity="0.56"/><ellipse cx="585" cy="115" rx="4.5" ry="6.5" fill="url(#gr)" opacity="0.68"/><rect x="582.5" y="75.4" width="5" height="1.2" fill="#ff0" opacity="0.36"/><rect x="593.6" y="71" width="4.8" height="75" fill="url(#gv)" opacity="0.4"/><ellipse cx="596" cy="85" rx="4.3" ry="3.5" fill="url(#gr)" opacity="0.51"/><ellipse cx="596" cy="115" rx="4.5" ry="6.5" fill="url(#gr)" opacity="0.61"/><rect x="593.5" y="75.4" width="5" height="1.2" fill="#ff0" opacity="0.32"/><rect x="604.2" y="71" width="4.8" height="75" fill="url(#gv)" opacity="0.4"/><ellipse cx="606.6" cy="85" rx="4.3" ry="3.5" fill="url(#gr)" opacity="0.51"/><ellipse cx="606.6" cy="115" rx="4.5" ry="6.5" fill="url(#gr)" opacity="0.61"/><rect x="604.1" y="75.4" width="5" height="1.2" fill="#ff0" opacity="0.32"/><rect x="613.6" y="71" width="4.8" height="75" fill="url(#gv)" opacity="0.31"/><ellipse cx="616" cy="85" rx="4.3" ry="3.5" fill="url(#gr)" opacity="0.39"/><ellipse cx="616" cy="115" rx="4.5" ry="6.5" fill="url(#gr)" opacity="0.47"/><rect x="613.5" y="75.4" width="5" height="1.2" fill="#ff0" opacity="0.25"/><rect x="512" y="83.25" width="100" height="3.5" fill="#ff0" opacity="0.32"/><rect x="512" y="111.5" width="88" height="5" fill="#ff0" opacity="0.22"/><ellipse cx="525.5" cy="112.5" rx="3.3" ry="3.1" fill="url(#gr)" opacity="0.98"/><ellipse cx="536" cy="112.5" rx="3.3" ry="3.1" fill="url(#gr)" opacity="0.98"/><ellipse cx="545.5" cy="112.5" rx="3.3" ry="3.1" fill="url(#gr)" opacity="0.98"/><ellipse cx="555.5" cy="112.5" rx="3.3" ry="3.1" fill="url(#gr)" opacity="0.98"/><ellipse cx="575" cy="112.5" rx="3.3" ry="3.1" fill="url(#gr)" opacity="0.98"/><ellipse cx="515.5" cy="123" rx="3.5" ry="3.5" fill="url(#gr)" opacity="0.52"/><ellipse cx="525.5" cy="122" rx="3.5" ry="3.5" fill="url(#gr)" opacity="0.6"/><rect x="628.45" y="71" width="3.1" height="26" fill="url(#gv)" opacity="0.46"/><rect x="648" y="47" width="9" height="25" fill="#ff0" opacity="0.24"/><rect x="647" y="70" width="37" height="51" fill="#ff0" opacity="0.68"/><rect x="649" y="72" width="29" height="46" fill="#ff0" opacity="0.18"/><rect x="679" y="70" width="7" height="8" fill="#000" opacity="0.5"/><ellipse cx="656" cy="85.5" rx="6.5" ry="4.5" fill="url(#gr)" opacity="0.98"/><rect x="650" y="75" width="30" height="2" fill="#ff0" opacity="0.4"/><rect x="650" y="80.25" width="32" height="1.5" fill="#ff0" opacity="0.32"/><ellipse cx="655" cy="105" rx="5.5" ry="4" fill="url(#gr)" opacity="0.98"/><ellipse cx="672" cy="105" rx="7.5" ry="2.9" fill="url(#gr)" opacity="0.83"/><ellipse cx="654" cy="116.5" rx="7.5" ry="3.1" fill="url(#gr)" opacity="0.98"/><rect x="648.2" y="118" width="9.6" height="36" fill="#ff0" opacity="0.56"/><rect x="693.7" y="71" width="4.6" height="69" fill="url(#gv)" opacity="0.48"/><ellipse cx="696" cy="105" rx="4.1" ry="3.9" fill="url(#gr)" opacity="0.6"/><rect x="704.7" y="70" width="4.6" height="70" fill="url(#gv)" opacity="0.56"/><ellipse cx="707" cy="104.5" rx="4.1" ry="3.9" fill="url(#gr)" opacity="0.98"/><rect x="716.7" y="90" width="4.6" height="50" fill="url(#gv)" opacity="0.19"/><ellipse cx="719" cy="105" rx="4.1" ry="3.9" fill="url(#gr)" opacity="0.33"/><rect x="727.7" y="72" width="4.6" height="68" fill="url(#gv)" opacity="0.33"/><ellipse cx="730" cy="105" rx="4.1" ry="3.9" fill="url(#gr)" opacity="0.63"/><rect x="737.7" y="72" width="4.6" height="68" fill="url(#gv)" opacity="0.33"/><ellipse cx="740" cy="105" rx="4.1" ry="3.9" fill="url(#gr)" opacity="0.63"/><rect x="751.2" y="80" width="4.6" height="60" fill="url(#gv)" opacity="0.22"/><ellipse cx="753.5" cy="105" rx="4.1" ry="3.9" fill="url(#gr)" opacity="0.45"/><rect x="761.7" y="68" width="4.6" height="72" fill="url(#gv)" opacity="0.44"/><ellipse cx="764" cy="104" rx="4.1" ry="3.9" fill="url(#gr)" opacity="0.68"/><rect x="772.7" y="72" width="4.6" height="68" fill="url(#gv)" opacity="0.33"/><ellipse cx="775" cy="104.5" rx="4.1" ry="3.9" fill="url(#gr)" opacity="0.54"/><ellipse cx="764" cy="83" rx="4" ry="2" fill="url(#gr)" opacity="0.6"/><ellipse cx="775" cy="83" rx="3.5" ry="2" fill="url(#gr)" opacity="0.38"/><ellipse cx="696" cy="84" rx="3" ry="3.5" fill="url(#gr)" opacity="0.38"/><ellipse cx="707" cy="84" rx="3" ry="3" fill="url(#gr)" opacity="0.38"/><rect x="690" y="103" width="100" height="4" fill="#ff0" opacity="0.16"/><ellipse class="x" cx="240" cy="94.8" rx="9" ry="4.5" fill="url(#hr)" opacity="0.93"/><ellipse class="x" cx="359.5" cy="117" rx="5" ry="5.5" fill="url(#hr)" opacity="0.9"/><ellipse class="x" cx="376" cy="109" rx="3.8" ry="6.5" fill="url(#hr)" opacity="0.8"/><ellipse class="x" cx="433.5" cy="120" rx="4.4" ry="4.9" fill="url(#hr)" opacity="0.88"/><ellipse class="x" cx="447.5" cy="121.5" rx="6" ry="4.5" fill="url(#hr)" opacity="0.92"/><ellipse class="x" cx="458.6" cy="120.5" rx="5" ry="4.5" fill="url(#hr)" opacity="0.9"/><ellipse class="x" cx="469.5" cy="120" rx="5" ry="4.5" fill="url(#hr)" opacity="0.9"/><rect class="x" x="477.2" y="83.4" width="5" height="33.2" fill="url(#hv)" opacity="0.85"/><ellipse class="x" cx="479.5" cy="128" rx="4" ry="6.5" fill="url(#hr)" opacity="0.8"/><rect class="x" x="493.2" y="93.4" width="4.4" height="25.2" fill="url(#hv)" opacity="1"/><ellipse class="x" cx="515.5" cy="115.5" rx="4.7" ry="4.2" fill="url(#hr)" opacity="0.88"/><ellipse class="x" cx="525.5" cy="112.5" rx="4.7" ry="4.2" fill="url(#hr)" opacity="0.88"/><ellipse class="x" cx="536" cy="113" rx="4.7" ry="4.2" fill="url(#hr)" opacity="0.88"/><ellipse class="x" cx="545.5" cy="113" rx="4.7" ry="4.2" fill="url(#hr)" opacity="0.88"/><ellipse class="x" cx="555.5" cy="113.5" rx="4.7" ry="4.2" fill="url(#hr)" opacity="0.88"/><ellipse class="x" cx="565.5" cy="115" rx="4.7" ry="4.2" fill="url(#hr)" opacity="0.88"/><ellipse class="x" cx="575" cy="116" rx="4.7" ry="4.2" fill="url(#hr)" opacity="0.88"/><ellipse class="x" cx="525.5" cy="122" rx="4.5" ry="4" fill="url(#hr)" opacity="0.8"/><ellipse class="x" cx="515.5" cy="123" rx="4.5" ry="4" fill="url(#hr)" opacity="0.75"/><ellipse class="x" cx="656" cy="85.5" rx="8.5" ry="5.3" fill="url(#hr)" opacity="0.97"/><ellipse class="x" cx="655" cy="105" rx="7.6" ry="5.1" fill="url(#hr)" opacity="0.97"/><ellipse class="x" cx="672" cy="105" rx="10" ry="4.1" fill="url(#hr)" opacity="0.9"/><ellipse class="x" cx="654.5" cy="116.5" rx="10" ry="4.4" fill="url(#hr)" opacity="0.96"/><rect class="x" x="649.4" y="74.8" width="27.2" height="3.2" fill="#00f" opacity="0.86"/><rect class="x" x="649.4" y="79.4" width="21.2" height="2.7" fill="#00f" opacity="0.78"/><ellipse class="x" cx="668" cy="92" rx="9" ry="3.5" fill="url(#hr)" opacity="0.8"/><ellipse class="x" cx="664" cy="98" rx="8" ry="3.3" fill="url(#hr)" opacity="0.78"/><ellipse class="x" cx="707" cy="104.5" rx="5.5" ry="4" fill="url(#hr)" opacity="0.88"/><ellipse class="x" cx="696" cy="105" rx="4.5" ry="3.5" fill="url(#hr)" opacity="0.75"/><ellipse class="x" cx="730" cy="105" rx="4.5" ry="3.5" fill="url(#hr)" opacity="0.7"/><rect x="642" y="47" width="13" height="107" fill="#000" opacity="0.9"/></g></g>
<g filter="url(#f4a)"><rect x="304" y="480.3" width="106.6" height="107.7" fill="#000"/><ellipse cx="318.7" cy="552" rx="2.8" ry="7.5" fill="url(#gr)" opacity="0.6"/><ellipse cx="333.2" cy="555" rx="3.8" ry="9" fill="url(#gr)" opacity="0.7"/><ellipse cx="333" cy="523" rx="1.6" ry="2.2" fill="url(#gr)" opacity="0.5"/><rect x="332.25" y="515" width="1.5" height="30" fill="url(#gv)" opacity="0.2"/><ellipse cx="344" cy="557" rx="2.8" ry="3.8" fill="url(#gr)" opacity="0.65"/><ellipse cx="355" cy="556" rx="3.8" ry="6.5" fill="url(#gr)" opacity="0.65"/><path d="M361.4 504 L363.8 504 L371.6 566 L358.6 566 Z" fill="url(#gt)" opacity="0.62"/><rect x="362.25" y="520" width="2.5" height="40" fill="url(#gv)" opacity="0.5"/><rect class="x" x="362.3" y="528" width="2" height="22" fill="url(#hv)" opacity="0.92"/><rect x="367" y="530" width="4" height="36" fill="url(#gv)" opacity="0.3"/><path d="M378.4 508 L380.8 508 L385.8 561 L376.8 561 Z" fill="url(#gt)" opacity="0.6"/><ellipse cx="401.3" cy="554" rx="3.8" ry="10" fill="url(#gr)" opacity="0.65"/><ellipse cx="401.3" cy="520.5" rx="1.8" ry="3.2" fill="url(#gr)" opacity="0.6"/><rect x="316" y="566.2" width="88" height="1.2" fill="#ff0" opacity="0.3"/><rect x="330" y="574.9" width="74" height="1.2" fill="#ff0" opacity="0.2"/><rect x="362.25" y="566" width="2.5" height="18" fill="url(#gv)" opacity="0.4"/></g>
<g filter="url(#f4c)"><rect x="342.5" y="581.3" width="278.8" height="119.7" fill="#000"/><rect x="358" y="626" width="254" height="42" fill="url(#gd)" opacity="0.5"/><rect x="352" y="664" width="260" height="34" fill="#ff0" opacity="0.62"/><rect x="436" y="628" width="69" height="22" fill="#ff0" opacity="0.18"/><rect x="350" y="687" width="260" height="8" fill="#ff0" opacity="0.3"/><rect x="340" y="580" width="18" height="120" fill="url(#ku)" opacity="0.7"/><rect x="611" y="580" width="9" height="120" fill="#000" opacity="0.9"/><path d="M362.6 592 L365 592 L367.9 676 L361.9 676 Z" fill="url(#gt)" opacity="0.85"/><rect x="362.5" y="613" width="3" height="59" fill="url(#gv)" opacity="0.6"/><rect class="x" x="362.7" y="634" width="2.6" height="34" fill="url(#hv)" opacity="0.92"/><path d="M380.4 592 L382.8 592 L386.4 676 L379.4 676 Z" fill="url(#gt)" opacity="0.85"/><rect x="380.3" y="613" width="3" height="59" fill="url(#gv)" opacity="0.65"/><rect class="x" x="380.5" y="634" width="2.6" height="34" fill="url(#hv)" opacity="0.92"/><path d="M398.9 593 L401.3 593 L404.2 676 L398.2 676 Z" fill="url(#gt)" opacity="0.85"/><rect x="398.8" y="613.75" width="3" height="58.25" fill="url(#gv)" opacity="0.6"/><rect class="x" x="399" y="634.5" width="2.6" height="33.5" fill="url(#hv)" opacity="0.92"/><path d="M411.4 591 L413.8 591 L416 676 L411 676 Z" fill="url(#gt)" opacity="0.85"/><rect x="411.3" y="612.25" width="3" height="59.75" fill="url(#gv)" opacity="0.55"/><rect class="x" x="411.5" y="633.5" width="2.6" height="34.5" fill="url(#hv)" opacity="0.92"/><path d="M414.7 591 L417.1 591 L419.3 676 L414.3 676 Z" fill="url(#gt)" opacity="0.8"/><rect x="414.6" y="612.25" width="3" height="59.75" fill="url(#gv)" opacity="0.5"/><rect class="x" x="414.8" y="633.5" width="2.6" height="34.5" fill="url(#hv)" opacity="0.92"/><path d="M419.5 602 L421.9 602 L424.1 676 L419.1 676 Z" fill="url(#gt)" opacity="0.8"/><rect x="419.4" y="620.5" width="3" height="51.5" fill="url(#gv)" opacity="0.5"/><rect class="x" x="419.6" y="639" width="2.6" height="29" fill="url(#hv)" opacity="0.92"/><path d="M423.9 604 L426.3 604 L428.5 676 L423.5 676 Z" fill="url(#gt)" opacity="0.8"/><rect x="423.8" y="622" width="3" height="50" fill="url(#gv)" opacity="0.5"/><rect class="x" x="424" y="640" width="2.6" height="28" fill="url(#hv)" opacity="0.92"/><path d="M430.9 592 L433.3 592 L436.2 676 L430.2 676 Z" fill="url(#gt)" opacity="0.85"/><rect x="430.8" y="613" width="3" height="59" fill="url(#gv)" opacity="0.6"/><rect class="x" x="431" y="634" width="2.6" height="34" fill="url(#hv)" opacity="0.92"/><path d="M482.6 607 L485 607 L487.2 676 L482.2 676 Z" fill="url(#gt)" opacity="0.78"/><rect x="482.5" y="624.25" width="3" height="47.75" fill="url(#gv)" opacity="0.45"/><rect class="x" x="482.7" y="641.5" width="2.6" height="26.5" fill="url(#hv)" opacity="0.92"/><path d="M493.9 624 L496.3 624 L498.5 676 L493.5 676 Z" fill="url(#gt)" opacity="0.72"/><rect x="493.8" y="637" width="3" height="35" fill="url(#gv)" opacity="0.4"/><path d="M502.6 602 L505 602 L507.2 676 L502.2 676 Z" fill="url(#gt)" opacity="0.82"/><rect x="502.5" y="620.5" width="3" height="51.5" fill="url(#gv)" opacity="0.55"/><rect class="x" x="502.7" y="639" width="2.6" height="29" fill="url(#hv)" opacity="0.92"/><path d="M520.1 594 L522.5 594 L525.4 676 L519.4 676 Z" fill="url(#gt)" opacity="0.5"/><rect x="520" y="614.5" width="3" height="57.5" fill="url(#gv)" opacity="0.3"/><path d="M528.9 604 L531.3 604 L534.2 676 L528.2 676 Z" fill="url(#gt)" opacity="0.8"/><rect x="528.8" y="622" width="3" height="50" fill="url(#gv)" opacity="0.5"/><rect class="x" x="529" y="640" width="2.6" height="28" fill="url(#hv)" opacity="0.92"/><path d="M538.9 596 L541.3 596 L543.5 676 L538.5 676 Z" fill="url(#gt)" opacity="0.8"/><rect x="538.8" y="616" width="3" height="56" fill="url(#gv)" opacity="0.5"/><rect class="x" x="539" y="636" width="2.6" height="32" fill="url(#hv)" opacity="0.92"/><path d="M545.9 600 L548.3 600 L551.2 676 L545.2 676 Z" fill="url(#gt)" opacity="0.5"/><rect x="545.8" y="619" width="3" height="53" fill="url(#gv)" opacity="0.3"/><path d="M552.9 610 L555.3 610 L558.9 676 L551.9 676 Z" fill="url(#gt)" opacity="0.7"/><rect x="552.8" y="626.5" width="3" height="45.5" fill="url(#gv)" opacity="0.45"/><rect class="x" x="553" y="643" width="2.6" height="25" fill="url(#hv)" opacity="0.92"/><path d="M564.5 600 L566.9 600 L569.1 676 L564.1 676 Z" fill="url(#gt)" opacity="0.8"/><rect x="564.4" y="619" width="3" height="53" fill="url(#gv)" opacity="0.45"/><rect class="x" x="564.6" y="638" width="2.6" height="30" fill="url(#hv)" opacity="0.92"/><path d="M570.9 612 L573.3 612 L576.2 676 L570.2 676 Z" fill="url(#gt)" opacity="0.8"/><rect x="570.8" y="628" width="3" height="44" fill="url(#gv)" opacity="0.5"/><rect class="x" x="571" y="644" width="2.6" height="24" fill="url(#hv)" opacity="0.92"/><path d="M583.9 608 L586.3 608 L589.2 676 L583.2 676 Z" fill="url(#gt)" opacity="0.76"/><rect x="583.8" y="625" width="3" height="47" fill="url(#gv)" opacity="0.3"/><path d="M596.4 602 L598.8 602 L601.7 676 L595.7 676 Z" fill="url(#gt)" opacity="0.76"/><rect x="596.3" y="620.5" width="3" height="51.5" fill="url(#gv)" opacity="0.3"/><path d="M607.9 614 L610.3 614 L611.8 676 L607.8 676 Z" fill="url(#gt)" opacity="0.6"/><rect x="465.7" y="600" width="6" height="40" fill="url(#gv)" opacity="0.22"/><rect x="519.5" y="592" width="7" height="38" fill="url(#gv)" opacity="0.2"/><rect x="546.5" y="598" width="9" height="32" fill="url(#gv)" opacity="0.2"/><rect x="507" y="600" width="4" height="50" fill="url(#gv)" opacity="0.16"/><ellipse cx="468.5" cy="650" rx="5" ry="5" fill="url(#gr)" opacity="0.5"/><rect x="411" y="632" width="25" height="40" fill="#ff0" opacity="0.45"/><rect x="362" y="667.9" width="138" height="2.2" fill="#ff0" opacity="0.5"/><ellipse class="x" cx="364" cy="660" rx="3.5" ry="3" fill="url(#hr)" opacity="0.9"/><ellipse class="x" cx="364" cy="669" rx="3.5" ry="2" fill="url(#hr)" opacity="0.85"/><ellipse class="x" cx="382.5" cy="660" rx="3.5" ry="4" fill="url(#hr)" opacity="0.9"/><ellipse class="x" cx="383" cy="669.5" rx="5" ry="2.5" fill="url(#hr)" opacity="0.9"/><ellipse class="x" cx="383" cy="636" rx="3" ry="5" fill="url(#hr)" opacity="0.85"/><ellipse class="x" cx="400.5" cy="660" rx="3.5" ry="4" fill="url(#hr)" opacity="0.92"/><ellipse class="x" cx="401" cy="669" rx="3" ry="2" fill="url(#hr)" opacity="0.9"/><ellipse class="x" cx="364" cy="640" rx="2.5" ry="10" fill="url(#hr)" opacity="0.85"/><ellipse class="x" cx="382" cy="648" rx="3" ry="8" fill="url(#hr)" opacity="0.88"/><ellipse class="x" cx="400" cy="645" rx="2.5" ry="10" fill="url(#hr)" opacity="0.88"/><ellipse class="x" cx="418" cy="652" rx="7" ry="3" fill="url(#hr)" opacity="0.9"/><ellipse class="x" cx="418" cy="636" rx="6" ry="3" fill="url(#hr)" opacity="0.88"/><ellipse class="x" cx="416" cy="644" rx="5" ry="3" fill="url(#hr)" opacity="0.88"/><ellipse class="x" cx="423" cy="660" rx="11" ry="3" fill="url(#hr)" opacity="0.97"/><ellipse class="x" cx="432.5" cy="655" rx="3" ry="9" fill="url(#hr)" opacity="0.92"/><ellipse class="x" cx="440" cy="668.5" rx="6" ry="1.8" fill="url(#hr)" opacity="0.88"/><ellipse class="x" cx="415" cy="668.5" rx="4" ry="2" fill="url(#hr)" opacity="0.9"/><ellipse class="x" cx="431" cy="669" rx="4" ry="2" fill="url(#hr)" opacity="0.9"/><ellipse class="x" cx="469" cy="658" rx="4" ry="3" fill="url(#hr)" opacity="0.9"/><ellipse class="x" cx="471" cy="668.3" rx="4.5" ry="2" fill="url(#hr)" opacity="0.97"/><ellipse class="x" cx="469" cy="674" rx="4" ry="3" fill="url(#hr)" opacity="0.85"/><ellipse class="x" cx="485" cy="654" rx="4" ry="3" fill="url(#hr)" opacity="0.88"/><ellipse class="x" cx="485.5" cy="660" rx="4" ry="3" fill="url(#hr)" opacity="0.9"/><ellipse class="x" cx="495" cy="660" rx="3.5" ry="3" fill="url(#hr)" opacity="0.92"/><ellipse class="x" cx="486" cy="668" rx="4" ry="2" fill="url(#hr)" opacity="0.85"/><ellipse class="x" cx="504.5" cy="655" rx="2.5" ry="8" fill="url(#hr)" opacity="0.92"/><ellipse class="x" cx="521.5" cy="659.5" rx="2.5" ry="3" fill="url(#hr)" opacity="0.93"/><ellipse class="x" cx="530.5" cy="659.5" rx="3.5" ry="3" fill="url(#hr)" opacity="0.98"/><ellipse class="x" cx="540.5" cy="659.5" rx="3" ry="3.5" fill="url(#hr)" opacity="0.98"/><ellipse class="x" cx="530" cy="636" rx="3" ry="4" fill="url(#hr)" opacity="0.9"/><ellipse class="x" cx="551" cy="636" rx="6" ry="4" fill="url(#hr)" opacity="0.9"/><ellipse class="x" cx="551" cy="656" rx="7" ry="5" fill="url(#hr)" opacity="0.9"/><ellipse class="x" cx="545" cy="660" rx="3" ry="3" fill="url(#hr)" opacity="0.92"/><ellipse class="x" cx="571" cy="636" rx="4.5" ry="4" fill="url(#hr)" opacity="0.88"/><ellipse class="x" cx="570" cy="655" rx="4.5" ry="5" fill="url(#hr)" opacity="0.9"/><ellipse class="x" cx="598" cy="636" rx="3" ry="4" fill="url(#hr)" opacity="0.8"/><ellipse class="x" cx="586" cy="640" rx="3" ry="4" fill="url(#hr)" opacity="0.75"/><ellipse class="x" cx="551" cy="676" rx="5" ry="3" fill="url(#hr)" opacity="0.85"/><ellipse class="x" cx="469.5" cy="689.5" rx="2.5" ry="2.5" fill="url(#hr)" opacity="0.88"/></g>
<g filter="url(#fD)"><rect x="1079.5" y="152" width="169.8" height="113" fill="#000"/><rect x="1086" y="157" width="158" height="23" fill="#ff0" opacity="0.05"/><rect x="1087" y="174" width="156" height="19" fill="url(#gd)" opacity="0.35"/><rect x="1087" y="176" width="38" height="17" fill="url(#gd)" opacity="0.35"/><rect x="1087" y="191" width="156" height="34" fill="#ff0" opacity="0.6"/><rect x="1087" y="191" width="35" height="34" fill="#ff0" opacity="0.25"/><rect x="1158" y="207.5" width="85" height="4.5" fill="#000" opacity="0.6"/><rect x="1124" y="209" width="32" height="2.5" fill="#000" opacity="0.35"/><rect x="1087" y="196.7" width="156" height="1.6" fill="#ff0" opacity="0.3"/><rect x="1087" y="201.7" width="156" height="1.6" fill="#ff0" opacity="0.3"/><rect x="1087" y="206.2" width="156" height="1.6" fill="#ff0" opacity="0.3"/><rect x="1087" y="212.7" width="156" height="1.6" fill="#ff0" opacity="0.35"/><rect x="1087" y="217.2" width="156" height="1.6" fill="#ff0" opacity="0.3"/><rect x="1087" y="221.2" width="156" height="1.6" fill="#ff0" opacity="0.3"/><rect x="1156" y="212.3" width="59" height="1.8" fill="#ff0" opacity="0.7"/><rect class="x" x="1156" y="212.5" width="29" height="1.5" fill="url(#hl)" opacity="0.98"/><rect x="1087" y="224.5" width="156" height="22.5" fill="#ff0" opacity="0.62"/><rect x="1088" y="226" width="144" height="20" fill="#ff0" opacity="0.74"/><rect class="x" x="1086" y="224.6" width="150" height="2.4" fill="#00f" opacity="1"/><ellipse class="x" cx="1092" cy="229" rx="4" ry="2.5" fill="url(#hr)" opacity="0.93"/><ellipse class="x" cx="1100" cy="236" rx="8" ry="2.5" fill="url(#hr)" opacity="0.9"/><ellipse class="x" cx="1118" cy="233" rx="9" ry="2.5" fill="url(#hr)" opacity="0.9"/><ellipse class="x" cx="1135" cy="236" rx="8" ry="3" fill="url(#hr)" opacity="0.9"/><ellipse class="x" cx="1147" cy="231" rx="5" ry="2" fill="url(#hr)" opacity="0.88"/><ellipse class="x" cx="1170" cy="235" rx="10" ry="3" fill="url(#hr)" opacity="0.92"/><ellipse class="x" cx="1190" cy="237" rx="10" ry="2.5" fill="url(#hr)" opacity="0.92"/><ellipse class="x" cx="1207" cy="236" rx="7" ry="3" fill="url(#hr)" opacity="0.92"/><ellipse class="x" cx="1223" cy="233" rx="5" ry="5" fill="url(#hr)" opacity="0.92"/><ellipse class="x" cx="1180" cy="229" rx="8" ry="1.5" fill="url(#hr)" opacity="0.88"/><ellipse class="x" cx="1112" cy="229" rx="8" ry="1.5" fill="url(#hr)" opacity="0.85"/><rect class="x" x="1089" y="242.6" width="61" height="2.6" fill="#00f" opacity="1"/><ellipse class="x" cx="1165" cy="243.5" rx="7" ry="1.5" fill="url(#hr)" opacity="0.88"/><ellipse class="x" cx="1195" cy="244" rx="10" ry="1.6" fill="url(#hr)" opacity="0.88"/><ellipse class="x" cx="1218" cy="243" rx="5" ry="2" fill="url(#hr)" opacity="0.9"/><rect x="1087" y="231" width="63" height="2.5" fill="#000" opacity="0.3"/><rect x="1160" y="239" width="72" height="3" fill="#000" opacity="0.3"/><rect x="1195" y="228" width="37" height="3" fill="#000" opacity="0.25"/><rect x="1089" y="242" width="61" height="3" fill="#ff0" opacity="0.6"/><rect x="1087" y="246.5" width="156" height="15.5" fill="#ff0" opacity="0.6"/><rect x="1087.2" y="155" width="3.2" height="107" fill="#ff0" opacity="0.65"/><rect x="1153.4" y="155" width="3.8" height="107" fill="#ff0" opacity="0.7"/><rect x="1153.5" y="186" width="3.6" height="76" fill="#ff0" opacity="0.85"/><rect x="1159.25" y="155" width="2.5" height="60" fill="#ff0" opacity="0.5"/><rect x="1161.5" y="155" width="2" height="30" fill="#ff0" opacity="0.4"/><rect class="x" x="1153.8" y="190" width="3.2" height="72" fill="#00f" opacity="1"/><ellipse class="x" cx="1155.5" cy="232" rx="2.8" ry="8" fill="url(#hr)" opacity="0.99"/><rect class="x" x="1214.8" y="224" width="3" height="38" fill="#00f" opacity="1"/><rect x="1197.45" y="155" width="2.5" height="17" fill="#ff0" opacity="0.6"/><rect x="1197.95" y="172" width="1.5" height="53" fill="#ff0" opacity="0.3"/><rect x="1214.8" y="155" width="3" height="107" fill="#ff0" opacity="0.65"/><rect x="1214.6" y="222" width="3.4" height="40" fill="#ff0" opacity="0.85"/><rect x="1225.05" y="160" width="2.5" height="65" fill="#ff0" opacity="0.55"/><rect x="1240.2" y="158" width="1.6" height="67" fill="#ff0" opacity="0.45"/><rect x="1101.4" y="158" width="1.2" height="20" fill="#ff0" opacity="0.3"/><rect x="1137.4" y="158" width="1.2" height="34" fill="#ff0" opacity="0.3"/><rect x="1180.25" y="180" width="1.5" height="35" fill="#ff0" opacity="0.35"/><rect x="1104" y="158" width="46" height="10" fill="#ff0" opacity="0.12"/><rect x="1160" y="158" width="36" height="12" fill="#ff0" opacity="0.14"/></g>
<g filter="url(#fE)"><rect x="1127" y="259" width="146" height="113.7" fill="#000"/><rect x="1136" y="316" width="60" height="32" fill="url(#gd)" opacity="0.32"/><rect x="1133" y="345" width="65" height="25" fill="#ff0" opacity="0.58"/><rect x="1136" y="345.75" width="44" height="2.5" fill="#ff0" opacity="0.4"/><rect x="1200" y="308" width="68" height="24" fill="url(#gd)" opacity="0.6"/><rect x="1200" y="331" width="68" height="39" fill="#ff0" opacity="0.64"/><rect x="1250" y="310" width="18" height="25" fill="#ff0" opacity="0.35"/><path d="M1131.9 262 L1134.3 262 L1137.9 370 L1130.9 370 Z" fill="url(#gt)" opacity="0.78"/><rect x="1131.3" y="270" width="4" height="82" fill="url(#gv)" opacity="0.9"/><path d="M1154.5 274 L1156.9 274 L1158.05 352 L1154.55 352 Z" fill="url(#gt)" opacity="0.55"/><path d="M1178.3 313 L1180.7 313 L1180.8 340 L1178.8 340 Z" fill="url(#gt)" opacity="0.45"/><path d="M1196.9 262 L1199.3 262 L1204.3 370 L1195.3 370 Z" fill="url(#gt)" opacity="0.78"/><rect x="1196.3" y="290" width="4" height="80" fill="url(#gv)" opacity="0.92"/><path d="M1221.4 272 L1223.8 272 L1226 370 L1221 370 Z" fill="url(#gt)" opacity="0.66"/><path d="M1226.9 262 L1229.3 262 L1232.2 370 L1226.2 370 Z" fill="url(#gt)" opacity="0.7"/><rect x="1226.3" y="320" width="4" height="42" fill="url(#gv)" opacity="0.7"/><path d="M1231.9 264 L1234.3 264 L1235.8 370 L1231.8 370 Z" fill="url(#gt)" opacity="0.64"/><path d="M1237.7 262 L1240.1 262 L1243 370 L1237 370 Z" fill="url(#gt)" opacity="0.7"/><rect x="1237.1" y="325" width="4" height="35" fill="url(#gv)" opacity="0.7"/><path d="M1247.7 262 L1250.1 262 L1255.8 370 L1245.8 370 Z" fill="url(#gt)" opacity="0.78"/><rect x="1247.1" y="280" width="4" height="90" fill="url(#gv)" opacity="0.92"/><rect class="x" x="1131.4" y="268" width="4.2" height="86" fill="url(#hv)" opacity="1"/><rect class="x" x="1196.3" y="290" width="4.4" height="84" fill="url(#hv)" opacity="1"/><rect class="x" x="1246.8" y="280" width="4.4" height="94" fill="url(#hv)" opacity="1"/><ellipse class="x" cx="1199.5" cy="338" rx="2.8" ry="9" fill="url(#hr)" opacity="0.97"/><ellipse class="x" cx="1250.5" cy="336" rx="4" ry="8" fill="url(#hr)" opacity="0.98"/><ellipse class="x" cx="1228.5" cy="334" rx="2.5" ry="5" fill="url(#hr)" opacity="0.9"/><ellipse class="x" cx="1238.5" cy="348" rx="2.5" ry="6" fill="url(#hr)" opacity="0.9"/><ellipse class="x" cx="1229" cy="354" rx="2.5" ry="5" fill="url(#hr)" opacity="0.88"/><ellipse class="x" cx="1222" cy="350" rx="2" ry="6" fill="url(#hr)" opacity="0.8"/></g>
<g filter="url(#fF)"><rect x="946.3" y="365.3" width="159.2" height="117.7" fill="#000"/><rect x="953" y="408.25" width="37" height="1.5" fill="#ff0" opacity="0.35"/><rect x="953" y="415.25" width="39" height="1.5" fill="#ff0" opacity="0.5"/><rect x="952" y="427.25" width="42" height="1.5" fill="#ff0" opacity="0.62"/><rect x="955" y="430.25" width="39" height="1.5" fill="#ff0" opacity="0.3"/><rect x="955" y="421.25" width="35" height="1.5" fill="#ff0" opacity="0.2"/><rect x="1000" y="407.75" width="25" height="1.5" fill="#ff0" opacity="0.6"/><rect x="1000" y="411.75" width="25" height="1.5" fill="#ff0" opacity="0.45"/><rect x="1000" y="415.25" width="24" height="1.5" fill="#ff0" opacity="0.55"/><rect x="1000" y="420.75" width="20" height="1.5" fill="#ff0" opacity="0.5"/><rect x="1000" y="427.25" width="26" height="1.5" fill="#ff0" opacity="0.65"/><rect x="1052" y="412.25" width="42" height="1.5" fill="#ff0" opacity="0.3"/><rect x="1052" y="417.75" width="44" height="1.5" fill="#ff0" opacity="0.35"/><rect x="1050" y="423.75" width="44" height="1.5" fill="#ff0" opacity="0.4"/><rect x="1052" y="427.75" width="44" height="1.5" fill="#ff0" opacity="0.45"/><rect x="1060" y="430.75" width="36" height="1.5" fill="#ff0" opacity="0.4"/><rect x="1055" y="437.75" width="37" height="1.5" fill="#ff0" opacity="0.45"/><rect x="1040" y="443.75" width="40" height="1.5" fill="#ff0" opacity="0.3"/><rect x="955" y="448" width="142" height="4" fill="#ff0" opacity="0.4"/><rect x="1027" y="457.2" width="63" height="3" fill="#ff0" opacity="0.4"/><rect x="962.2" y="404" width="3" height="76" fill="url(#gv)" opacity="0.35"/><ellipse cx="964.5" cy="437" rx="3.5" ry="4" fill="url(#gr)" opacity="0.5"/><rect x="981.25" y="402" width="5.5" height="78" fill="url(#gv)" opacity="0.6"/><ellipse cx="984" cy="425" rx="4" ry="12" fill="url(#gr)" opacity="0.4"/><rect x="1000" y="418" width="5" height="62" fill="url(#gv)" opacity="0.55"/><rect x="1020" y="404" width="2" height="36" fill="url(#gv)" opacity="0.3"/><rect x="1045.25" y="376" width="2.5" height="104" fill="url(#gv)" opacity="0.5"/><path d="M1044.9 392 L1047.3 392 L1052.3 452 L1043.3 452 Z" fill="url(#gt)" opacity="0.7"/><rect x="1044.25" y="440" width="4.5" height="40" fill="url(#gv)" opacity="0.55"/><rect x="1044.9" y="400" width="2.8" height="42" fill="url(#gv)" opacity="0.6"/><rect class="x" x="1045.2" y="402" width="2.2" height="34" fill="url(#hv)" opacity="0.94"/><rect x="1034" y="413" width="24" height="2" fill="#ff0" opacity="0.3"/><rect x="1032" y="418" width="28" height="2" fill="#ff0" opacity="0.35"/><rect x="1030" y="423" width="30" height="2" fill="#ff0" opacity="0.35"/><rect x="1030" y="429" width="32" height="2" fill="#ff0" opacity="0.4"/><rect x="1028" y="435" width="34" height="2" fill="#ff0" opacity="0.4"/><rect x="1028" y="440" width="32" height="2" fill="#ff0" opacity="0.35"/><rect x="1030" y="445" width="30" height="2" fill="#ff0" opacity="0.3"/><rect x="1072.25" y="398" width="5.5" height="80" fill="url(#gv)" opacity="0.65"/><ellipse cx="1076" cy="440" rx="5" ry="6" fill="url(#gr)" opacity="0.5"/><ellipse cx="1074" cy="415" rx="4" ry="8" fill="url(#gr)" opacity="0.3"/><rect x="955" y="452" width="140" height="26" fill="#ff0" opacity="0.12"/><rect x="960.5" y="452" width="3" height="28" fill="url(#gv)" opacity="0.28"/><rect x="970.5" y="452" width="3" height="28" fill="url(#gv)" opacity="0.28"/><rect x="981.5" y="452" width="3" height="28" fill="url(#gv)" opacity="0.28"/><rect x="999.5" y="452" width="3" height="28" fill="url(#gv)" opacity="0.28"/><rect x="1010.5" y="452" width="3" height="28" fill="url(#gv)" opacity="0.28"/><rect x="1045.5" y="452" width="3" height="28" fill="url(#gv)" opacity="0.28"/><rect x="1054.5" y="452" width="3" height="28" fill="url(#gv)" opacity="0.28"/><rect x="1073.5" y="452" width="3" height="28" fill="url(#gv)" opacity="0.28"/></g>
<g filter="url(#fG)"><rect x="1113" y="365.3" width="115" height="115.7" fill="#000"/><rect x="1120" y="370" width="103" height="108" fill="#ff0" opacity="0.28"/><rect x="1216" y="370" width="9" height="108" fill="url(#kri)" opacity="0.6"/><rect x="1116" y="370" width="12" height="108" fill="url(#kl)" opacity="0.5"/><path d="M1130 378 L1142 378 L1194 456 L1130 456 Z" fill="url(#gt)" opacity="0.5" filter="url(#sb)"/><path d="M1132 398 L1140 398 L1172 454 L1132 454 Z" fill="url(#gt)" opacity="0.4" filter="url(#sb3)"/><ellipse cx="1148" cy="436" rx="16" ry="20" fill="url(#gr)" opacity="0.25"/><path d="M1195 382 L1204 382 L1228 456 L1195 456 Z" fill="url(#gt)" opacity="0.52" filter="url(#sb)"/><ellipse cx="1205" cy="434" rx="9" ry="22" fill="url(#gr)" opacity="0.25"/><rect x="1120" y="370" width="103" height="30" fill="#ff0" opacity="0.08"/><rect x="1116" y="455" width="109" height="23" fill="url(#kd)" opacity="0.35"/><rect x="1131" y="437.25" width="51" height="3.5" fill="url(#gl)" opacity="0.7"/><rect x="1195" y="437.5" width="19" height="3" fill="#ff0" opacity="0.6"/><rect class="x" x="1131" y="437.5" width="44" height="3" fill="url(#hl)" opacity="1"/><rect class="x" x="1196" y="437.8" width="17" height="2.5" fill="#00f" opacity="0.98"/><rect class="x" x="1133" y="414.5" width="15" height="2.5" fill="#00f" opacity="0.92"/><rect x="1130.3" y="369" width="3.4" height="107" fill="#ff0" opacity="0.7"/><rect class="x" x="1129.8" y="394" width="4.4" height="65" fill="url(#hv)" opacity="1"/><ellipse class="x" cx="1132" cy="440" rx="3.4" ry="6" fill="url(#hr)" opacity="0.99"/><ellipse class="x" cx="1133" cy="449" rx="3.5" ry="2.5" fill="url(#hr)" opacity="0.97"/><rect class="x" x="1152.4" y="398" width="3.8" height="55" fill="url(#hv)" opacity="1"/><ellipse class="x" cx="1153" cy="440" rx="4.5" ry="3.8" fill="url(#hr)" opacity="0.98"/><rect class="x" x="1147" y="413" width="3.4" height="40" fill="url(#hv)" opacity="1"/><ellipse class="x" cx="1148" cy="441" rx="3" ry="3" fill="url(#hr)" opacity="0.93"/><rect x="1133" y="414.5" width="15" height="3" fill="#ff0" opacity="0.5"/><rect x="1194.4" y="370" width="3.2" height="106" fill="#ff0" opacity="0.65"/><rect class="x" x="1193.8" y="398" width="4.4" height="61" fill="url(#hv)" opacity="1"/><ellipse class="x" cx="1196" cy="440" rx="3.4" ry="6" fill="url(#hr)" opacity="0.99"/><ellipse class="x" cx="1197" cy="450" rx="3.5" ry="2.5" fill="url(#hr)" opacity="0.93"/><rect class="x" x="1208.2" y="388" width="3.8" height="64" fill="url(#hv)" opacity="1"/><ellipse class="x" cx="1210" cy="441" rx="3.4" ry="4" fill="url(#hr)" opacity="0.95"/><rect x="1203" y="400" width="2" height="45" fill="url(#gv)" opacity="0.4"/><rect x="1124.5" y="452" width="3" height="26" fill="url(#gv)" opacity="0.3"/><rect x="1138.5" y="452" width="3" height="26" fill="url(#gv)" opacity="0.3"/><rect x="1158.5" y="452" width="3" height="26" fill="url(#gv)" opacity="0.3"/><rect x="1170.5" y="452" width="3" height="26" fill="url(#gv)" opacity="0.3"/><rect x="1183.5" y="452" width="3" height="26" fill="url(#gv)" opacity="0.3"/><rect x="1201.5" y="452" width="3" height="26" fill="url(#gv)" opacity="0.3"/><rect x="1214.5" y="452" width="3" height="26" fill="url(#gv)" opacity="0.3"/></g>
<g filter="url(#fH)"><rect x="1236" y="365.3" width="196.5" height="115.2" fill="#000"/><rect x="1243" y="370" width="184" height="50" fill="#ff0" opacity="0.06"/><rect x="1244" y="403" width="182" height="18" fill="url(#gd)" opacity="0.45"/><rect x="1244" y="419" width="182" height="18" fill="#ff0" opacity="0.6"/><rect x="1246" y="422.7" width="178" height="1.6" fill="#ff0" opacity="0.3"/><rect x="1246" y="427.2" width="178" height="1.6" fill="#ff0" opacity="0.25"/><rect x="1246" y="432.2" width="178" height="1.6" fill="#ff0" opacity="0.3"/><rect x="1244" y="436" width="182" height="42" fill="#ff0" opacity="0.62"/><rect x="1245" y="436.5" width="175" height="7" fill="#ff0" opacity="0.61"/><rect class="x" x="1246" y="436.6" width="178" height="1.8" fill="#00f" opacity="1"/><rect class="x" x="1246" y="440.8" width="178" height="1.8" fill="#00f" opacity="1"/><rect x="1245" y="445" width="175" height="27" fill="#ff0" opacity="0.74"/><ellipse class="x" cx="1250" cy="452" rx="4" ry="6" fill="url(#hr)" opacity="0.92"/><ellipse class="x" cx="1262" cy="449" rx="6" ry="2.5" fill="url(#hr)" opacity="0.9"/><ellipse class="x" cx="1276" cy="451" rx="8" ry="2.5" fill="url(#hr)" opacity="0.9"/><ellipse class="x" cx="1292" cy="450" rx="7" ry="2.5" fill="url(#hr)" opacity="0.9"/><ellipse class="x" cx="1304" cy="453" rx="5" ry="3" fill="url(#hr)" opacity="0.9"/><ellipse class="x" cx="1258" cy="459" rx="6" ry="2.5" fill="url(#hr)" opacity="0.88"/><ellipse class="x" cx="1285" cy="461" rx="9" ry="2.8" fill="url(#hr)" opacity="0.92"/><ellipse class="x" cx="1300" cy="461" rx="5" ry="2" fill="url(#hr)" opacity="0.9"/><ellipse class="x" cx="1270" cy="467" rx="7" ry="2" fill="url(#hr)" opacity="0.88"/><ellipse class="x" cx="1292" cy="468" rx="4" ry="1.8" fill="url(#hr)" opacity="0.85"/><ellipse class="x" cx="1366" cy="451" rx="6" ry="3" fill="url(#hr)" opacity="0.9"/><ellipse class="x" cx="1380" cy="449" rx="8" ry="2.5" fill="url(#hr)" opacity="0.9"/><ellipse class="x" cx="1396" cy="452" rx="7" ry="2.5" fill="url(#hr)" opacity="0.88"/><ellipse class="x" cx="1410" cy="450" rx="5" ry="2" fill="url(#hr)" opacity="0.85"/><ellipse class="x" cx="1375" cy="461" rx="7" ry="2.5" fill="url(#hr)" opacity="0.9"/><ellipse class="x" cx="1392" cy="461" rx="9" ry="2.8" fill="url(#hr)" opacity="0.92"/><ellipse class="x" cx="1383" cy="467" rx="8" ry="2" fill="url(#hr)" opacity="0.88"/><ellipse class="x" cx="1362" cy="466" rx="4" ry="3" fill="url(#hr)" opacity="0.88"/><ellipse class="x" cx="1405" cy="464" rx="4" ry="2" fill="url(#hr)" opacity="0.8"/><rect class="x" x="1312" y="444" width="39" height="28.5" fill="#00f" opacity="0.81"/><ellipse class="x" cx="1332" cy="449" rx="12" ry="4" fill="url(#hr)" opacity="0.98"/><ellipse class="x" cx="1322" cy="462" rx="8" ry="4" fill="url(#hr)" opacity="0.98"/><rect class="x" x="1318" y="465" width="32" height="5" fill="#00f" opacity="0.81"/><rect x="1407" y="436" width="22" height="42" fill="url(#kri)" opacity="0.5"/><rect x="1244" y="455" width="51" height="6" fill="#000" opacity="0.4"/><rect x="1365" y="447" width="55" height="5" fill="#000" opacity="0.4"/><rect x="1258" y="463" width="54" height="9" fill="#000" opacity="0.45"/><rect x="1368" y="462" width="52" height="10" fill="#000" opacity="0.45"/><rect x="1290" y="444" width="22" height="5" fill="#000" opacity="0.35"/><rect x="1313" y="464.5" width="37" height="5" fill="#ff0" opacity="0.8"/><path d="M1246.9 369 L1249.3 369 L1252.2 478 L1246.2 478 Z" fill="url(#gt)" opacity="0.66"/><path d="M1276.9 372 L1279.3 372 L1280.1 420 L1277.1 420 Z" fill="url(#gt)" opacity="0.4"/><path d="M1297.9 371 L1300.3 371 L1301.8 440 L1297.8 440 Z" fill="url(#gt)" opacity="0.55"/><path d="M1303.9 371 L1306.3 371 L1307.8 440 L1303.8 440 Z" fill="url(#gt)" opacity="0.55"/><path d="M1312.9 369 L1315.3 369 L1321 478 L1311 478 Z" fill="url(#gt)" opacity="0.8"/><path d="M1338.9 371 L1341.3 371 L1342.8 440 L1338.8 440 Z" fill="url(#gt)" opacity="0.55"/><path d="M1343.4 371 L1345.8 371 L1346.6 440 L1343.6 440 Z" fill="url(#gt)" opacity="0.5"/><path d="M1351.9 370 L1354.3 370 L1357.9 478 L1350.9 478 Z" fill="url(#gt)" opacity="0.7"/><path d="M1357.4 370 L1359.8 370 L1361.3 440 L1357.3 440 Z" fill="url(#gt)" opacity="0.6"/><path d="M1388.9 378 L1391.3 378 L1392.8 425 L1388.8 425 Z" fill="url(#gt)" opacity="0.4"/><path d="M1403.4 371 L1405.8 371 L1406.6 425 L1403.6 425 Z" fill="url(#gt)" opacity="0.5"/><path d="M1420.9 410 L1423.3 410 L1424.1 430 L1421.1 430 Z" fill="url(#gt)" opacity="0.3"/><rect class="x" x="1311.2" y="369" width="6.8" height="109" fill="#00f" opacity="0.85"/><rect x="1317" y="380" width="5" height="98" fill="url(#gd)" opacity="0.5"/><rect class="x" x="1317" y="400" width="3" height="78" fill="url(#hv)" opacity="0.98"/><rect class="x" x="1351.2" y="385" width="5.2" height="93" fill="url(#hv)" opacity="0.85"/><rect x="1352" y="369" width="3" height="51" fill="#ff0" opacity="0.6"/><ellipse class="x" cx="1315" cy="430" rx="3.5" ry="14" fill="url(#hr)" opacity="0.97"/><ellipse class="x" cx="1354.5" cy="452" rx="3.5" ry="9" fill="url(#hr)" opacity="0.99"/></g>
<g filter="url(#fI)"><rect x="1083" y="475" width="119" height="112.6" fill="#000"/><rect x="1086" y="478" width="4" height="107" fill="#ff0" opacity="0.68"/><rect x="1087" y="478" width="9" height="27" fill="url(#gl)" opacity="0.45"/><rect x="1087" y="500" width="63" height="22" fill="url(#gl)" opacity="0.4"/><rect x="1087" y="510" width="83" height="18" fill="url(#gl)" opacity="0.4"/><rect x="1087" y="507.2" width="48" height="1.6" fill="url(#gl)" opacity="0.3"/><rect x="1087" y="512.2" width="63" height="1.6" fill="url(#gl)" opacity="0.35"/><rect x="1087" y="517.2" width="78" height="1.6" fill="url(#gl)" opacity="0.4"/><rect x="1087" y="522.7" width="81" height="1.6" fill="url(#gl)" opacity="0.45"/><rect x="1087" y="526.2" width="78" height="1.6" fill="url(#gl)" opacity="0.4"/><rect x="1087" y="529" width="105" height="12" fill="#ff0" opacity="0.6"/><rect x="1130" y="529" width="64" height="12" fill="url(#kri)" opacity="0.6"/><rect x="1087" y="531" width="105" height="3" fill="url(#gl)" opacity="0.4"/><rect x="1087" y="534.1" width="63" height="1.4" fill="url(#gl)" opacity="0.6"/><rect x="1087" y="538.5" width="105" height="2" fill="url(#gl)" opacity="0.4"/><rect x="1090" y="536" width="104" height="2" fill="#000" opacity="0.4"/><rect x="1087" y="541" width="106" height="24" fill="#ff0" opacity="0.62"/><rect x="1150" y="541" width="45" height="24" fill="url(#kri)" opacity="0.4"/><rect x="1087" y="544" width="63" height="20" fill="url(#gl)" opacity="0.85"/><rect class="x" x="1087" y="543.5" width="38" height="20.5" fill="url(#hl)" opacity="0.77"/><rect class="x" x="1087" y="544.4" width="103" height="3.2" fill="url(#hl)" opacity="1"/><rect class="x" x="1087" y="550.4" width="113" height="3.4" fill="url(#hl)" opacity="1"/><rect class="x" x="1087" y="558.2" width="128" height="3.8" fill="url(#hl)" opacity="1"/><ellipse class="x" cx="1089.5" cy="548" rx="3.5" ry="4.5" fill="url(#hr)" opacity="0.99"/><ellipse class="x" cx="1089.5" cy="560" rx="4.5" ry="2.8" fill="url(#hr)" opacity="0.99"/><rect class="x" x="1087" y="533.8" width="43" height="1.8" fill="url(#hl)" opacity="0.98"/><rect class="x" x="1087" y="566" width="13" height="4" fill="url(#hl)" opacity="0.98"/><rect x="1087" y="564" width="103" height="21" fill="#ff0" opacity="0.6"/><rect x="1140" y="566" width="56" height="19" fill="url(#kri)" opacity="0.55"/><rect x="1087" y="564" width="13" height="8" fill="url(#gl)" opacity="0.5"/></g>
<rect x="162" y="192.5" width="250" height="108" fill="#fff" opacity="0.62"/>
<rect x="639" y="192.5" width="172" height="108" fill="#fff" opacity="0.62"/>
<rect x="411.8" y="192.3" width="98.4" height="107.7" fill="none" stroke="#111" stroke-width="1.3"/>
<rect x="510.2" y="192.3" width="128.3" height="107.7" fill="none" stroke="#111" stroke-width="1.3"/>
<rect x="345.6" y="483.3" width="62" height="214.7" fill="none" stroke="#111" stroke-width="1.3"/>
<rect x="505.3" y="483.3" width="113" height="214.7" fill="none" stroke="#111" stroke-width="1.3"/>
<circle cx="176.9" cy="61.8" r="14.6" fill="#fff" filter="url(#soft)"/><text x="171.7" y="68.8" font-family="'Liberation Sans',sans-serif" font-size="21" textLength="13.6" lengthAdjust="spacingAndGlyphs" fill="#161616">1.</text>
<circle cx="176.9" cy="207.3" r="14.6" fill="#fff" filter="url(#soft)"/><text x="171.7" y="214.3" font-family="'Liberation Sans',sans-serif" font-size="21" textLength="13.6" lengthAdjust="spacingAndGlyphs" fill="#161616">2.</text>
<text x="171.7" y="359.3" font-family="'Liberation Sans',sans-serif" font-size="21" textLength="13.6" lengthAdjust="spacingAndGlyphs" fill="#161616">3.</text>
<text x="171.7" y="505" font-family="'Liberation Sans',sans-serif" font-size="21" textLength="13.6" lengthAdjust="spacingAndGlyphs" fill="#161616">4.</text>
<circle cx="910.5" cy="61.8" r="14.6" fill="#fff" filter="url(#soft)"/><text x="905.3" y="68.8" font-family="'Liberation Sans',sans-serif" font-size="21" textLength="13.6" lengthAdjust="spacingAndGlyphs" fill="#161616">5.</text>
<line x1="865" y1="47.5" x2="865" y2="652" stroke="#858585" stroke-width="1.5" stroke-dasharray="5.6 5"/>
<path d="M-3.65 -13.2 L3.65 -13.2 L3.65 2.8 L8.7 2.8 L0 13.4 L-8.7 2.8 L-3.65 2.8 Z" fill="#1c1c1c" transform="translate(574.3 318.5)"/>
<path d="M-3.65 -13.2 L3.65 -13.2 L3.65 2.8 L8.7 2.8 L0 13.4 L-8.7 2.8 L-3.65 2.8 Z" fill="#1c1c1c" transform="translate(393.6 318.7) rotate(45)"/>
</svg>

<div class="c" style="left:7px;top:729px;font-style:italic">Figure 4.32:</div>
<div class="c j" style="left:146px;top:729px;width:1403.3px">Iteration in constructing the first half of the first part in <i>Leere Null</i>: (1.) Initial sound gesture. (2.) Dissected into two smaller sub-regions.</div>
<div class="c j" style="top:761px">(3.) The previous phrase is extended by specifying a minimum and maximum dilation. (4.) The actual spacing is a result of the similarity</div>
<div class="c j" style="top:793px">search. It finds the matches which produce a best correlation <i>both</i> with the left region and the right region within the specified dilation</div>
<div class="c" style="left:147.5px;top:825px;word-spacing:1.25px">bounds. (5.) Multiple sounds have been layered at time 0&#8242;48&#8243;.</div>

</body></html>
